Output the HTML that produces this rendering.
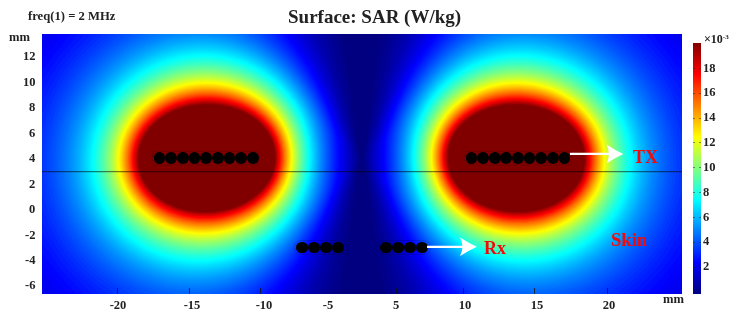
<!DOCTYPE html>
<html><head><meta charset="utf-8">
<style>
html,body{margin:0;padding:0;background:#fff;}
body{width:737px;height:319px;position:relative;overflow:hidden;filter:blur(0.3px);font-family:"Liberation Serif",serif;font-weight:bold;color:#222;}
.t{position:absolute;white-space:nowrap;line-height:1;will-change:transform;}
.c{width:100px;text-align:center;}
#plot{position:absolute;left:42px;top:34px;width:640px;height:260px;overflow:hidden;}
#cb{position:absolute;left:693.4px;top:42.5px;width:7.2px;height:251.5px;
 background:linear-gradient(to top,#000080 0,#0000ff 12.5%,#00ffff 37.5%,#ffff00 62.5%,#ff0000 87.5%,#800000 100%);}
.xt{position:absolute;top:288px;width:1px;height:6px;background:#111;opacity:.75}
.cbt{position:absolute;width:1.8px;height:1.2px;background:#222;opacity:.5}
.dot{position:absolute;width:11.8px;height:11.8px;border-radius:50%;background:#000;}
.red{color:#f20a0a;font-size:18px;}
</style></head><body>
<div class="t" style="left:28px;top:11px;font-size:11.5px;transform:scaleX(1.1);transform-origin:0 0;">freq(1) = 2 MHz</div>
<div class="t" style="left:288px;top:6.5px;font-size:19px;">Surface: SAR (W/kg)</div>
<div class="t" style="left:9.3px;top:30.6px;font-size:12.6px;">mm</div>
<div id="plot"><svg width="640" height="260" viewBox="0 0 640 260" style="position:absolute;left:0;top:0"><rect width="640" height="260" fill="#000080"/><g><path fill="#00008b" d="M295.5 262l-297.5 0 0 -264 300.8 0 7 41.5 8.7 66.4 3.2 18.6 -2.7 14.5 -6.3 48 -4 27 -5.4 30 -3.4 18 -0.4 0z"/><path fill="#000093" d="M287.5 262l-289.5 0 0 -264 293.6 0 5.6 24 5.1 23.5 13.9 79 -15.5 84.5 -6.5 27.5 -6.7 25.5z"/><path fill="#00009b" d="M281 262l-283 0 0 -264 288.2 0 7.5 27 6.5 26 14.2 69 0.3 6 -11.5 56.5 -5.9 25.5 -8.4 30 -6.1 18 -1.4 6 -0.4 0z"/><path fill="#0000a3" d="M276 262l-278 0 0 -264 283.6 0 9.1 28.5 7.9 28.5 14.2 63 0.4 9 -0.6 4.5 -10.4 45.5 -7.3 29 -9 28.5 -9.9 27.5z"/><path fill="#0000ab" d="M271 262l-273 0 0 -264 279.5 0 10.7 30 9 30 14 58 0.6 4 0 8 -0.9 6 -9.6 39.5 -8.9 32 -5.1 15.5 -5.5 15 -7 16.5 -3.8 9.5z"/><path fill="#0000b3" d="M266.5 262l-268.5 0 0 -264 275.8 0 6.4 16.5 5.6 14.5 5.4 15.5 5.1 17 13.4 52.5 0.6 5 0 10 -1.1 7.5 -8.5 33 -5.4 19.5 -5.1 16 -5.9 16.5 -6.1 15 -7.9 17 -3.3 8.5 -0.5 0z"/><path fill="#0000bb" d="M262.5 262l-264.5 0 0 -264 272.3 0 6.9 16.5 6.6 15.5 6 16.5 5.5 17.5 12.9 48.5 0.7 5.5 0 12 -1.3 8.5 -7.3 27.5 -6 20.5 -6 18 -6 15.5 -6.5 15 -7.9 16 -5 11 -0.4 0z"/><path fill="#0000c3" d="M259 262l-261 0 0 -264 269 0 7.7 17 7.2 16 6.5 17 6.3 19 6.6 23 5.6 21.5 0.7 5.5 -0.1 14 -1.4 9 -6.3 23 -6.5 21.5 -6.5 18.5 -6 15 -6.8 14.9 -7.4 14.1 -7.6 15z"/><path fill="#0000cb" d="M255 262l-257 0 0 -264 265.8 0 8.6 17.5 7.7 16.5 7.1 17.5 6.5 19 7.1 23.5 4.7 18.5 0.7 6 -0.1 15.5 -1.5 9.5 -5.8 21 -7.1 22 -7 19 -6.7 15.7 -7.3 14.8 -8.4 15 -7.3 13z"/><path fill="#0000d3" d="M251.5 262l-253.5 0 0 -264 262.8 0 9.2 17.8 8.3 16.7 7.4 17.5 7 19.5 7.1 23 4.3 16.5 0.8 7 -0.1 16.5 -1.4 9.5 -5.2 18.5 -7.4 22.5 -7.5 19.5 -7.1 16 -7.7 14.8 -8.5 14.3 -8.5 14.4z"/><path fill="#0000db" d="M248 262l-250 0 0 -264 259.8 0 9.7 17.6 8.8 16.9 8 18 7.5 20 6.9 22 4.1 15.5 0.7 7.5 -0.1 17.5 -1.3 10 -5.2 18 -7.5 22 -7.8 19.5 -7.5 16 -8.1 14.8 -8.6 13.7 -9.4 15z"/><path fill="#0000e3" d="M244 262l-246 0 0 -264 256.9 0 10.5 18 9.3 17 8.5 18.5 7.7 20 6.9 21.5 3.7 14.5 0.7 8.5 -0.1 18 -1.5 10.5 -5.3 18 -7.6 21.5 -8.5 20 -8 16 -9 15.5 -10.2 14.9 -7.5 11.6 -0.5 0z"/><path fill="#0000eb" d="M240.5 262l-242.5 0 0 -264 254 0 11 17.9 9.9 17.1 8.8 18.5 8 20 6.8 20.5 3.7 14.5 0.8 9.5 -0.2 18.5 -1.6 11 -5 17 -7.8 21.5 -8.6 19.5 -8.6 16.5 -9.2 15.1 -11 15.3 -8 9.6 -0.5 2z"/><path fill="#0000f3" d="M237 262l-227.2 0 -5.1 -7.5 -6.7 -5.5 0 -241.9 7.9 -9.1 243.3 0 11.3 17.5 10.3 17 9 18 8.5 20.5 6.8 20 3.8 14.5 0.8 10.5 -0.2 18.5 -1.5 11.5 -4.9 16.5 -7.8 21 -9.1 20 -8.9 16.5 -9.8 15.3 -11 14.5 -8 9.1 -1.5 3.1z"/><path fill="#0000fb" d="M233.5 262l-214.3 0 -12.6 -15.5 -8.6 -8.4 0 -220.2 9 -9.2 7.6 -10.7 231.8 0 0.6 2.8 12 15.8 10.5 16.8 9.6 18.6 8.6 20.5 6.5 19 3.4 13.5 0.9 12.5 -0.3 18 -1.5 11.5 -5 16.5 -8.1 21 -9.2 19.5 -9.4 16.6 -10 14.8 -11.5 14.4 -7.5 8.1 -2.5 4.1z"/><path fill="#0004ff" d="M230 262l-201.9 0 -10.3 -12 -9.3 -10.8 -10.5 -11.6 0 -199.2 12.7 -14.9 11.9 -15.5 220.9 0 7.2 10.5 11.6 16 10.2 17.3 9.3 19.2 8.1 20.5 4.6 14.5 2.2 10.5 0.6 15.5 -0.6 17 -2.1 12 -6 18 -7.9 19 -9.2 18.4 -9.4 15.6 -10.1 14.3 -11.5 13.5 -10.5 12.2z"/><path fill="#000cff" d="M226.5 262l-190 0 -13.9 -15 -12.3 -14.5 -12.3 -15.3 0 -178.5 8.4 -10.2 7.2 -10 8 -9.5 8.6 -11 210.5 0 7.3 10.2 6.5 8.1 10.7 15.7 9.8 17.4 8.8 19.1 7.3 19.5 3.2 11.5 1.4 9 0.4 16.5 -0.8 16.5 -2.7 12.5 -6.3 18 -8 18.5 -9.3 17.5 -9.5 15.1 -10.5 13.9 -11.5 12.9 -11 12.1z"/><path fill="#0014ff" d="M222.5 262l-177.9 0 -9.1 -9.6 -8.7 -8.4 -8 -9 -7.3 -9.5 -5.9 -9 -7.6 -9.7 0 -157.7 9.8 -13.6 8.6 -12.5 10 -12 11 -13 200.4 0 10.7 13.6 9.5 12.3 10 15.4 9 16.7 8.1 18.5 6.3 18 2.4 10 0.9 10 0.1 17 -1.1 15 -3.4 13.5 -6.7 18 -8.4 18 -9.2 16.4 -10 14.8 -10.5 13.1 -12.5 13 -8 7 -2.5 3.7z"/><path fill="#001cff" d="M219 262l-166.5 0 -11 -10.6 -10.5 -9.9 -9.5 -10.7 -8.5 -11.5 -6.9 -11.3 -8.1 -12 0 -136.1 10.6 -16.9 10.2 -15.5 12 -14.5 13.5 -15 190.7 0 14 16.9 12.5 16.6 9 14.7 8.1 15.8 7.4 17.5 5.1 15.5 1.9 10 0.8 13 -0.3 16 -1.4 13 -3.8 14 -6.9 17.5 -8.4 17.1 -9.5 16.1 -10 14.2 -11 13 -11.5 11.4 -12 11.7z"/><path fill="#0024ff" d="M215 262l-154.8 0 -13.2 -11.7 -12.3 -11.3 -11 -12.5 -9.6 -13.5 -7.8 -14 -8.3 -14.4 0 -113.3 6.2 -10.3 4.9 -10 5.7 -10 6 -9 6.7 -8.7 7.3 -8.3 7.7 -7.7 8.3 -9.3 181.2 0 9 10.6 8.5 9.4 8 10.3 7.3 10.7 8.1 14 7.3 15 6.2 15.5 4.1 13.5 1.6 10.5 0.6 15.5 -0.7 16 -1.6 11 -4.4 14.5 -7.4 17.5 -8.6 16.6 -9.5 15.1 -10.5 14 -11 12.2 -12 11.1 -12 11z"/><path fill="#002cff" d="M210.5 262l-142.7 0 -15.3 -12.5 -14.1 -12.5 -12.4 -14.2 -10.7 -15.8 -8.7 -17 -3.6 -9 -5 -9.3 0 -87.6 6 -12.1 5 -12 6 -11.5 6.8 -11 7.8 -10.5 8.4 -9.6 9.5 -9.3 9.7 -10.1 171.8 0 11 12.1 10 10.9 9.5 12.5 8.7 13.5 7.3 13.5 6.5 14.2 5.1 13.8 2.8 11 1.4 12.5 0.1 16 -1.1 15.5 -2 10.5 -5.1 15 -7.7 16.9 -8.6 15.6 -9.9 14.8 -10.5 13.1 -11.5 11.9 -13 11 -7.5 5.4 -4 4.3z"/><path fill="#0034ff" d="M206.5 262l-131.1 0 -8.9 -7.3 -9 -6.2 -8.1 -6.5 -7.9 -7.4 -7.1 -7.6 -6.5 -8 -6.3 -9 -5.4 -9 -5.4 -11 -4.6 -11.5 -3.6 -11.5 -4.6 -11.9 0 -54.4 3.7 -8.2 4 -14 4.9 -13 6.1 -12.5 7.6 -12.5 8.5 -11.5 9.2 -10.5 10.5 -9.9 10.9 -10.6 162.6 0 12.5 13 12 13 11 14.6 9.7 15.9 6.6 13 5.5 13 3.8 11.5 2.1 10 1.2 15 -0.3 16.5 -1.4 13.5 -2.8 11.5 -5.7 15 -7.8 16 -8.9 15.1 -10 14 -10.5 12.3 -11.5 11.1 -12 9.6 -13 10.4z"/><path fill="#003cff" d="M201.5 262l-118.4 0 -10.1 -7.4 -10 -6.5 -9.5 -7.3 -8.6 -7.8 -7.9 -8.5 -7.6 -9.5 -6.7 -10 -5.6 -10 -5.4 -12 -4.5 -13 -3.3 -13.5 -2 -13.5 -0.8 -13.5 0.5 -14 1.7 -13.5 3 -13.5 4.1 -13 5.4 -13 6.6 -12.5 7.5 -11.5 8.6 -11 9.5 -10.1 10.5 -9.3 11 -10.1 153.3 0 7.7 8 7 6.3 13.5 14.5 12.3 16.7 10.7 18.6 6 12.9 4.6 12 2.7 10 1.4 10 0.6 16.5 -0.8 16.5 -1.9 12 -3.6 12 -6.5 15.2 -8.1 15.3 -9.4 14.5 -10 12.9 -11 11.8 -11.5 10.2 -12.5 9 -12.5 9.1z"/><path fill="#0044ff" d="M196.5 262l-105.5 0 -11.5 -7.6 -11.4 -6.9 -10.6 -7.8 -9.5 -8.4 -9 -9.6 -8 -10.2 -7.1 -11 -6 -11.5 -5.1 -12.5 -3.8 -12.5 -2.7 -13 -1.6 -13.5 -0.2 -13 0.9 -13.5 2.2 -13.5 3.3 -13 4.4 -12.5 5.7 -12.5 6.8 -12 7.7 -11 8.8 -10.5 9.5 -9.5 10.2 -8.6 11.4 -9.9 144.2 0 8.4 8.2 8.5 7.4 7.5 7.4 7.5 8.5 7 9.2 6.5 9.7 6 10.2 5.5 10.9 5.5 13 3.5 11.5 1.8 10 0.9 13 -0.2 15.5 -1.5 14.5 -2.6 11 -4.4 12 -7 14.8 -8.5 14.6 -9.2 13.1 -10.3 12.3 -11 10.9 -12 9.7 -12.5 8.2 -12.5 8.4z"/><path fill="#004cff" d="M190.5 262l-91.1 0 -8.9 -5.7 -12 -6.1 -11 -6.9 -10.5 -8.1 -9.5 -8.9 -8.7 -9.8 -7.8 -10.6 -6.8 -11.4 -5.7 -12 -4.4 -12 -3.3 -12.5 -2.2 -13 -1 -13 0.2 -13 1.5 -13.5 2.6 -13 3.7 -12.5 4.7 -12 6.1 -12 7.1 -11.5 7.9 -10.5 9 -10 9.6 -8.9 10.5 -8.1 10.8 -9 134.9 0 9.8 8.9 9 7.4 9 8.8 8 9.1 7.8 10.3 7.1 11 6.3 11.5 5.4 11.5 4.5 12.5 2.5 10.5 1.4 13.5 0.1 15 -1 14 -2 11.5 -3.6 11.5 -5.4 12.5 -7.6 14.1 -8.7 13.4 -9.8 12.6 -10.5 11.2 -11 9.8 -12 8.7 -12.5 7.2 -12.5 7.5z"/><path fill="#0054ff" d="M183.5 262l-74.9 0 -11.6 -6.1 -11.5 -5.3 -11 -6.3 -10.5 -7.3 -9.9 -8.5 -8.8 -9 -8.1 -10 -7 -10.5 -5.9 -11 -5.1 -12 -3.9 -12 -2.8 -12.5 -1.6 -12.5 -0.4 -13 0.8 -13 1.8 -12.5 3 -12.5 4.1 -12 5 -11.5 6.3 -11.5 7.4 -11 8.1 -10 9 -9.4 9.5 -8.2 10.5 -7.7 11.3 -8.7 125.3 0 10.9 9.1 10 7.9 9.5 9.1 9 10.1 8.5 11.4 7.5 11.9 6.6 12.5 5.3 12.5 3.5 11.5 2 12 0.8 16 -0.7 15.5 -1.6 12 -2.7 10.5 -4.7 12 -6.1 12.5 -8.2 13.5 -9.2 12.8 -10 11.4 -10.5 10.1 -11.5 9.1 -12.5 7.9 -13 6.4 -12 6.3z"/><path fill="#005cff" d="M175 262l-55.5 0 -10.5 -4.8 -10 -3.5 -10 -4.5 -9 -4.8 -10.5 -6.9 -9.5 -7.5 -9 -8.5 -8.3 -9.5 -7.2 -10 -6.3 -10.5 -5.4 -11.5 -4.2 -11.5 -3.2 -12 -2.1 -12 -1 -12.5 0.2 -12.5 1.3 -12.5 2.5 -12.5 3.5 -12 4.4 -11.5 5.5 -11 6.6 -11 7.4 -10 8.3 -9.5 9 -8.6 10 -8 10.5 -7 10.8 -7.9 115.5 0 11.7 9.1 11 8.2 10.5 9.7 9.5 10.5 9.3 12.5 8 13 6.8 13.5 5 13 2.9 12 1.5 15 0 15.5 -1.5 15 -2.2 11 -3.5 10.5 -5.4 12 -7 12.5 -8.7 13 -9.7 11.9 -10.5 10.8 -11.5 9.7 -12 8.2 -12.5 6.7 -13 5.2 -12.5 5.5z"/><path fill="#0064ff" d="M161 262l-25.5 0 -10.5 -3.5 -10.5 -2.4 -11.5 -3.7 -11 -4.7 -10.5 -5.6 -10 -6.5 -9.5 -7.4 -8.5 -8 -8 -9 -7 -9.5 -6.2 -10.2 -5.2 -10.5 -4.2 -11 -3.3 -11.5 -2.3 -11.5 -1.2 -12 -0.1 -11.5 0.9 -12 1.9 -12 3 -11.5 4 -11.5 4.9 -11 5.9 -10.5 6.8 -10 7.7 -9.5 8.4 -8.8 9 -7.8 10 -7.4 10.5 -6.3 10.4 -7.2 105.3 0 2.8 3.4 12.5 7.3 11.5 8.6 11 10.1 10.5 11.9 9.5 13.2 8.2 14 6.4 14 4.1 13 2.2 13.5 0.8 15.5 -0.8 15 -2.2 14.5 -3.3 11.5 -5.1 12 -7.1 13 -8.2 12.5 -9.5 11.9 -10.5 10.9 -11.5 9.8 -12 8.3 -12.5 6.8 -13.5 5.5 -13.5 3.7 -13.5 4.1z"/><path fill="#006cff" d="M158 258l-11.5 0.3 -11.5 -0.8 -11.5 -1.8 -11.5 -3 -11 -3.8 -11 -5 -10.4 -5.9 -9.6 -6.7 -9 -7.5 -8.4 -8.3 -7.5 -9 -6.6 -9.5 -5.7 -10 -5 -11 -3.9 -11 -2.9 -11.5 -1.8 -11.5 -0.7 -12 0.3 -12 1.3 -11.5 2.3 -11.5 3.4 -11.5 4.4 -11 5.2 -10.5 6.4 -10.5 7 -9.5 7.7 -8.7 8.6 -8.3 9.4 -7.6 10 -6.7 10.5 -5.9 10.8 -6.8 94.5 0 10.7 7.2 12 7.5 11.5 9 10.5 10.1 9.9 11.7 9 13 7.6 13.7 5.7 13.3 3.6 12.5 1.9 14 0.5 15 -1 14.5 -2.4 14 -3.5 11.5 -5.6 12.5 -7.2 12.7 -8.5 12.3 -10 11.9 -10.5 10.3 -11.5 9.3 -12 7.7 -12.5 6.3 -13 4.9 -13.5 3.3 -14 1.8z"/><path fill="#0074ff" d="M153.5 256l-14 -0.4 -14 -1.9 -14 -3.6 -13.5 -5.1 -12.5 -6.3 -12 -7.8 -11 -9 -10.2 -10.4 -8.6 -11 -7.4 -12 -5.9 -12.5 -4.7 -13.5 -3.1 -14 -1.6 -14 0 -14.5 1.6 -14 3.1 -14 4.5 -13.5 6 -13 7.5 -12.5 8.8 -11.7 10 -10.7 11 -9.4 12 -8.4 13 -7 14 -7.8 82.8 0 10.2 6.3 10 5.4 10 6.6 9 7.2 9 8.5 8 9 7.5 10 6.7 10.5 5.4 10 4.2 9.5 3 9 2 9 1.5 11.5 0.4 11.5 -0.4 12 -1.4 11.5 -2.1 10 -3.1 9.5 -4.6 10.5 -5.7 10.5 -6.9 10.5 -7.5 9.8 -8 8.9 -9 8.6 -8.5 6.8 -9.5 6.5 -10 5.7 -10 4.5 -10 3.5 -10.5 2.7 -10.5 1.7 -11 0.8z"/><path fill="#007cff" d="M160.5 253.5l-11.5 0.4 -12 -0.8 -12 -1.9 -11.5 -2.9 -11 -3.9 -11 -5.1 -10.5 -6.1 -9.4 -6.7 -9.1 -7.8 -8 -8.3 -7.2 -8.9 -6.6 -10 -5.6 -10.5 -4.4 -10.5 -3.6 -11.5 -2.4 -11.5 -1.3 -11.5 -0.3 -12 0.9 -12 1.9 -11.5 3 -11.5 4 -11 5.1 -11 6.1 -10.5 7.1 -10 7.7 -9 8.6 -8.4 9.5 -7.7 10 -6.8 10.5 -5.8 11 -4.9 11.4 -5.9 69.8 0 14.8 7.7 14 7.6 11 7.8 10.5 9.2 9.5 10.1 9 11.6 7.8 12.5 6.3 12.5 4.3 11.5 2.7 12 1.4 13.5 0.2 14 -1.3 14 -2.5 13 -3.6 11 -5.3 11.5 -7 12 -8 11.3 -9.5 11.1 -10 9.7 -11 8.7 -11.5 7.4 -12 6 -12.5 4.7 -13 3.3 -13.5 1.8z"/><path fill="#0083ff" d="M160 251.5l-11.5 0.3 -12 -0.9 -12 -2 -11.5 -3.1 -11 -4 -11 -5.3 -10.5 -6.3 -9.5 -7 -9 -8.1 -7.9 -8.6 -7.2 -9.5 -6.2 -10 -5.2 -10.5 -4.2 -11 -3.1 -11.5 -2 -11.5 -0.9 -11.5 0.2 -12 1.4 -12 2.4 -11.5 3.6 -11.5 4.5 -11 5.8 -11 6.6 -10 7.5 -9.5 8.2 -8.6 9 -7.9 10 -7.2 10.5 -6.3 11 -5.3 11 -4.1 11.5 -5.1 54.2 0 10.8 5.1 10.5 4.2 10 5.1 10 6.3 10.5 8.2 10 9.6 9 10.5 8.1 11.5 6.9 12 5.3 12 3.4 11 2.1 12 1 13 -0.3 13.5 -1.6 13.5 -2.7 12 -4 11 -5.6 11.5 -7.1 11.5 -8 10.7 -9.5 10.6 -10 9.2 -11 8.3 -11 6.7 -12 5.7 -12 4.2 -12.5 3 -13 1.6z"/><path fill="#008bff" d="M161 249.5l-12 0.3 -12 -0.9 -12 -2 -12 -3.3 -11.5 -4.3 -10.5 -5.2 -10.5 -6.5 -9.5 -7.2 -9 -8.3 -8 -9 -6.9 -9.6 -6.2 -10.5 -5 -11 -3.8 -11 -2.7 -11.5 -1.6 -12 -0.5 -12 0.8 -12 1.9 -12 3.2 -12 4.3 -11.5 5.3 -11 6.4 -10.5 7 -9.5 8.3 -9.2 9 -8.3 9.5 -7.2 10.5 -6.6 11 -5.5 11.5 -4.5 12 -3.5 12 -4.2 32.7 0 15.3 5.2 11 3.7 11 5 10.5 6.1 10 7.2 10 8.9 9 9.7 8.3 10.7 7.2 11.5 5.6 11 4.1 11 2.6 10.5 1.7 12.5 0.5 12.5 -0.7 12.5 -1.9 12.5 -3 11.5 -4.1 10.5 -5.8 11.2 -7 10.9 -8.1 10.4 -8.9 9.6 -10 9 -10.5 7.7 -11 6.5 -11.5 5.3 -11.5 4 -12 2.8 -12.5 1.6z"/><path fill="#0093ff" d="M162.5 247.5l-12 0.4 -12.5 -0.8 -12.5 -2.1 -12 -3.3 -11.5 -4.4 -11 -5.5 -10.5 -6.7 -9.8 -7.6 -8.8 -8.5 -7.9 -9.3 -7.1 -10.2 -5.7 -10.5 -4.8 -11.5 -3.5 -11.5 -2.4 -12 -1.1 -12 0.2 -12.5 1.3 -12 2.6 -12 3.7 -11.5 5 -11.5 6.1 -11 6.9 -10 8.1 -9.5 8.7 -8.5 10 -8.1 10.5 -6.8 11 -5.8 12 -4.9 12 -3.5 12 -2.4 12.5 -1.1 11.5 0 11.5 1.3 11.5 2.3 11 3.5 11 4.8 10 5.6 10 6.9 9 7.6 9 9.1 8 9.7 7.4 10.8 6 11 4.3 10 3.1 10 2.1 11.5 1 12 0 12 -1.2 12 -2.2 11.5 -3.1 10.5 -4.6 10.5 -5.8 10.5 -7 10.3 -8 9.9 -8.5 8.7 -9.5 8.2 -10 7.2 -10.5 6.1 -11 5 -11 3.8 -11.5 2.7 -12 1.6z"/><path fill="#009bff" d="M157.5 246l-12.5 -0.2 -12 -1.3 -12 -2.6 -11.5 -3.7 -11.5 -5 -10.5 -5.8 -10 -6.9 -9.3 -8 -8.2 -8.5 -7.4 -9.5 -6.3 -10 -5.5 -11 -4.1 -11 -3 -11.5 -1.9 -12 -0.6 -12 0.6 -12 1.9 -12 2.9 -11.5 4.2 -11.5 5.3 -11 6.4 -10.5 7.5 -9.9 8.4 -9.1 9.1 -8.2 10 -7.3 10.5 -6.3 11.5 -5.4 11.5 -4.2 12 -3 12 -1.9 12.5 -0.6 11.5 0.6 11.5 1.7 11 2.8 11 4 10.5 5.1 10 6.1 9.5 7.2 9 8.2 8.5 9.3 7.5 9.9 6.5 10.5 5.2 10.5 3.7 10 2.5 10 1.7 12 0.6 12 -0.6 12 -1.6 11.5 -2.6 11 -3.6 10 -5.1 10.5 -6.4 10.5 -7.4 10 -8.4 9.4 -9 8.5 -9.5 7.4 -10 6.4 -10.5 5.5 -11 4.4 -11 3.2 -11.5 2.2 -12 1z"/><path fill="#00a3ff" d="M162 244l-12 0.3 -12 -1 -12 -2.1 -12 -3.4 -11.5 -4.5 -10.5 -5.4 -10 -6.4 -9.4 -7.5 -8.6 -8.4 -7.6 -9.1 -6.5 -9.5 -5.7 -10.5 -4.5 -11 -3.3 -11 -2.2 -11.5 -1.1 -12 0.2 -12 1.5 -12 2.5 -11.5 3.9 -11.5 4.9 -11 6 -10.5 7.1 -10 7.8 -9 9 -8.5 9.5 -7.4 10.5 -6.7 11 -5.6 11.5 -4.5 11.5 -3.2 12 -2.2 12 -1 11.5 0.2 11.5 1.3 11 2.4 11 3.6 10.5 4.6 10 5.7 9.5 6.6 9 7.6 8.5 8.7 8 9.9 6.7 10 5.7 10.5 4.1 10 2.8 10 2 11.5 0.9 11.5 -0.1 12 -1.3 11.5 -2.4 11.5 -3.2 10 -4.4 10 -5.7 10 -7 10 -7.6 9.2 -8.5 8.5 -9.5 8 -9.5 6.6 -10.5 5.9 -10.5 4.6 -11.5 3.8 -11.5 2.5 -11.5 1.4z"/><path fill="#00abff" d="M158.5 242.5l-12 -0.1 -12 -1.4 -12 -2.5 -11.5 -3.7 -11 -4.7 -10.5 -5.8 -9.5 -6.6 -9 -7.6 -8.3 -8.6 -7 -9 -6.4 -10 -5.2 -10.5 -3.9 -10.5 -3 -11.5 -1.8 -11.5 -0.6 -11.5 0.6 -12 1.8 -11.5 3 -11.5 4.1 -11 5.3 -11 6.2 -10 7.2 -9.4 8 -8.6 8.9 -8 9.6 -7 10.5 -6.3 11 -5.2 11.5 -4.1 11.5 -2.9 12 -1.8 12 -0.7 11.5 0.6 11.5 1.7 11 2.7 10.5 3.8 10 4.8 10 6 9.5 7.1 8.5 7.6 8.5 9.2 7.2 9.5 6.3 10 5.2 10.5 3.5 9.5 2.6 10.5 1.6 11.5 0.6 11.5 -0.6 11.5 -1.5 11 -2.7 11 -3.5 10 -4.8 10 -6 10 -7.4 9.9 -8 8.9 -8.5 8 -9.5 7.4 -10 6.4 -10.5 5.4 -10.5 4.2 -11 3.2 -11.5 2.1 -11.5 1z"/><path fill="#00b3ff" d="M164.5 240.5l-11.5 0.4 -12 -0.7 -12 -1.9 -11.5 -3.1 -11 -4.1 -11 -5.3 -10 -6.2 -9 -7 -8.5 -7.9 -7.6 -8.7 -6.7 -9.5 -5.6 -10 -4.5 -10.5 -3.5 -11 -2.3 -11 -1.2 -11.5 0.1 -11.5 1.1 -11.5 2.4 -11.5 3.5 -11 4.5 -10.5 5.7 -10.5 6.9 -10 7.7 -9 8.5 -8.3 9 -7.2 10 -6.6 10.5 -5.5 11 -4.5 11.5 -3.5 11.5 -2.3 12 -1.3 11.5 0 11 1 11 2.1 11 3.3 10 4.1 10 5.3 9.5 6.3 9 7.2 8.5 8.3 7.8 9.1 7 10 5.6 10 4.2 9.5 3.1 10 2.1 11 1.2 11.5 0 11.5 -1.1 11.5 -2.1 11 -3.1 10.5 -4 9.5 -5.4 10 -6.4 9.5 -7.4 9 -8.5 8.7 -9 7.7 -9.5 6.7 -10 5.8 -10.5 4.7 -11 3.8 -11 2.6 -11.5 1.5z"/><path fill="#00bbff" d="M163.5 239l-11.5 0.3 -12 -0.9 -11.5 -1.9 -11.5 -3.2 -10.5 -4 -10.5 -5.2 -10 -6.3 -9 -6.9 -8.3 -7.9 -7.3 -8.5 -6.6 -9.5 -5.6 -10 -4.4 -10.5 -3.4 -11 -2.2 -11 -1 -11.5 0.2 -11.5 1.3 -11.5 2.5 -11 3.6 -11 4.7 -10.5 5.7 -10 6.7 -9.5 7.6 -8.8 8.5 -8.1 9 -7 10 -6.4 10.5 -5.4 11 -4.4 11.5 -3.3 11.5 -2.2 12 -1.1 11.5 0.2 11 1.1 11 2.3 10.5 3.3 10.5 4.5 9.5 5.2 9.5 6.5 8.5 7.1 8.5 8.4 7.5 9.1 6.5 9.6 5.4 9.9 3.9 9.5 2.9 10 2.1 11 0.9 11 -0.1 11.5 -1.2 11 -2.2 11 -3.3 10.5 -4.2 9.5 -5.3 9.5 -6.4 9.2 -7.5 9 -8.5 8.5 -9 7.4 -9.5 6.5 -10 5.6 -10.5 4.5 -10.5 3.4 -11 2.5 -11.5 1.4z"/><path fill="#00c3ff" d="M163 237.5l-11.5 0.2 -12 -0.9 -11.5 -2.1 -11 -3.1 -11 -4.3 -10 -5.1 -9.5 -6 -9 -7.1 -8 -7.6 -7.5 -8.9 -6.3 -9.1 -5.4 -10 -4.4 -10.5 -3.1 -10.5 -2.1 -11 -0.9 -11 0.1 -11 1.4 -11.5 2.5 -11 3.5 -10.5 4.7 -10.5 5.7 -10 6.8 -9.5 7.5 -8.6 8.4 -7.9 9.1 -7 10 -6.3 10.5 -5.3 11 -4.3 11.5 -3.3 11.5 -2 11.5 -1 11 0.2 11 1.2 11 2.3 10.5 3.4 10 4.2 9.5 5.2 9.5 6.5 8.5 7.1 8 7.9 7.5 9.1 6.5 9.5 5.2 9.6 3.9 9.5 2.9 10 2 11 0.9 11 -0.1 11 -1.2 11 -2.3 11 -3.4 10.5 -4.1 9.5 -5.5 9.5 -6.3 9 -7.5 8.8 -8.5 8.4 -9 7.3 -9.5 6.3 -10 5.4 -10.5 4.5 -10.5 3.2 -11 2.4 -11 1.2z"/><path fill="#00cbff" d="M163.5 236l-11.5 0.2 -11.5 -0.8 -11.5 -2.1 -11 -3 -10.5 -4 -10 -5 -9.5 -6 -9 -6.9 -8.3 -7.9 -7.2 -8.5 -6.3 -9 -5.4 -10 -4.3 -10 -3.2 -10.5 -2.1 -11 -0.9 -11 0.1 -11 1.4 -11 2.4 -11 3.5 -10.5 4.5 -10 5.7 -10 6.6 -9.3 7.6 -8.7 8.4 -7.9 9 -7 9.5 -6 10.5 -5.3 10.5 -4.1 11.5 -3.3 11.5 -2.1 11.5 -1 11 0.2 11 1.1 10.5 2.2 10.5 3.3 10 4.2 9.5 5.1 9.5 6.4 8.5 7 8 7.9 7.5 9 6.3 9.3 5.2 9.5 3.9 9.5 2.9 10 1.9 10.5 0.9 11 -0.1 11 -1.2 11 -2.4 11 -3.2 10 -4.2 9.5 -5.1 9 -6.3 9 -7.2 8.5 -7.9 7.8 -9 7.4 -9.5 6.4 -10 5.5 -10.5 4.5 -10.5 3.3 -11 2.3 -11 1.3z"/><path fill="#00d3ff" d="M164.5 234.5l-11.5 0.3 -11 -0.8 -11.5 -1.9 -11 -2.9 -10.5 -3.9 -10 -4.9 -9.5 -5.9 -9 -6.9 -8 -7.5 -7.1 -8.1 -6.4 -9 -5.3 -9.5 -4.4 -10 -3.3 -10.5 -2.2 -10.5 -1 -11 0 -11 1.3 -11 2.4 -11 3.4 -10.5 4.4 -10 5.7 -10 6.3 -9 7.4 -8.5 8.3 -7.9 9 -7 10 -6.3 10 -5.1 10.5 -4.1 11 -3.2 11 -2 11.5 -1.1 11 0.1 11 1.1 10.5 2.1 10.5 3.1 10 4.2 10 5.3 9 6.1 8.5 6.9 8 7.9 7.1 8.4 6.2 9 5.2 9.5 3.8 9 3 10 2 10.5 1 11 -0.1 11 -1.1 10.5 -2.3 11 -3.1 10 -4.1 9.5 -5.1 9 -6 8.7 -7 8.3 -8 8 -9 7.4 -9.5 6.4 -9.5 5.2 -10 4.3 -10.5 3.4 -11 2.5 -11 1.3z"/><path fill="#00dbff" d="M166 233l-11 0.4 -11.5 -0.6 -11 -1.7 -11 -2.8 -10.5 -3.8 -10 -4.7 -9.5 -5.7 -9 -6.7 -8.1 -7.4 -7.4 -8.3 -6.3 -8.7 -5.4 -9.5 -4.5 -10 -3.2 -10 -2.2 -10.5 -1.2 -10.5 0 -11 1 -10.5 2.2 -10.5 3.2 -10.5 4.3 -10 5.5 -10 6.2 -9 7.2 -8.5 8.2 -8 8.5 -6.8 9.5 -6.2 10 -5.2 10 -4.1 11 -3.4 11 -2.3 11.5 -1.2 11 -0.1 10.5 0.8 10.5 1.9 10.5 3 10 3.9 9.5 4.8 9.5 6 8.5 6.7 8 7.5 7.5 8.6 6.5 9.1 5.1 9 4.1 9.5 3 9.5 2.2 10.5 1.1 10.5 0 11 -1 10.5 -2 10.5 -3 10 -3.9 9.5 -4.9 9 -6.1 9 -6.6 8.1 -8 8.1 -8.5 7.1 -9.5 6.6 -9.5 5.3 -10 4.4 -10.5 3.5 -10.5 2.4 -11 1.5z"/><path fill="#00e3ff" d="M160 232l-11 -0.2 -11 -1.2 -11 -2.2 -10.5 -3.3 -10.5 -4.4 -9.5 -5.1 -9 -6.1 -8.5 -7 -7.8 -8 -6.7 -8.5 -5.8 -9 -4.7 -9.5 -3.8 -10 -2.6 -10 -1.6 -10.5 -0.6 -11 0.7 -11 1.7 -10.5 2.9 -10.5 3.8 -10 4.8 -9.5 6.1 -9.5 6.6 -8.5 7.7 -8 8.3 -7.1 9 -6.4 10 -5.7 10 -4.5 10.5 -3.6 11 -2.7 11.5 -1.6 11 -0.5 11 0.6 10.5 1.6 10.5 2.6 10 3.6 9.5 4.4 9.5 5.6 8.5 6.3 8 7 7.5 8 6.4 8.4 5.7 9 4.4 9 3.4 9.5 2.5 10 1.5 10.5 0.5 10.5 -0.6 10.5 -1.6 10.5 -2.5 10 -3.7 10 -4.4 9 -5.7 9 -6.5 8.5 -7.4 8 -8 7.2 -9 6.6 -9 5.5 -10 4.9 -10 3.8 -10.5 2.8 -10.5 1.8 -11 0.9z"/><path fill="#00ebff" d="M164 230.5l-11.5 0.2 -11 -0.9 -11 -2 -10.5 -2.9 -10.5 -4.1 -9.5 -4.8 -9 -5.7 -8.5 -6.6 -7.6 -7.2 -6.9 -8 -6.2 -9 -5 -9 -4 -9.5 -3.1 -10 -2 -10.5 -0.9 -10.5 0.2 -10.5 1.3 -10.5 2.4 -10.5 3.4 -10 4.3 -9.5 5.5 -9.5 6.5 -9 7.1 -8 8.1 -7.5 8.9 -6.7 9 -5.6 10 -5 10.5 -4 11 -3.1 11 -1.9 11 -0.9 10.5 0.2 10.5 1.1 10.5 2.1 10 3.1 9.5 3.9 9.5 5.1 9 5.9 8.5 6.9 7.5 7.4 7 8.4 5.9 8.6 4.8 9 3.7 9 2.9 10 1.9 10 0.9 10.5 -0.2 10.5 -1.2 10.5 -2.3 10.5 -3.2 9.5 -3.9 9 -5.2 9 -6.1 8.5 -6.9 8 -7.6 7.3 -8.5 6.8 -9.5 6.3 -9.5 5 -10 4.1 -10.5 3.2 -10.5 2.1 -10.5 1.2z"/><path fill="#00f3ff" d="M167 229l-11 0.4 -11 -0.6 -10.5 -1.5 -10.5 -2.6 -10 -3.5 -10 -4.5 -9.5 -5.6 -8.5 -6.2 -8 -7.1 -7.1 -7.8 -6.3 -8.5 -5.3 -9 -4.3 -9.5 -3.3 -9.5 -2.2 -10 -1.3 -10.5 -0.1 -10.5 1 -10.5 2.1 -10.5 3.1 -10 4 -9.5 5.2 -9.5 6 -8.7 7 -8.3 7.6 -7.5 8.4 -6.7 9 -6 10 -5.2 10 -4.2 10.5 -3.2 10.5 -2.2 11 -1.2 11 -0.2 10.5 0.8 10.5 1.8 10 2.8 9.5 3.6 9.5 4.7 9 5.5 8.5 6.5 8 7.4 6.9 7.8 6.1 8.3 5.1 8.7 4 9 3.2 9.5 2.2 10 1.2 10.5 0.1 10.5 -0.8 10 -1.9 10 -2.9 10 -3.9 9.5 -4.5 8.5 -5.8 8.7 -6.8 8.3 -7.7 7.7 -8 6.7 -9 6.2 -9.5 5.3 -10 4.4 -10 3.4 -10.5 2.4 -10.5 1.4z"/><path fill="#00fbff" d="M163.5 228l-11 0.1 -11 -1 -10.5 -1.9 -10.5 -3 -10 -3.9 -9.5 -4.8 -9 -5.7 -8.1 -6.3 -7.8 -7.5 -6.6 -7.8 -5.9 -8.7 -4.9 -9 -3.9 -9.5 -2.9 -10 -1.8 -10 -0.8 -10 0.3 -10.5 1.3 -10 2.4 -10 3.5 -10 4.4 -9.5 5.4 -9 6.3 -8.5 7.2 -8 7.9 -7.1 9 -6.7 9 -5.4 10 -4.8 10.5 -3.9 10.5 -2.8 10.5 -1.7 11 -0.8 10.5 0.3 10.5 1.2 10 2.1 10 3.2 9.5 4 9.5 5.2 8.5 5.7 8 6.6 7.5 7.5 6.5 7.9 5.6 8.5 4.6 8.5 3.6 9 2.8 10 1.8 10 0.7 10 -0.2 10.5 -1.3 10 -2.3 10 -3.2 9.5 -4.2 9 -4.9 8.5 -6 8.2 -7 7.9 -7.5 7.1 -8.5 6.6 -9 5.7 -9.5 4.9 -10 4 -10 3 -10.5 2 -10.5 1.1z"/><path fill="#04fffb" d="M167.5 226.5l-11 0.5 -10.5 -0.6 -10.5 -1.5 -10.5 -2.6 -10 -3.4 -10 -4.6 -9 -5.3 -8.3 -6 -7.7 -6.8 -7 -7.7 -6.4 -8.5 -5 -8.5 -4.2 -9 -3.2 -9.5 -2.3 -10 -1.2 -10 -0.2 -10 0.9 -10 1.9 -10 3 -10 4 -9.5 4.9 -9 6.1 -9 6.7 -8 7.5 -7.4 8.2 -6.6 8.8 -5.8 9.5 -5.1 10 -4.2 10 -3.1 10.5 -2.2 11 -1.3 10.5 -0.3 10.5 0.8 10.5 1.7 10 2.7 9.5 3.5 9.5 4.6 9 5.6 8 6 7.5 6.8 7.1 7.8 6.2 8.5 5 8.5 3.9 8.5 3.1 9.5 2.3 10 1.2 10 0.1 10 -0.8 10 -1.9 10 -2.8 9.5 -3.6 9 -4.8 9 -5.5 8.2 -6.5 8 -7.5 7.5 -8 6.7 -8.5 5.9 -9.5 5.3 -9.5 4.2 -10 3.3 -10.5 2.5 -10.5 1.4z"/><path fill="#0cfff3" d="M165.5 225.5l-10.5 0.3 -10.5 -0.7 -10.5 -1.7 -10.5 -2.8 -10 -3.7 -9.5 -4.5 -9 -5.5 -8 -6.1 -7.5 -6.9 -7 -7.9 -5.7 -8 -5.1 -9 -4 -9 -3 -9.5 -2 -10 -1 -10 0.1 -10 1.2 -10 2.2 -10 3.1 -9.5 4.3 -9.5 5.2 -9 6.1 -8.5 6.7 -7.5 7.4 -7 8.5 -6.5 9 -5.7 9.5 -4.7 10 -3.9 10.5 -3 10.5 -2 10.5 -0.9 10.5 0 10.5 1 10 1.9 10 3 9.5 3.8 9 4.6 8.5 5.4 8.2 6.5 7.3 7 6.9 8 5.6 8 4.7 8.5 3.8 9 2.9 9.5 1.9 9.5 0.9 10 -0.1 10 -1 9.5 -2.1 10 -3.1 9.5 -3.9 9 -4.8 8.5 -5.7 8 -6.5 7.6 -7.5 7.2 -8 6.4 -9 6 -9 4.7 -10 4.2 -10 3.1 -10 2.1 -10.5 1.2z"/><path fill="#14ffeb" d="M163 224.5l-10.5 0 -10.5 -1 -10.5 -1.9 -10 -2.9 -10 -3.9 -9 -4.7 -8.5 -5.4 -8 -6.3 -7.5 -7.2 -6.5 -7.7 -5.7 -8.5 -4.6 -8.5 -3.8 -9.5 -2.8 -9.5 -1.6 -9.5 -0.7 -10 0.3 -10 1.5 -10 2.3 -9.5 3.5 -9.5 4.3 -9 5.5 -9 6.3 -8.3 7 -7.5 8 -7.1 8.5 -6.1 9 -5.2 9.5 -4.5 10 -3.5 10.5 -2.7 10.5 -1.6 10.5 -0.7 10.5 0.4 10 1.2 10 2.2 10 3.3 9 3.9 9 4.9 8.5 5.8 7.8 6.5 6.9 7 6.3 7.8 5.4 8.2 4.4 8.5 3.5 9 2.6 9.5 1.5 9.5 0.7 10 -0.4 10 -1.4 9.5 -2.3 9.5 -3.2 9 -4 8.5 -5.1 8.5 -5.9 8 -6.8 7.5 -7.5 6.8 -8.5 6.4 -9 5.6 -9 4.4 -9.5 3.6 -10 2.9 -10 1.8 -10.5 1z"/><path fill="#1cffe3" d="M159 223.5l-10.5 -0.4 -10.5 -1.4 -10.5 -2.4 -9.5 -3.1 -9.5 -4.2 -9 -5 -8.5 -6 -7.5 -6.4 -6.8 -7.1 -6.2 -8 -5.2 -8.5 -4.3 -9 -3.4 -9.5 -2.2 -9.5 -1.3 -9.5 -0.2 -10 0.9 -10 1.8 -9.5 2.8 -9.5 4 -9.5 4.9 -9 5.7 -8.4 6.5 -7.7 7.5 -7.3 8 -6.5 9 -5.8 9.5 -5 9.5 -3.8 10 -3.1 10.5 -2.1 10.5 -1.2 10.5 -0.1 10.5 0.8 10 1.8 9.5 2.6 9.5 3.6 9 4.4 8.5 5.2 8 6 7.5 6.9 6.5 7.3 5.8 7.9 4.7 8 3.9 8.5 3 9 2.1 9.5 1.2 9.5 0.2 10 -0.8 9.5 -1.8 9.5 -2.8 9.5 -3.7 9 -4.6 8.5 -5.4 8 -6.2 7.5 -6.9 7 -7.7 6.4 -8.5 5.8 -9 5.1 -9 4 -9.5 3.2 -10 2.4 -10 1.5 -10.5 0.6z"/><path fill="#24ffdb" d="M167.5 222l-10.5 0.4 -10.5 -0.6 -10 -1.5 -10 -2.4 -9.5 -3.3 -9.5 -4.3 -8.5 -5 -8.1 -5.8 -7.4 -6.5 -7 -7.5 -5.6 -7.5 -5.2 -8.5 -4 -8.5 -3.3 -9.5 -2.1 -9.5 -1.2 -9.5 -0.1 -9.5 0.9 -10 1.9 -9.5 2.9 -9.5 3.8 -9 4.7 -8.5 5.8 -8.4 6.5 -7.7 7.1 -6.9 8.1 -6.5 8.8 -5.7 9 -4.8 9.5 -3.9 10 -3 10 -2.1 10.5 -1.2 10.5 -0.2 10 0.7 10 1.6 9.5 2.5 9.5 3.5 9 4.3 8.5 5.1 8 5.9 7.5 6.8 6.5 7.1 5.9 7.9 4.8 8 4.1 9 3 9 2.1 9.5 1.2 9.5 0.1 10 -0.9 9.5 -1.9 9.5 -2.7 9 -3.7 9 -4.7 8.5 -5.5 8 -6.3 7.5 -7 6.9 -8 6.5 -8.5 5.7 -9 4.8 -9 3.9 -10 3.2 -10 2.2 -10 1.3z"/><path fill="#2cffd3" d="M167 221l-10.5 0.3 -10 -0.6 -10 -1.5 -10 -2.5 -9.5 -3.3 -9 -4.1 -9 -5.3 -8 -5.8 -7.5 -6.7 -6.4 -7 -6 -8 -4.7 -8 -4.1 -9 -3 -9 -2.1 -9.5 -1.1 -9.5 0 -10 1 -9.5 2 -9.5 2.9 -9 4 -9 4.8 -8.5 5.6 -8 6.6 -7.7 7.2 -6.8 7.8 -6.1 8.5 -5.5 9 -4.6 9.5 -3.9 10 -3 10 -2 10.5 -1.1 10.5 -0.1 10 0.8 10 1.7 9.5 2.6 9.5 3.6 9 4.4 8 4.9 8 6 7 6.4 6.7 7.4 5.5 7.5 4.8 8.3 3.9 8.7 3 9 1.9 9 1.1 9.5 0.1 9.5 -0.9 9.5 -1.8 9.5 -2.8 9 -3.6 8.5 -4.6 8.5 -5.5 8 -6.3 7.4 -7 6.9 -8 6.4 -8.5 5.6 -9 4.8 -9.5 4 -9.5 3 -10 2.2 -10 1.2z"/><path fill="#34ffcb" d="M166.5 220l-10.5 0.3 -10 -0.7 -10 -1.6 -10 -2.5 -9.5 -3.5 -9 -4.2 -8.5 -5.1 -7.8 -5.7 -7.2 -6.5 -6.4 -7 -5.9 -8 -4.6 -8 -3.9 -8.5 -3 -9 -2.1 -9.5 -1 -9.5 0 -9.5 1 -9.5 2.1 -9.5 2.9 -9 4 -9 4.9 -8.5 5.7 -8 6.6 -7.5 7.2 -6.7 8 -6.2 8.5 -5.3 9 -4.5 9.5 -3.8 10 -2.8 10 -1.9 10 -1 10 -0.1 10 0.9 10 1.7 9.5 2.7 9 3.4 9 4.4 8 4.9 8 6.1 7 6.4 6.5 7.3 5.8 8 4.5 8 3.8 8.5 2.8 9 1.9 9 1 9.5 0 9.5 -1 9.5 -1.9 9 -2.8 9 -3.7 8.5 -4.8 8.5 -5.3 7.5 -6.3 7.3 -7 6.8 -8 6.3 -8.5 5.5 -8.5 4.5 -9.5 3.9 -9.5 2.9 -10 2.1 -10 1.2z"/><path fill="#3cffc3" d="M166 219l-10 0.2 -10 -0.6 -10 -1.6 -10 -2.6 -9.5 -3.5 -9 -4.3 -8 -4.8 -8 -5.9 -7.1 -6.4 -6.4 -7.2 -5.7 -7.8 -4.6 -8 -3.8 -8.5 -3 -9 -1.9 -9 -0.9 -9.5 0 -9.5 1.1 -9.5 2.1 -9.5 3 -9 3.9 -8.5 5 -8.5 5.8 -8 6.5 -7.3 7.5 -6.9 8 -6 8.5 -5.2 9 -4.4 9.5 -3.6 9.5 -2.6 10 -1.9 10 -0.8 10 0 10 0.9 9.5 1.7 9.5 2.7 9 3.5 9 4.5 8.5 5.4 7.5 5.8 7 6.6 6.2 7.1 5.3 7.5 4.5 8 3.7 8.5 2.7 8.5 1.9 9 0.9 9.5 0 9.5 -1 9 -1.9 9 -2.9 9 -3.9 8.7 -4.8 8.3 -5.3 7.5 -6.4 7.3 -7 6.6 -8 6.2 -8 5.1 -9 4.6 -9 3.7 -9.5 2.9 -10 2 -10 1.1z"/><path fill="#44ffbb" d="M166.5 218l-10 0.3 -10 -0.7 -10 -1.6 -9.5 -2.4 -9.5 -3.4 -8.5 -4 -8.5 -4.9 -8 -5.9 -7.1 -6.4 -6.4 -7 -5.5 -7.5 -4.7 -8 -3.9 -8.5 -3 -9 -1.9 -9 -1 -9.5 0.1 -9.5 1.1 -9.5 2 -9 3 -9 4.1 -9 4.7 -8 5.5 -7.6 6.5 -7.3 7.1 -6.6 7.9 -6 8.5 -5.2 9 -4.5 9 -3.5 9.5 -2.7 10 -1.9 10 -0.9 10 -0.1 10 0.9 9.5 1.7 9.5 2.6 9 3.5 9 4.4 8 5 7.5 5.7 7 6.4 6.3 7.1 5.4 7.5 4.6 8 3.5 8 2.9 9 1.9 9 1 9.5 0 9 -1 9 -1.9 9 -2.9 9 -3.7 8.5 -4.6 8 -5.3 7.5 -6.2 7.2 -7 6.6 -7.5 5.9 -8.5 5.5 -8.5 4.4 -9 3.7 -9.5 3 -10 2.1 -10 1.1z"/><path fill="#4cffb3" d="M167 217l-10 0.3 -10 -0.6 -10 -1.6 -9.5 -2.4 -9.5 -3.4 -8.5 -3.9 -8.5 -5 -7.5 -5.5 -7.2 -6.4 -6.4 -7 -5.6 -7.5 -4.7 -8 -3.9 -8.5 -2.8 -8.5 -1.9 -9 -1 -9 0 -9 1 -9.5 1.9 -9 2.9 -9 3.8 -8.5 4.5 -8 5.7 -8 6.2 -7 7 -6.6 8 -6.2 8 -5 9 -4.6 9 -3.5 9.5 -2.8 10 -2 10 -1 10 -0.1 10 0.8 9.5 1.6 9.5 2.6 9 3.4 8.5 4.1 8.5 5.2 7.4 5.6 7.1 6.5 6 6.7 5.3 7.3 4.7 8 3.8 8.5 2.8 8.5 1.9 9 1 9 0 9 -0.9 9 -1.9 9 -2.9 9 -3.7 8.5 -4.6 8 -5.3 7.5 -6.1 7 -7.1 6.8 -7.5 5.8 -8 5.1 -8.5 4.5 -9 3.7 -9.5 2.9 -9.5 2 -10 1.2z"/><path fill="#54ffab" d="M167.5 216l-10 0.3 -10 -0.5 -9.5 -1.5 -9.5 -2.3 -9 -3.1 -9 -4.1 -8.5 -4.9 -7.5 -5.4 -7 -6.1 -6.5 -7 -5.5 -7.4 -4.8 -8 -4 -8.5 -2.8 -8.5 -1.9 -8.5 -1.1 -9 -0.1 -9 0.9 -9 1.8 -9 2.9 -9 3.7 -8.5 4.8 -8.5 5.3 -7.5 6.3 -7.2 7 -6.6 7.5 -5.8 8 -5.1 9 -4.6 9 -3.6 9.5 -2.9 9.5 -1.9 10 -1 10 -0.2 9.5 0.7 9.5 1.6 9.5 2.4 9 3.3 8.5 4 8.5 5.1 7.5 5.5 7 6.3 6.3 7 5.5 7.5 4.4 7.5 3.7 8 2.9 8.5 2 9 1 9 0.1 9 -0.9 9 -1.8 9 -2.7 8.5 -3.6 8.5 -4.5 8 -5.3 7.5 -6 7 -7.1 6.8 -7.5 5.8 -8 5.2 -8.5 4.4 -9 3.7 -9 2.8 -9.5 2.1 -10 1.2z"/><path fill="#5cffa3" d="M168.5 215l-10 0.4 -10 -0.5 -9.5 -1.4 -9.5 -2.2 -9 -3 -9 -4.1 -8 -4.5 -7.5 -5.2 -7 -6 -6.2 -6.5 -5.8 -7.4 -4.8 -7.6 -3.9 -8 -3 -8.5 -2.2 -9 -1.2 -9 -0.2 -9 0.8 -9 1.7 -9 2.6 -8.5 3.6 -8.5 4.3 -8 5.3 -7.7 6.1 -7.3 6.9 -6.7 7.5 -5.9 8 -5.3 8.5 -4.5 9 -3.7 9 -2.8 9.5 -2.1 10 -1.2 10 -0.3 9.5 0.5 9.5 1.5 9.5 2.3 9 3.1 8.5 3.9 8.5 4.9 7.5 5.3 7 6.1 6.5 6.9 5.3 7 4.7 7.6 3.8 7.9 3 8.5 2.2 9 1.2 9 0.2 9 -0.7 8.5 -1.7 9 -2.6 8.5 -3.5 8.5 -4.4 8 -5.1 7.5 -5.9 7 -6.5 6.4 -7.5 6.1 -8 5.3 -8.5 4.6 -9 3.8 -9.5 3 -9.5 2.1 -9.5 1.2z"/><path fill="#64ff9b" d="M161 214.5l-10 -0.3 -9.5 -1.2 -9.5 -2 -9 -2.8 -9 -3.8 -8.5 -4.5 -8 -5.4 -7 -5.8 -6.5 -6.7 -5.6 -7 -5.1 -8 -4 -8 -3.1 -8.5 -2.1 -8.5 -1.3 -9 -0.2 -9 0.7 -9 1.7 -9 2.7 -9 3.6 -8.5 4.5 -8 5.2 -7.6 6 -7 7 -6.7 7.5 -6 8 -5.1 8.5 -4.4 9.5 -3.8 9.5 -2.9 9.5 -1.9 9.5 -1 10 -0.2 9.5 0.7 9.5 1.6 9.5 2.4 8.5 3.1 8.5 4 8 4.7 7.5 5.5 6.5 5.7 6 6.4 5.5 7.2 4.5 7.3 3.8 8 3.1 8.5 2 8.5 1.1 8.5 0.3 9 -0.7 9 -1.6 8.5 -2.6 8.5 -3.3 8 -4.2 8 -5.1 7.5 -5.8 7 -6.5 6.4 -7 5.8 -7.5 5.1 -8 4.4 -9 4 -9 3.1 -9.5 2.2 -9.5 1.4 -9.5 0.6z"/><path fill="#6cff93" d="M164.5 213.5l-10 0 -9.5 -0.8 -9.5 -1.8 -9 -2.5 -9 -3.4 -8.5 -4.2 -8 -4.9 -7 -5.4 -6.5 -6 -6.1 -7 -5.3 -7.5 -4.5 -8 -3.3 -8 -2.6 -8.5 -1.6 -8.5 -0.7 -9 0.3 -9 1.2 -8.5 2.2 -9 3.1 -8.5 3.9 -8 5 -8 5.8 -7.5 6.2 -6.5 6.9 -6 8 -5.7 8.5 -4.9 8.5 -3.9 9 -3.2 9.5 -2.4 9.5 -1.5 10 -0.6 9.5 0.2 9.5 1.1 9 1.9 9 2.7 8.5 3.4 8.5 4.4 8 5.2 7 5.6 6.5 6.4 5.7 6.8 5.1 7.5 4 7.5 3.3 8 2.5 8.5 1.5 8.5 0.6 8.5 -0.3 9 -1.2 8.5 -2.1 8.5 -2.9 8 -3.8 8 -4.6 7.5 -5.6 7.5 -6.2 6.6 -7 6.2 -7.5 5.5 -8 4.7 -8.5 4.1 -9 3.4 -9 2.4 -9.5 1.7 -9.5 0.9z"/><path fill="#74ff8b" d="M167 212.5l-9.5 0.2 -9.5 -0.6 -9.5 -1.4 -9.5 -2.4 -8.5 -3 -8.5 -3.9 -8 -4.6 -7.5 -5.4 -6.8 -5.9 -6.2 -6.7 -5.4 -7.3 -4.5 -7.5 -3.7 -8 -2.7 -8 -1.9 -8.5 -1 -9 0 -8.5 1 -9 1.8 -8.5 2.8 -8.5 3.6 -8 4.6 -8 5.4 -7.5 6 -6.7 6.8 -6.3 7.2 -5.5 8 -5 8.5 -4.3 9 -3.5 9 -2.6 9.5 -1.8 9.5 -1 9.5 -0.1 9.5 0.7 9.5 1.6 9 2.4 9 3.3 8.5 4 7.5 4.5 7.5 5.5 6.9 6.3 5.9 6.5 5.2 7 4.4 7.5 3.6 8 2.8 8.5 1.8 8.5 0.9 8.5 0.1 8.5 -0.9 8.5 -1.8 8.5 -2.8 8.5 -3.6 8 -4.3 7.5 -5.2 7.3 -6 6.8 -6.5 6.1 -7.5 5.8 -8 5.1 -8.5 4.3 -9 3.5 -9 2.7 -9 1.8 -9.5 1.1z"/><path fill="#7cff83" d="M169 211.5l-9.5 0.4 -9.5 -0.4 -9.5 -1.3 -9 -2.1 -9 -2.9 -8.5 -3.7 -8 -4.4 -7.5 -5.2 -7 -5.9 -6 -6.2 -5.4 -6.8 -4.7 -7.5 -4 -8 -2.9 -8 -2.1 -8.5 -1.1 -8.5 -0.3 -8.5 0.7 -8.5 1.6 -8.5 2.5 -8.5 3.3 -8 4.4 -8 5.1 -7.5 5.9 -7 6.5 -6.3 7 -5.6 8 -5.3 8 -4.2 8.5 -3.6 9 -2.9 9.5 -2.1 9.5 -1.2 9.5 -0.3 9 0.4 9.5 1.3 9 2.1 9 3 8.5 3.7 8 4.5 7.5 5.2 6.9 5.8 6.1 6.3 5.5 6.9 4.6 7.3 4 8 2.9 8 2.1 8.5 1.2 8.5 0.3 8.5 -0.6 8.5 -1.6 8.5 -2.5 8.5 -3.3 8 -4.3 8 -5.2 7.5 -5.6 6.6 -6.5 6.3 -7 5.7 -8 5.2 -8 4.3 -9 3.8 -9 2.8 -9 2 -9.5 1.3z"/><path fill="#83ff7c" d="M163.5 211l-9.5 -0.1 -9.5 -0.9 -9 -1.7 -9 -2.6 -8.5 -3.3 -8.5 -4.3 -8 -5 -7 -5.5 -6.3 -6.1 -5.7 -6.7 -5 -7.3 -4.1 -7.5 -3.2 -8 -2.5 -8.5 -1.4 -8.5 -0.5 -8.5 0.5 -9 1.3 -8.5 2.4 -8.5 3.1 -8 4.1 -8 4.8 -7.3 5.8 -7.2 6.2 -6.3 7 -5.8 7.5 -5.2 8 -4.5 9 -3.9 9 -3 9.5 -2.2 9.5 -1.3 9.5 -0.5 9.5 0.4 9 1.2 9 2 9 2.9 8.5 3.6 8 4.3 7.5 5.1 6.5 5.3 6.4 6.4 5.3 6.5 4.6 7 3.9 7.5 3.2 8 2.2 8 1.5 8.5 0.4 8.5 -0.4 8.5 -1.3 8.5 -2.2 8 -3 8 -3.8 7.5 -4.8 7.5 -5.5 7 -6 6.2 -6.5 5.6 -7.5 5.3 -8 4.7 -8.5 3.9 -9 3.2 -9 2.3 -9 1.6 -9.5 0.7z"/><path fill="#8bff74" d="M167 210l-9.5 0.2 -9 -0.6 -9.5 -1.4 -9 -2.3 -9 -3.1 -8 -3.7 -7.5 -4.3 -7.5 -5.4 -6.5 -5.7 -6 -6.4 -5.1 -6.8 -4.6 -7.5 -3.7 -8 -2.7 -8 -1.7 -8 -1 -8.5 0 -8.5 0.9 -8.5 1.8 -8.5 2.7 -8 3.5 -8 4.4 -7.5 5.4 -7.5 5.8 -6.5 6.8 -6.2 7.5 -5.7 8 -4.9 8 -3.9 8.5 -3.3 9 -2.5 9 -1.7 9.5 -1 9.5 -0.1 9 0.7 9 1.5 9 2.3 8.5 3.1 8.5 3.9 7.5 4.5 7.5 5.4 6.5 5.8 6 6.6 5 6.7 4.4 7.3 3.6 8 2.7 8 1.7 8 1 8.5 0 8.5 -0.8 8 -1.8 8.5 -2.7 8 -3.6 8 -4.3 7.5 -5.1 7 -5.8 6.5 -6.8 6.3 -7 5.3 -7.5 4.7 -8.5 4.3 -8.5 3.4 -9 2.6 -9 1.9 -9.5 1z"/><path fill="#93ff6c" d="M169.5 209l-9.5 0.4 -9 -0.3 -9 -1.2 -9 -2 -8.5 -2.7 -8.5 -3.5 -8 -4.4 -7.2 -4.8 -6.8 -5.5 -6 -6.1 -5.5 -6.7 -4.7 -7.2 -3.8 -7.5 -2.9 -7.5 -2.1 -8 -1.3 -8.5 -0.4 -8.5 0.6 -8.5 1.5 -8.5 2.4 -8 3.2 -8 4 -7.5 4.7 -7 5.8 -7 6 -6 7 -5.8 7.5 -5 8 -4.4 8.5 -3.7 8.5 -2.8 9 -2.1 9.5 -1.3 9.5 -0.5 9 0.4 9.5 1.2 9 2 8.5 2.7 8.5 3.6 8 4.3 7.5 5 7 5.8 6 6.1 5.2 6.5 4.6 7 3.8 7.5 3.1 8 2.1 8 1.3 8.5 0.4 8.5 -0.6 8 -1.5 8.5 -2.3 8 -3.2 8 -4 7.5 -4.9 7.2 -5.7 6.8 -6.3 6.2 -7 5.7 -7.5 5 -8 4.3 -8.5 3.6 -9 2.9 -9 2 -9.5 1.3z"/><path fill="#9bff64" d="M165.5 208.5l-9.5 0.1 -9 -0.8 -9 -1.5 -9 -2.4 -8.5 -3.1 -8.5 -4.1 -7.5 -4.5 -6.9 -5.2 -6.6 -6 -5.5 -6.2 -4.9 -6.8 -4.3 -7.5 -3.3 -7.5 -2.5 -8 -1.6 -8 -0.8 -8.5 0.2 -8.5 1.1 -8 2 -8.5 2.9 -8 3.6 -7.5 4.6 -7.5 5.3 -7 6.2 -6.6 6.5 -5.7 7.5 -5.4 8 -4.6 8.5 -3.9 8.5 -3 9 -2.4 9 -1.4 9.5 -0.7 9.5 0.1 9 1 9 1.7 8.5 2.5 8 3.1 8 4 7.5 4.6 7 5.4 6.3 5.8 5.6 6.5 5 7 3.9 7 3.3 7.5 2.5 8 1.6 8 0.7 8.5 -0.2 8.5 -1.1 8 -1.9 8 -2.9 8 -3.6 7.5 -4.6 7.5 -5.1 6.6 -6 6.4 -6.5 5.8 -7 5 -7.5 4.5 -8.5 4.1 -8.5 3.2 -9 2.4 -9 1.7 -9 0.8z"/><path fill="#a3ff5c" d="M169 207.5l-9.5 0.4 -9 -0.5 -9 -1.2 -9 -2.1 -8.5 -2.7 -8 -3.5 -7.5 -4.1 -7.5 -5.1 -6.5 -5.4 -6 -6.1 -5.3 -6.7 -4.5 -7 -3.7 -7.5 -2.8 -7.5 -2 -8 -1.1 -8 -0.3 -8 0.7 -8.5 1.4 -8 2.4 -8 3.4 -8 4.1 -7.5 4.8 -7 5.4 -6.5 6.2 -6 6.8 -5.5 7.5 -4.9 8 -4.3 8.5 -3.5 8.5 -2.7 9 -2 9 -1.2 9.5 -0.4 9 0.4 9 1.2 9 2.1 8.5 2.7 8.5 3.7 7.5 4.1 7.5 5.1 6.5 5.4 6 6.1 5.3 6.7 4.5 7 3.8 7.5 2.8 7.5 2 8 1.2 8.5 0.3 8.5 -0.7 8 -1.5 8 -2.4 8 -3.2 7.5 -4.1 7.5 -4.8 7 -5.7 6.6 -6.5 6.2 -7 5.5 -7.5 4.9 -8 4.1 -8.5 3.5 -8.5 2.6 -9 2 -9 1.1z"/><path fill="#abff54" d="M165.5 207l-9.5 0 -9 -0.7 -9 -1.6 -8.5 -2.3 -8.5 -3.1 -7.5 -3.5 -7.5 -4.5 -7.2 -5.3 -6.3 -5.7 -5.7 -6.3 -5.1 -7 -4 -7 -3.3 -7.5 -2.6 -8 -1.5 -8 -0.7 -8 0.2 -8.5 1 -8 2 -8 2.8 -8 3.7 -7.5 4.6 -7.5 5.1 -6.6 6 -6.4 6.5 -5.6 7.5 -5.4 8 -4.6 8 -3.7 8.5 -3 9 -2.3 9 -1.4 9 -0.7 9 0.1 9 0.9 9 1.7 8.5 2.4 8.5 3.3 8 4 7.5 4.7 6.5 5 6 5.6 5.7 6.5 4.8 6.8 4 7.1 3.3 7.6 2.3 7.5 1.6 8 0.7 8 -0.2 8 -1 8 -2 8 -2.8 8 -3.7 7.5 -4.3 7 -5 6.5 -5.9 6.3 -6.5 5.7 -7 5.1 -8 4.7 -8 3.8 -8.5 3.1 -8.5 2.3 -9 1.7 -9 0.8z"/><path fill="#b3ff4c" d="M169 206l-9.5 0.4 -9 -0.5 -9 -1.2 -8.5 -2 -8.5 -2.8 -8 -3.5 -7.5 -4.1 -7 -4.7 -6.5 -5.4 -5.6 -5.7 -5.3 -6.5 -4.5 -7 -3.7 -7.5 -2.8 -7.5 -2 -8 -1.1 -8 -0.3 -8 0.7 -8 1.5 -8 2.4 -8 3.2 -7.5 4.1 -7.5 4.9 -7 5.5 -6.4 6 -5.8 7 -5.5 7 -4.6 8 -4.2 8 -3.3 9 -2.8 8.5 -1.9 9 -1.1 9 -0.4 9 0.4 9 1.2 9 2.1 8.5 2.7 8 3.5 7.5 4.1 7 4.7 6.5 5.3 6 6 5.3 6.5 4.5 7 3.8 7.5 2.8 7.5 2.1 8 1.1 8 0.3 8 -0.6 8 -1.5 8 -2.4 8 -3.2 7.5 -3.9 7 -4.8 7 -5.6 6.5 -6.2 6 -6.7 5.3 -7.5 4.8 -8 4.2 -8.5 3.5 -8.5 2.6 -9 2 -9 1.1z"/><path fill="#bbff44" d="M166 205.5l-9 0.1 -9 -0.7 -9 -1.5 -8.5 -2.2 -8 -2.9 -8 -3.7 -7.5 -4.4 -7 -5.1 -6.3 -5.6 -5.7 -6.3 -4.9 -6.7 -4.1 -7 -3.3 -7.5 -2.4 -7.5 -1.6 -8 -0.8 -8 0.2 -8.5 1.1 -8 2 -8 2.7 -7.5 3.7 -7.5 4.3 -7 5.1 -6.6 6 -6.3 6.5 -5.7 7 -5 7.5 -4.4 8 -3.7 8.5 -3 8.5 -2.3 9 -1.5 9 -0.7 9 0 9 0.9 8.5 1.5 8.5 2.4 8 3 8 3.8 7 4.2 7 5.2 6.3 5.7 5.4 6 4.8 6.5 4.1 7 3.4 7.5 2.4 7.5 1.7 8 0.7 8 -0.1 8 -1 8 -1.9 8 -2.7 7.5 -3.6 7.5 -4.3 7 -5 6.5 -5.7 6.1 -6.5 5.7 -7 5.1 -7.5 4.4 -8 3.8 -8.5 3.2 -8.5 2.3 -8.5 1.5 -9 0.9z"/><path fill="#c3ff3c" d="M170 204.5l-9 0.4 -8.5 -0.3 -9 -1.1 -8.5 -1.8 -8.5 -2.6 -8 -3.3 -7.5 -4 -7 -4.5 -6.5 -5.2 -5.7 -5.6 -5.3 -6.4 -4.5 -6.6 -3.7 -7 -3 -7.5 -2 -7.5 -1.3 -8 -0.4 -8 0.5 -8 1.3 -8 2.2 -7.5 2.9 -7.5 3.7 -7 4.6 -7 5.3 -6.5 5.9 -5.9 6.5 -5.3 7 -4.8 7.5 -4.2 8 -3.5 8.5 -2.9 8.5 -2 9 -1.4 9 -0.6 9 0.3 9 1 9 1.9 8.5 2.5 8 3.3 7.5 3.9 7.5 4.8 6.5 5.2 6 5.8 5.3 6.4 4.4 6.5 4 7.5 3 7.5 2 7.5 1.3 8 0.4 8 -0.5 8 -1.4 8 -2.2 7.5 -3.1 7.5 -4 7.5 -4.7 6.8 -5.3 6.2 -6.1 6 -6.6 5.2 -7.5 5 -7.5 3.9 -8 3.4 -8.5 2.8 -9 2 -9 1.2z"/><path fill="#cbff34" d="M167.5 204l-9 0.2 -8.5 -0.5 -9 -1.4 -8.5 -2 -8 -2.7 -8 -3.6 -7.5 -4.2 -6.8 -4.8 -6.4 -5.5 -5.7 -6 -5 -6.5 -4 -6.5 -3.4 -7 -2.6 -7.5 -1.8 -7.5 -0.9 -8 -0.1 -7.5 0.8 -8 1.6 -8 2.5 -7.5 3.3 -7.5 4 -7 5 -6.9 5.5 -6.1 6 -5.6 7 -5.3 7 -4.4 8 -4 8 -3.1 8.5 -2.5 9 -1.8 9 -1 9 -0.1 8.5 0.5 9 1.4 8.5 2.1 8.5 3 7.5 3.4 7.5 4.2 7 5 6.5 5.6 5.5 5.8 4.8 6.3 4.3 7 3.3 7 2.7 7.5 1.7 7.5 1 8 0 8 -0.8 7.5 -1.7 8 -2.5 7.5 -3.4 7.5 -4.1 7 -4.8 6.4 -5.5 6.1 -6 5.5 -7 5.3 -7.5 4.6 -8 3.9 -8 3.1 -8.5 2.4 -9 1.8 -8.5 0.9z"/><path fill="#d3ff2c" d="M163.5 203.5l-9 -0.1 -9 -1 -8.5 -1.7 -8.5 -2.4 -8 -3.2 -7.5 -3.7 -7.5 -4.8 -6.5 -5.1 -6 -5.7 -5.3 -6.3 -4.4 -6.5 -3.7 -7 -3 -7.5 -2.1 -7.5 -1.3 -8 -0.3 -8 0.5 -8 1.5 -8 2.2 -7.5 3.1 -7.5 3.8 -7 4.9 -7 5.1 -6 6.2 -6 6.8 -5.4 7 -4.5 8 -4.2 8 -3.2 8.5 -2.6 8.5 -1.9 9 -1.1 9 -0.3 9 0.5 8.5 1.2 8.5 2 8 2.6 7.5 3.2 7.5 4 7 4.7 6.2 5 5.8 5.8 5 6.1 4.4 6.6 3.6 7 2.8 7 2 7.5 1.2 7.5 0.4 8 -0.4 7.5 -1.3 7.5 -2.1 7.5 -3 7.5 -3.8 7 -4.3 6.5 -5 6.1 -6 6 -6.5 5.3 -7 4.7 -7.5 4.1 -8 3.5 -8 2.8 -8.5 2 -8.5 1.4 -9 0.6z"/><path fill="#dbff24" d="M169.5 202.5l-9 0.4 -8.5 -0.4 -8.5 -1.1 -8.5 -1.9 -8.5 -2.7 -7.5 -3.1 -7.5 -4 -6.5 -4.3 -6.5 -5.2 -5.5 -5.4 -5.2 -6.3 -4.3 -6.5 -3.7 -7 -2.7 -7 -2.1 -7.5 -1.1 -7.5 -0.4 -7.5 0.5 -8 1.4 -8 2.2 -7.5 2.9 -7 3.7 -7 4.7 -7 5.1 -6.1 6 -5.9 6.5 -5.2 7 -4.6 7.5 -4.1 8 -3.3 8 -2.6 8.5 -2 8.5 -1.2 8.5 -0.5 9 0.3 9 1 8.5 1.8 8.5 2.6 8 3.3 7.5 3.9 7 4.6 6.5 5.2 5.9 5.8 5 6 4.4 6.5 3.7 7 2.7 7 2.1 7.5 1.3 8 0.3 8 -0.5 7.5 -1.4 8 -2.3 7.5 -2.9 7 -3.9 7 -4.4 6.5 -5.6 6.5 -5.9 5.6 -6.5 5.2 -7 4.5 -8 4.2 -8 3.3 -8.5 2.7 -8.5 1.8 -9 1.2z"/><path fill="#e3ff1c" d="M167 202l-9 0.2 -8.5 -0.6 -8.5 -1.4 -8.5 -2.1 -8 -2.8 -7.5 -3.3 -7.5 -4.3 -6.5 -4.6 -6 -5.2 -5.6 -5.9 -4.9 -6.4 -4 -6.6 -3.3 -7 -2.5 -7.5 -1.7 -7.5 -0.8 -7.5 0.1 -8 0.8 -7.5 1.7 -7.5 2.6 -7.5 3.3 -7 4.1 -7 4.9 -6.5 5.5 -6 6.2 -5.5 6.6 -4.8 7.5 -4.5 7.5 -3.6 8 -3 8.5 -2.4 8.5 -1.6 8.5 -0.8 9 -0.1 8.5 0.7 8.5 1.3 8.5 2.2 8 2.8 7.5 3.5 7 4 7 4.9 6 5.2 5.5 5.8 4.9 6.4 4 6.5 3.3 7 2.6 7.5 1.7 7.5 0.9 7.5 0 8 -0.9 7.5 -1.7 7.5 -2.6 7.5 -3.2 7 -4.3 7 -4.7 6.2 -5.5 6 -6 5.3 -7 5.1 -7.5 4.5 -7.5 3.6 -8 3 -8.5 2.4 -8.5 1.6 -8.5 0.8z"/><path fill="#ebff14" d="M163.5 201.5l-9 -0.2 -8.5 -0.9 -8.5 -1.6 -8.5 -2.5 -8 -3.2 -7.5 -3.8 -7 -4.4 -6.2 -4.9 -5.8 -5.5 -5.1 -6 -4.4 -6.5 -3.8 -7 -2.8 -7 -2.1 -7.5 -1.2 -7.5 -0.4 -8 0.6 -8 1.4 -7.5 2.2 -7.5 2.9 -7 3.8 -7 4.5 -6.5 5.4 -6.3 6 -5.8 6.5 -5.1 7 -4.5 8 -4.1 8 -3.3 8.5 -2.5 8.5 -1.8 8.5 -1 9 -0.3 8.5 0.5 8.5 1.2 8 1.8 8 2.6 7.5 3.2 7.5 4 7 4.7 6 4.9 5.5 5.4 5 6.1 4.2 6.3 3.6 7 2.8 7 2 7.5 1.1 7.5 0.3 7.5 -0.5 7.5 -1.4 7.5 -2.2 7.5 -3 7 -3.5 6.5 -4.5 6.5 -5.1 6 -5.8 5.7 -6.5 5.2 -6.5 4.3 -7.5 4 -7.5 3.2 -8 2.7 -8.5 2.1 -8.5 1.2 -8.5 0.6z"/><path fill="#f3ff0c" d="M170 200.5l-8.5 0.4 -8.5 -0.3 -8.5 -1.1 -8.5 -1.8 -8 -2.4 -7.5 -3.1 -7.5 -3.9 -6.5 -4.2 -6.4 -5.1 -5.6 -5.4 -5 -6 -4.1 -6.1 -3.5 -6.5 -2.8 -7 -2 -7 -1.3 -7.5 -0.5 -7.5 0.4 -7.5 1.2 -7.5 2.1 -7.5 2.8 -7 3.7 -7 4.3 -6.5 4.9 -6 5.8 -5.9 6 -4.9 6.5 -4.5 7.5 -4.1 7.5 -3.4 8.5 -2.8 8 -2 8.5 -1.3 9 -0.6 8.5 0.2 8.5 0.9 8.5 1.6 8.5 2.5 7.5 2.9 7.5 3.7 7 4.4 6.5 5 5.7 5.3 5.2 6 4.6 6.5 3.8 7 2.9 7 2.2 7.5 1.2 7.5 0.5 7.5 -0.5 7.5 -1.2 7.5 -2.2 7.5 -2.8 7 -3.9 7.2 -4.5 6.5 -5.4 6.3 -6.1 5.8 -6.5 5.1 -7 4.5 -7.5 3.9 -8 3.2 -8 2.5 -8.5 1.9 -8.5 1.1z"/><path fill="#fbff04" d="M168 200l-8.5 0.3 -8.5 -0.5 -8.5 -1.3 -8 -1.9 -8 -2.6 -7.5 -3.2 -7.5 -4.2 -6.5 -4.4 -6 -5 -5.5 -5.7 -4.8 -6 -4.1 -6.5 -3.4 -7 -2.5 -7 -1.7 -7 -0.9 -7.5 -0.1 -7.5 0.7 -7.5 1.6 -7.5 2.3 -7 3.1 -7 4 -7 4.8 -6.5 5 -5.6 6 -5.5 6.5 -5 7 -4.3 7.5 -3.7 8 -3.1 8 -2.4 8 -1.6 8.5 -0.9 9 -0.3 8.5 0.5 8.5 1.3 8 1.9 8 2.6 7.5 3.2 7.5 4.2 6.5 4.4 6 5 5.8 5.8 4.7 6 4.2 6.5 3.5 7 2.5 7 1.7 7 1 7.5 0.2 7.5 -0.7 7.5 -1.6 7.5 -2.3 7 -3.1 7 -3.9 6.6 -4.7 6.4 -5.4 6 -5.9 5.4 -6.5 4.9 -7 4.3 -7.5 3.7 -8 3.1 -8 2.4 -9 1.8 -8.5 0.9z"/><path fill="#fffb00" d="M166 199.5l-9 0.1 -8.5 -0.8 -8.5 -1.4 -8 -2.2 -7.5 -2.7 -7.5 -3.4 -7 -4.2 -6.5 -4.7 -5.9 -5.2 -5.1 -5.6 -4.7 -6.4 -3.8 -6.5 -3.1 -7 -2.3 -7 -1.4 -7 -0.7 -7.5 0.2 -7.5 1 -7.5 1.9 -7.5 2.6 -7 3.5 -7 4.1 -6.5 4.7 -6 5.8 -6 6.2 -5.3 6.5 -4.5 7 -4 8 -3.6 8 -2.8 8 -2 8.5 -1.4 8.5 -0.6 8.5 0.1 8.5 0.8 8.5 1.5 8 2.2 7.5 2.8 7.5 3.6 7 4.2 6.5 4.8 5.7 5.2 5.3 5.8 4.5 6.2 3.8 6.5 3.1 7 2.2 7 1.4 7 0.6 7.5 -0.2 7.5 -1 7.5 -1.8 7 -2.6 7 -3.2 6.5 -4.3 6.7 -5 6.3 -5.4 5.5 -6.1 5.2 -6.5 4.6 -7 4 -7.5 3.5 -8 2.8 -8 2.2 -8.5 1.5 -8.5 0.7z"/><path fill="#fff300" d="M163 199l-8.5 -0.2 -8.5 -0.9 -8.5 -1.8 -8 -2.3 -7.5 -3 -7.5 -3.8 -6.5 -4.1 -6.5 -5.1 -5.5 -5.3 -5 -6 -4.4 -6.5 -3.4 -6.5 -2.8 -7 -2 -7.5 -1.1 -7.5 -0.2 -7.5 0.6 -7.5 1.5 -7.5 2.4 -7.5 3.1 -7 3.8 -6.6 4.7 -6.4 5.3 -5.9 6 -5.5 6.5 -4.9 7 -4.2 7.5 -3.7 8 -3.1 8 -2.2 8.5 -1.6 8.5 -0.9 8.5 -0.1 8.5 0.6 8 1.2 8 1.9 7.5 2.6 7.5 3.2 7 3.9 6.5 4.4 6 4.9 5.5 5.6 4.7 5.8 4.2 6.5 3.2 6.5 2.6 7 1.8 7 1 7 0.2 7.5 -0.6 7 -1.5 7.5 -2.2 7 -2.8 6.5 -3.7 6.5 -4.2 6 -5.2 6 -5.5 5.2 -6.5 5.1 -6.5 4.2 -7 3.6 -7.5 3.2 -8 2.6 -8 1.9 -8.5 1.2 -8.5 0.5z"/><path fill="#ffeb00" d="M170 198l-8.5 0.4 -8 -0.3 -8.5 -1 -8 -1.7 -7.5 -2.3 -7.5 -3 -7 -3.5 -6.5 -4.1 -6 -4.7 -5.5 -5.1 -4.9 -5.7 -4.2 -6 -3.6 -6.5 -2.9 -7 -2.1 -7 -1.2 -7 -0.5 -7 0.4 -7.5 1.2 -7.5 1.9 -7 2.8 -7 3.4 -6.5 4.3 -6.5 4.9 -6 5.5 -5.5 6 -4.9 6.5 -4.4 7 -3.9 7.5 -3.3 8 -2.7 8 -2 8 -1.2 8.5 -0.6 8.5 0.1 8.5 0.9 8.5 1.6 8 2.2 8 3.1 7 3.5 7 4.3 6.4 4.8 5.6 5.2 5.1 5.8 4.4 6.3 3.7 6.7 2.7 6.5 2.1 7 1.3 7.5 0.5 7.5 -0.4 7 -1.2 7.5 -2 7 -2.9 7 -3.8 7 -4.5 6.4 -5 5.9 -5.5 5.2 -6.5 5.1 -7 4.5 -7.5 3.9 -8 3.3 -8 2.4 -8 1.7 -8.5 1.1z"/><path fill="#ffe300" d="M169 197.5l-8.5 0.3 -8.5 -0.4 -8 -1.1 -8 -1.8 -7.5 -2.4 -7.5 -3.1 -7 -3.7 -6.5 -4.3 -6 -4.8 -5.3 -5.2 -4.7 -5.7 -4.2 -6.3 -3.3 -6.5 -2.6 -6.5 -1.8 -7 -1.1 -7 -0.3 -7 0.5 -7.5 1.4 -7.5 2.1 -7 3 -7 3.6 -6.5 4.2 -6 5 -5.8 5.5 -5.3 6.3 -4.9 6.7 -4.3 7 -3.7 7.5 -3.1 8 -2.5 8 -1.8 8 -1.1 8.5 -0.5 8.5 0.3 8.5 1.1 8 1.6 8 2.4 7.5 3.1 7.5 3.8 6.5 4.2 6 4.7 5.5 5.3 5 5.9 4.2 6.1 3.5 6.5 2.8 7 1.9 7 1.2 7.5 0.2 7.5 -0.5 7 -1.3 7 -2.2 7 -3 7 -3.7 6.5 -4.6 6.4 -5 5.7 -5.5 5.1 -6.5 5 -7 4.4 -7.5 3.8 -7.5 2.9 -8.5 2.6 -8.5 1.7 -8 0.9z"/><path fill="#ffdb00" d="M168 197l-8.5 0.2 -8 -0.5 -8 -1.1 -8 -1.9 -7.5 -2.4 -7.5 -3.2 -7 -3.8 -6.5 -4.4 -6 -4.9 -5 -5.1 -4.7 -5.9 -3.9 -6 -3.3 -6.5 -2.6 -7 -1.7 -7 -0.9 -7 -0.1 -7 0.7 -7.5 1.4 -7 2.3 -7 2.9 -6.5 3.7 -6.5 4.3 -6 5.4 -6 5.5 -5.1 6.5 -4.9 7 -4.3 7 -3.5 7.5 -2.9 8 -2.3 8 -1.7 8 -0.9 8.5 -0.3 8 0.4 8.5 1.2 8 1.8 8 2.6 7.5 3.2 7 3.7 6.5 4.4 6 4.9 5.5 5.5 4.6 5.7 4.2 6.5 3.3 6.5 2.6 7 1.7 7 0.9 7 0.1 7.5 -0.8 7 -1.5 7 -2.3 7 -3 6.5 -3.9 6.5 -4.5 6 -5.4 5.9 -5.7 5.1 -6.3 4.6 -7 4.2 -7.5 3.6 -7.5 2.9 -8 2.2 -8 1.6 -8.5 0.9z"/><path fill="#ffd300" d="M167 196.5l-8.5 0.1 -8 -0.6 -8 -1.2 -8 -2 -7.5 -2.5 -7.5 -3.3 -6.5 -3.7 -6.5 -4.5 -5.7 -4.8 -5.3 -5.5 -4.5 -5.8 -3.8 -6.2 -3.1 -6.5 -2.4 -7 -1.6 -7 -0.8 -7 0.1 -7 0.8 -7 1.5 -7 2.4 -7 3.1 -6.5 3.9 -6.5 4.6 -6 5.3 -5.7 5.5 -4.9 6.5 -4.7 6.5 -3.9 7.5 -3.6 7.5 -2.8 8 -2.2 8 -1.5 8.5 -0.8 8.5 -0.2 8 0.6 8.5 1.4 8 2 7.5 2.5 7.5 3.4 6.5 3.7 6.5 4.5 6 5.1 5 5.2 4.5 5.7 3.9 6.2 3.1 6.5 2.5 7 1.6 7 0.8 7 0 7 -0.8 7 -1.5 7 -2.5 7 -3.1 6.5 -4 6.5 -4.6 6 -5.4 5.7 -6 5.2 -6 4.3 -7 4 -7.5 3.6 -7.5 2.7 -8 2.2 -8 1.5 -8.5 0.8z"/><path fill="#ffcb00" d="M165.5 196l-8.5 0 -8 -0.7 -8 -1.4 -8 -2.1 -7.5 -2.7 -7 -3.3 -7 -4.1 -6 -4.4 -5.5 -4.8 -5 -5.5 -4.5 -6 -3.8 -6.5 -2.8 -6.5 -2.2 -7 -1.4 -7 -0.5 -7 0.3 -7.5 1.1 -7 1.8 -7 2.8 -7 3.4 -6.5 4 -6 4.8 -5.9 5.5 -5.4 6 -4.9 6.5 -4.4 7 -3.8 7.5 -3.2 7.5 -2.5 8 -1.9 8 -1.2 8.5 -0.5 8.5 0.2 8 0.8 8 1.6 8 2.3 7.5 2.9 7 3.4 6.5 4 6 4.5 5.5 5 4.9 5.5 4.4 6 3.4 6 2.9 6.5 2.1 7 1.4 7 0.5 7 -0.3 7 -1.1 7 -1.9 7 -2.5 6.5 -3.4 6.5 -4 6 -4.5 5.5 -5.4 5.5 -6 4.9 -6.5 4.4 -7 3.9 -7 3.1 -7.5 2.6 -8 2.1 -8 1.3 -8.5 0.7z"/><path fill="#ffc300" d="M163.5 195.5l-8.5 -0.2 -8 -0.9 -8 -1.5 -8 -2.4 -7.5 -2.9 -7 -3.5 -6.5 -4.1 -6 -4.6 -5.5 -5.2 -4.8 -5.7 -4.1 -6 -3.5 -6.5 -2.6 -6.5 -1.9 -7 -1 -7 -0.3 -7.5 0.6 -7 1.5 -7.5 2.3 -7 2.9 -6.5 3.8 -6.5 4.4 -6 5 -5.5 5.7 -5.2 6 -4.5 7 -4.2 7.5 -3.7 7.5 -2.8 8 -2.2 8 -1.6 8 -0.8 8.5 -0.1 8 0.5 8 1.2 7.5 1.8 7.5 2.4 7 3 7 3.7 6.5 4.4 5.7 4.6 5.3 5.3 4.5 5.5 3.8 5.7 3.4 6.5 2.5 6.5 1.7 6.5 1 7 0.3 7 -0.6 7 -1.4 7 -2 6.5 -2.8 6.5 -3.4 6 -4.3 6 -4.8 5.5 -5.4 5.1 -6 4.7 -6.5 4.1 -7 3.7 -7.5 3.1 -7.5 2.4 -8 1.8 -8 1.1 -8 0.5z"/><path fill="#ffbb00" d="M171 194.5l-8 0.5 -8 -0.3 -8 -0.8 -7.5 -1.5 -7.5 -2.1 -7 -2.6 -7 -3.4 -6.5 -3.9 -6 -4.5 -5.4 -4.9 -5 -5.5 -4 -5.5 -3.4 -6 -2.9 -6.5 -2.1 -6.5 -1.3 -6.5 -0.6 -7 0.2 -7 0.9 -6.5 1.7 -7 2.4 -6.5 3.2 -6.5 3.8 -6 4.3 -5.5 5.2 -5.4 5.5 -4.8 6 -4.3 6.5 -3.9 7 -3.3 7.5 -2.8 7.5 -2.1 8 -1.5 8 -0.8 8.5 -0.2 8 0.5 8.5 1.3 8 2 7.5 2.6 7.5 3.3 7 4 6.5 4.5 5.6 4.9 5.2 5.5 4.6 6 3.8 6.5 3 6.5 2 6.5 1.5 7 0.6 7 -0.3 7 -1 7 -1.9 7 -2.7 7 -3.4 6.3 -4.2 6.2 -4.8 5.7 -5.5 5.3 -6 4.8 -6.5 4.3 -7 3.7 -7.5 3.2 -8 2.5 -8 1.8 -8.5 1.2z"/><path fill="#ffb300" d="M170.5 194l-8 0.4 -8 -0.2 -8 -1 -7.5 -1.5 -7.5 -2.2 -7 -2.7 -6.5 -3.1 -6.5 -4 -6 -4.5 -5.2 -4.7 -4.8 -5.4 -4.1 -5.6 -3.4 -6 -2.9 -6.5 -2 -6.5 -1.2 -6.5 -0.6 -7 0.3 -7 1 -7 1.7 -6.5 2.5 -6.5 3.3 -6.5 3.9 -6 4.4 -5.5 5.1 -5.2 5.7 -4.8 6.3 -4.4 6.5 -3.6 7 -3.2 7 -2.5 7.5 -2 8 -1.5 8 -0.7 8.5 -0.1 8.5 0.7 8 1.3 8 2 7.5 2.7 7.5 3.5 6.5 3.8 6.3 4.5 5.7 5 5 5.4 4.2 5.6 3.8 6.5 2.9 6.5 2.1 6.5 1.3 7 0.6 7 -0.3 7 -1.1 7 -1.8 6.5 -2.6 6.5 -3.4 6.5 -4.2 6.2 -5 5.9 -5.5 5.3 -6 4.7 -6.5 4.2 -7.5 3.9 -7.5 3.1 -8 2.4 -8 1.8 -8 1z"/><path fill="#ffab00" d="M170 193.5l-8 0.4 -8 -0.3 -8 -1 -7.5 -1.6 -7.5 -2.2 -7 -2.8 -6.5 -3.2 -6.5 -4.1 -6 -4.6 -5 -4.7 -4.7 -5.4 -3.9 -5.5 -3.3 -6 -2.8 -6.5 -1.9 -6.5 -1.2 -6.5 -0.4 -6.5 0.3 -7 1.1 -7 1.8 -6.5 2.6 -6.5 3.1 -6 3.9 -6 4.5 -5.5 5.4 -5.4 5.5 -4.5 6 -4.1 6.5 -3.7 7 -3.2 7.5 -2.6 7.5 -1.9 8 -1.4 8 -0.6 8.5 0 8 0.7 8 1.3 7.5 2 7.5 2.7 7.5 3.4 6.5 3.8 6.2 4.5 5.7 5 5 5.5 4.1 5.5 3.8 6.5 2.8 6.5 2.1 6.5 1.3 7 0.5 7 -0.4 7 -1.1 7 -1.9 6.5 -2.7 6.5 -3.5 6.5 -4.2 6 -4.7 5.5 -5.5 5.2 -6 4.7 -7 4.4 -7 3.6 -7.5 3 -8 2.4 -8 1.7 -8 1z"/><path fill="#ffa300" d="M170 193l-8 0.4 -7.5 -0.3 -8 -1 -7.5 -1.5 -7.5 -2.2 -7 -2.7 -7 -3.5 -6 -3.8 -5.8 -4.4 -5.2 -4.8 -4.6 -5.2 -3.9 -5.5 -3.4 -6 -2.8 -6.5 -1.9 -6.5 -1.2 -6.5 -0.4 -6.5 0.3 -7 1 -6.5 1.8 -6.5 2.5 -6.5 3.1 -6.1 3.9 -5.9 4.6 -5.7 5 -5 5.8 -4.8 6.2 -4.2 6.5 -3.7 7 -3.1 7 -2.4 7.5 -2 8 -1.3 8 -0.7 8.5 0 8 0.7 8 1.4 7.5 1.9 7.5 2.7 7.5 3.5 6.5 3.8 6 4.3 5.5 4.9 5 5.4 4.3 5.8 3.5 6 2.9 6.5 2.1 6.5 1.3 7 0.5 7 -0.4 7 -1.1 7 -1.9 6.5 -2.7 6.5 -3.5 6.3 -4.3 6.2 -4.7 5.4 -5.5 5.1 -6 4.7 -6.5 4.1 -7 3.6 -7.5 3 -8 2.4 -8 1.7 -8 1z"/><path fill="#ff9b00" d="M169.5 192.5l-8 0.3 -7.5 -0.3 -8 -1 -7.5 -1.6 -7.5 -2.2 -7 -2.8 -6.5 -3.3 -6 -3.8 -5.6 -4.3 -5.4 -5 -4.5 -5.2 -4 -5.7 -3.3 -6.1 -2.5 -6 -1.9 -6.5 -1.1 -6.5 -0.4 -6.5 0.3 -7 1.2 -7 1.9 -6.5 2.7 -6.5 3.2 -6 3.9 -5.7 4.5 -5.3 5.1 -5 5.9 -4.8 6 -4 6.5 -3.5 7 -3 7.5 -2.5 7.5 -1.8 7.5 -1.2 8 -0.6 8 0 8 0.8 8 1.4 8 2.2 7.5 2.7 7 3.4 6.5 3.9 6 4.4 5.5 5 4.6 5.1 4.3 6 3.5 6 2.7 6.5 2 6.5 1.2 7 0.4 7 -0.4 6.5 -1.3 7 -1.9 6.5 -2.8 6.5 -3.4 6 -4.3 6 -4.8 5.5 -5.8 5.3 -6 4.5 -6.5 4 -7 3.5 -7.5 2.9 -7.5 2.2 -8 1.7 -8 0.9z"/><path fill="#ff9300" d="M169.5 192l-8 0.3 -7.5 -0.3 -8 -1 -7.5 -1.6 -7.5 -2.3 -7 -2.8 -6.5 -3.3 -6 -3.8 -5.5 -4.3 -5.3 -4.9 -4.3 -5 -3.9 -5.6 -3.3 -5.9 -2.5 -6 -1.9 -6.5 -1.2 -6.5 -0.4 -6.5 0.4 -7 1.1 -6.5 1.8 -6.5 2.7 -6.5 3.2 -6 3.7 -5.5 4.6 -5.5 5 -5 5.8 -4.7 6 -4 6.5 -3.5 7 -3.1 7.5 -2.5 7.5 -1.8 7.5 -1.2 8 -0.6 8 0.1 8 0.7 8 1.4 7.5 2 7.5 2.8 7 3.3 6.5 3.8 6 4.4 5.5 4.9 4.9 5.5 4.1 5.6 3.4 5.9 2.8 6.5 2 6.5 1.2 7 0.4 7 -0.4 6.5 -1.3 7 -1.9 6.5 -2.8 6.5 -3.5 6 -4.3 6 -4.6 5.1 -5.5 5.1 -6 4.5 -6.5 4.1 -7 3.5 -7.5 2.9 -7.5 2.2 -8 1.7 -8 0.9z"/><path fill="#ff8b00" d="M169.5 191.5l-8 0.3 -7.5 -0.3 -8 -1 -7.5 -1.6 -7 -2.1 -7 -2.8 -6.5 -3.3 -6 -3.8 -5.5 -4.2 -5.1 -4.7 -4.8 -5.5 -3.8 -5.5 -3.3 -6 -2.5 -6 -1.7 -6 -1.2 -6.5 -0.4 -6.5 0.3 -6.5 1.1 -6.5 1.7 -6.5 2.6 -6.5 3.2 -6 3.9 -5.7 4.5 -5.5 5 -4.9 5.5 -4.5 6 -4 6.5 -3.6 7 -3 7.5 -2.6 7.5 -1.8 7.5 -1.2 8 -0.6 8 0.1 8 0.7 8 1.4 7.5 2 7.5 2.8 7 3.3 6.5 3.9 6 4.4 5.4 4.8 4.9 5.5 4 5.5 3.4 6 2.8 6.5 1.9 6.5 1.1 6.5 0.4 7 -0.4 6.5 -1.2 7 -2 6.5 -2.9 6.5 -3.4 5.9 -4 5.6 -5 5.5 -5 4.6 -6 4.6 -6.5 4 -7 3.5 -7.5 3 -7.5 2.2 -8 1.7 -8 0.9z"/><path fill="#ff8300" d="M169.5 191l-8 0.3 -7.5 -0.3 -7.5 -1 -7.5 -1.5 -7 -2.1 -7 -2.8 -6.5 -3.2 -6 -3.7 -5.5 -4.2 -5.4 -5 -4.4 -5 -3.8 -5.5 -3.4 -6 -2.5 -6 -1.8 -6 -1.1 -6.5 -0.4 -6.5 0.3 -6.5 1 -6.5 1.8 -6.5 2.4 -6 3.2 -6 3.6 -5.5 4.5 -5.5 5 -4.9 5.5 -4.6 6 -4 6.5 -3.6 7 -3.1 7 -2.4 7.5 -1.9 7.5 -1.2 8 -0.7 8 0 8 0.7 7.5 1.3 7.5 1.9 7.5 2.7 7 3.2 6.5 3.8 6 4.2 5.5 4.9 4.9 5.2 4.1 5.5 3.5 6 2.9 6.5 2 6.5 1.2 6.5 0.5 7 -0.4 6.5 -1.1 6.5 -1.9 6.5 -2.7 6.5 -3.4 6 -4.3 6 -4.8 5.5 -5 4.6 -6 4.6 -6.5 4 -7 3.5 -7.5 3 -7.5 2.2 -8 1.7 -8 0.9z"/><path fill="#ff7c00" d="M169.5 190.5l-8 0.3 -7.5 -0.3 -7.5 -1 -7.5 -1.5 -7 -2.1 -7 -2.8 -6.5 -3.3 -6 -3.7 -5.5 -4.2 -5 -4.7 -4.5 -5.2 -3.9 -5.5 -3.1 -5.5 -2.5 -6 -1.8 -6 -1.2 -6.5 -0.4 -6.5 0.3 -6.5 1.1 -6.5 1.8 -6.5 2.4 -6 3.2 -6 3.7 -5.5 4.4 -5.3 5 -4.9 5.5 -4.5 6 -4.1 6.5 -3.5 7 -3.1 7 -2.3 14.5 -3 8 -0.7 8 0 8 0.7 7.5 1.3 7.5 1.9 7.5 2.7 7 3.2 6.5 3.8 6 4.3 5.5 4.9 4.7 5.1 4.1 5.5 3.5 6 2.7 6 2 6.5 1.2 6.5 0.5 7 -0.4 6.5 -1.1 6.5 -1.9 6.5 -2.8 6.5 -3.3 6 -4.2 5.8 -4.6 5.2 -5.4 4.9 -6 4.6 -6.5 4 -7 3.5 -7.5 2.9 -7.5 2.1 -7.5 1.6 -8 0.9z"/><path fill="#ff7400" d="M169.5 190l-15 0 -7.5 -0.9 -7.5 -1.5 -7 -2.1 -7 -2.7 -6.5 -3.3 -6 -3.7 -5.5 -4.1 -5 -4.7 -4.4 -5 -4 -5.5 -3 -5.5 -2.6 -6 -1.8 -6 -1.2 -6.5 -0.4 -6.5 0.3 -6.5 1 -6.5 1.7 -6 2.4 -6 3.1 -6 3.7 -5.5 4.5 -5.5 4.7 -4.6 5.5 -4.5 6 -4.1 6.5 -3.6 7 -3 7 -2.4 14.5 -3 8 -0.7 8 0 8 0.7 7.5 1.3 7.5 1.9 7.5 2.7 6.5 3 6.5 3.7 6 4.2 5.5 4.9 4.7 5 4.1 5.5 3.6 6 2.7 6 2 6.5 1.2 6.5 0.5 7 -0.3 6.5 -1.2 6.5 -1.9 6.5 -2.8 6.5 -3.4 6 -4 5.5 -4.7 5.3 -5.5 5 -6 4.5 -6.5 4 -6.5 3.2 -7.5 2.9 -7.5 2.2 -7.5 1.5 -8 0.9z"/><path fill="#ff6c00" d="M170 189.5l-15 0.1 -7.5 -0.9 -7.5 -1.5 -13.5 -4.5 -6.5 -3.2 -6 -3.6 -5.5 -4 -5 -4.5 -4.5 -5 -4 -5.4 -3.2 -5.5 -2.7 -6 -1.8 -6 -1.2 -6 -0.6 -6.5 0.2 -6.5 1 -6.5 1.6 -6 2.2 -6 3.1 -6 3.5 -5.5 4.4 -5.4 4.5 -4.6 5.5 -4.7 6 -4.1 6 -3.4 6.5 -3 7 -2.6 7.5 -2 7.5 -1.3 8 -0.8 8 0 8 0.6 7.5 1.2 7.5 1.8 7 2.4 7 3.1 6.5 3.6 6 4.1 5.5 4.7 4.7 4.9 4.3 5.5 3.7 6 2.8 6 2.1 6.5 1.3 6.5 0.5 6.5 -0.2 6.5 -1 6.5 -1.8 6.5 -2.7 6.5 -3.3 6 -3.9 5.5 -4.8 5.5 -5.2 4.9 -6 4.5 -6 3.8 -7 3.5 -7 2.8 -7.5 2.3 -8 1.7 -8 1z"/><path fill="#ff6400" d="M170.5 189l-15 0.1 -14.5 -2.2 -13.5 -4.3 -6.5 -3.1 -6 -3.5 -5.5 -3.9 -5 -4.4 -4.5 -4.8 -4 -5.2 -3.4 -5.7 -2.6 -5.5 -2 -6 -1.3 -6 -0.7 -6 0 -6.5 0.8 -6.5 1.4 -6 2.2 -6 2.8 -6 3.4 -5.5 4.2 -5.5 4.7 -4.9 5.2 -4.6 5.8 -4.2 6 -3.5 13 -5.6 7 -2 7.5 -1.5 8 -1 8 -0.2 8 0.4 7.5 1.1 7.5 1.6 7.5 2.4 7 2.9 6.5 3.5 6 3.9 5.8 4.7 5 5 4.4 5.5 3.8 6 2.9 6 2 6 1.5 6.5 0.6 6.5 -0.1 6.5 -0.9 6.5 -1.7 6.5 -2.5 6.5 -3.3 6 -4 5.9 -4.5 5.2 -5.1 4.9 -5.9 4.6 -6.5 4.1 -7 3.6 -7 2.8 -7.5 2.3 -7.5 1.6 -8 1z"/><path fill="#ff5c00" d="M170.5 188.5l-14.5 0.2 -14.5 -2.1 -13.5 -4.3 -6.5 -3 -6 -3.5 -5.5 -3.9 -5.1 -4.4 -4.4 -4.7 -4.1 -5.3 -3.3 -5.5 -2.6 -5.5 -2.1 -6 -1.3 -6 -0.7 -6 0.1 -6.5 0.8 -6.5 1.4 -6 2.1 -6 2.9 -6 3.4 -5.5 3.9 -5 4.7 -5 5.1 -4.5 5.7 -4.1 6 -3.6 13 -5.6 7 -2 7.5 -1.5 8 -1 8 -0.2 8 0.4 7.5 1 7.5 1.7 7.5 2.4 7 2.9 6.5 3.5 6 3.9 5.5 4.5 5 5 4.2 5.2 3.6 5.5 2.9 6 2.4 6.5 1.4 6.5 0.7 6.5 -0.1 6.5 -0.9 6.5 -1.8 6.5 -2.6 6.5 -3.2 6 -3.8 5.5 -4.7 5.5 -5.1 4.8 -6 4.6 -6 3.8 -7 3.6 -7 2.8 -7.5 2.3 -8 1.7 -7.5 0.9z"/><path fill="#ff5400" d="M171 188l-14.5 0.2 -14.5 -2 -7 -1.9 -7 -2.5 -12 -6.2 -5.5 -3.9 -5 -4.3 -4.5 -4.7 -4 -5.1 -3.4 -5.6 -2.6 -5.5 -2 -5.5 -1.4 -6 -0.7 -6 -0.1 -6 0.7 -6.5 1.3 -6 2.1 -6 2.8 -6 3.3 -5.5 4 -5.3 4.5 -4.9 5 -4.5 5.5 -4 6 -3.7 6.5 -3.2 6.5 -2.5 14 -3.6 8 -1 8 -0.4 8 0.4 7.5 0.9 7.5 1.6 7.5 2.3 7 2.8 6.5 3.4 6 3.8 6 4.8 5 4.9 4.2 5.2 3.6 5.5 3 6 2.2 6 1.6 6.5 0.7 6.5 -0.1 6.5 -0.8 6.5 -1.7 6.5 -2.3 6 -3.1 6 -3.8 5.6 -4.5 5.4 -5.2 5 -5.8 4.6 -6.5 4.1 -6.5 3.4 -7 2.9 -7.5 2.3 -7.5 1.6 -8 1.1z"/><path fill="#ff4c00" d="M171.5 187.5l-14.5 0.3 -14.5 -2 -13.5 -4.1 -12 -6 -5.5 -3.8 -5 -4.2 -4.5 -4.5 -4 -5 -3.4 -5.2 -2.8 -5.5 -2 -5.5 -1.6 -6 -0.8 -6 -0.2 -6 0.6 -6.5 1.2 -6 1.9 -6 2.5 -5.5 3.1 -5.5 4 -5.5 4.4 -5 4.6 -4.3 5 -3.9 6 -3.8 12.5 -5.9 14 -4 8 -1.2 7.5 -0.5 8 0.2 8 0.8 7.5 1.4 7.5 2.1 7.5 2.8 6.5 3.2 6 3.7 6 4.5 5 4.7 4.5 5.2 3.8 5.5 3.2 6 2.4 6 1.6 6.5 0.9 6.5 0.1 6.5 -0.8 6.5 -1.5 6.5 -2.5 6.5 -3.1 6 -3.6 5.5 -4.5 5.4 -5 4.9 -5.5 4.4 -6 4 -7 3.7 -7 2.9 -7.5 2.4 -7.5 1.7 -8 1.1z"/><path fill="#ff4400" d="M163.5 187.5l-8 -0.2 -7.5 -0.9 -7.5 -1.5 -7 -2 -7 -2.7 -6.5 -3.3 -6 -3.7 -5.4 -4.2 -5.1 -4.8 -4.4 -5.2 -3.7 -5.5 -2.9 -5.5 -2.3 -6 -1.5 -6 -0.9 -6.5 -0.1 -6.5 0.7 -6.5 1.5 -6.5 2.1 -6 2.9 -6 3.5 -5.5 4.3 -5.5 4.8 -4.9 5.5 -4.6 6 -4.1 6.5 -3.6 6.5 -2.9 7 -2.3 7.5 -1.9 7.5 -1.2 7.5 -0.6 8 0.1 14.5 1.8 7 1.8 7 2.4 6.5 2.8 6 3.4 5.7 3.8 5.3 4.4 4.5 4.6 4 5 3.5 5.5 2.8 5.5 2.1 6 1.5 6 0.7 6 0 6 -0.6 6 -1.4 6 -2.1 6 -2.6 5.5 -3.4 5.5 -3.9 5 -4.6 4.9 -5 4.4 -5.5 4 -6 3.6 -13 5.7 -7 2 -7.5 1.6 -14.5 1.3z"/><path fill="#ff3c00" d="M165.5 187l-7.5 0 -7.5 -0.7 -7.5 -1.3 -7 -1.8 -7 -2.5 -6.5 -3 -6 -3.4 -5.5 -3.9 -5 -4.3 -4.5 -4.8 -4 -5.3 -3.3 -5.5 -2.5 -5.5 -1.9 -6 -1.2 -6 -0.6 -6.5 0.3 -6.5 1 -6 1.6 -6 2.4 -6 3.2 -6 3.8 -5.5 4.3 -5 4.9 -4.6 5.5 -4.4 6 -3.8 6.5 -3.4 6.5 -2.6 7 -2.2 7.5 -1.7 7.5 -1.1 7.5 -0.4 7.5 0.2 7.5 0.8 7.5 1.4 7 1.9 6.5 2.4 6.5 3.1 6 3.5 5.5 3.9 5 4.4 4.5 4.8 4 5.3 3.2 5.5 2.5 5.5 1.9 6 1.2 6 0.5 6.5 -0.2 6 -1 6 -1.7 6 -2.4 6 -3 5.5 -3.8 5.5 -4.3 5 -4.9 4.7 -5.5 4.3 -6 3.8 -6.5 3.4 -6.5 2.7 -14 3.9 -7.5 1.2 -7.5 0.5z"/><path fill="#ff3400" d="M167 186.5l-14.5 -0.4 -7.5 -1.1 -7 -1.7 -7 -2.3 -6.5 -2.8 -6 -3.2 -5.5 -3.6 -5.4 -4.4 -4.5 -4.5 -4 -5 -3.6 -5.5 -2.7 -5.5 -2.2 -6 -1.4 -6 -0.7 -6 0 -6.5 0.8 -6 1.4 -6 2.2 -6 2.7 -5.5 3.4 -5.5 4 -5.1 4.7 -4.9 5.3 -4.5 5.5 -3.8 6 -3.4 6.5 -3 7 -2.5 7 -1.9 14.5 -2 7.5 -0.1 7.5 0.4 7.5 1.1 7 1.6 7 2.2 6.5 2.7 6.5 3.4 6 3.9 5.4 4.4 4.6 4.5 4.1 5 3.6 5.5 2.8 5.5 2.2 6 1.5 6 0.7 6 0 6.5 -0.7 6 -1.5 6 -2.2 6 -2.7 5.5 -3.6 5.5 -4.2 5.3 -4.7 4.7 -5.3 4.4 -6 4.1 -6 3.3 -7 3.1 -14 4.2 -7.5 1.2 -7.5 0.7z"/><path fill="#ff2c00" d="M168 186l-14.5 -0.2 -14 -2.5 -13 -4.6 -6 -3 -6 -3.8 -5.1 -3.9 -4.8 -4.5 -4.1 -4.8 -3.6 -5.2 -3 -5.5 -2.2 -5.5 -1.7 -6 -0.9 -6 -0.3 -6 0.5 -6 1.1 -6 1.9 -6 2.4 -5.5 3.1 -5.5 3.7 -5.1 4.5 -5.1 5 -4.6 5.5 -4.2 6 -3.7 6 -3 6.5 -2.6 7 -2.1 14 -2.5 7.5 -0.4 7.5 0.2 7.5 0.7 7.5 1.5 7 1.9 7 2.6 6.5 3.2 6 3.6 5.5 4 5 4.6 4.5 5 3.9 5.5 3 5.5 2.5 6 1.6 6 0.9 6 0.2 6.5 -0.5 6 -1.3 6 -2 6 -2.6 5.5 -3.3 5.5 -4.3 5.5 -4.6 4.8 -5 4.3 -6 4.3 -6.5 3.7 -6.5 2.9 -7 2.5 -7 1.9 -7.5 1.4 -7.5 0.7z"/><path fill="#ff2400" d="M169 185.5l-14.5 -0.1 -14 -2.3 -13 -4.4 -6 -3 -6 -3.6 -5 -3.7 -4.8 -4.4 -4.1 -4.5 -3.6 -5 -3.2 -5.5 -2.4 -5.5 -1.6 -5.5 -1.2 -6 -0.4 -6 0.3 -6 1 -6 1.7 -6 2.2 -5.5 3 -5.5 3.3 -5 4.3 -5.1 4.5 -4.4 5.5 -4.4 11.5 -6.9 13 -5 14 -2.9 7.5 -0.6 7.5 0 7.5 0.6 7.5 1.2 7.5 1.8 7 2.5 6.5 2.9 6 3.4 5.7 3.9 5.3 4.5 4.5 4.8 4 5.2 3.3 5.5 2.7 6 1.8 6 1.1 6 0.4 6.5 -0.4 6 -1.1 6 -1.8 6 -2.7 6 -3.2 5.5 -4.1 5.5 -4.5 4.8 -5.3 4.7 -5.7 4.1 -6 3.5 -6.5 3.1 -7 2.6 -7 2 -7.5 1.4 -7.5 0.8z"/><path fill="#ff1c00" d="M170 185l-14.5 0.1 -14 -2.2 -13 -4.3 -11.5 -6 -5 -3.6 -5 -4.3 -4 -4.2 -3.9 -5 -3 -5 -2.6 -5.5 -1.9 -5.5 -1.3 -5.5 -0.6 -6 0 -6 0.7 -5.5 1.4 -6 1.9 -5.5 2.7 -5.5 3.4 -5.5 3.7 -4.8 9 -8.7 11 -7.3 12.5 -5.4 14 -3.5 7.5 -0.9 8 -0.4 7.5 0.4 7.5 0.9 7.5 1.6 7 2.2 6.5 2.6 6.5 3.3 6 3.9 5.5 4.3 4.9 4.8 4.1 5 3.6 5.5 2.7 5.5 2.1 6 1.4 6 0.6 6 -0.1 6.5 -0.8 6 -1.7 6 -2.4 6 -3.2 6 -3.7 5.2 -4.5 5.1 -5 4.7 -5.5 4.1 -6.5 4 -6.5 3.2 -7 2.7 -7 2.1 -7.5 1.5 -7.5 0.9z"/><path fill="#ff1400" d="M171 184.5l-14 0.2 -14 -1.9 -13 -4 -11.5 -5.8 -10 -7.5 -4.5 -4.5 -3.7 -4.5 -3.2 -5 -2.6 -5 -2.1 -5.5 -1.4 -5.5 -0.8 -5.5 -0.2 -6 0.5 -6 1.1 -5.5 1.8 -5.5 2.4 -5.5 3.1 -5.5 3.6 -5 8.5 -8.7 10.5 -7.5 12 -5.7 13.5 -3.8 7.5 -1.2 7.5 -0.6 8 0.1 7.5 0.7 7.5 1.3 7.5 2.1 7 2.6 6.5 3.1 6 3.5 5.5 4.1 5 4.6 4.5 5 3.8 5.4 2.9 5.5 2.4 6 1.6 6 0.8 6 0.1 6.5 -0.8 6.5 -1.5 6 -2.3 6 -2.8 5.5 -3.7 5.5 -4.2 5 -4.8 4.6 -5.5 4.4 -6 3.8 -6.5 3.4 -7 2.9 -7 2.2 -7.5 1.6 -8 1.1z"/><path fill="#ff0c00" d="M172 184l-14 0.4 -13.5 -1.7 -13 -3.8 -11.5 -5.5 -10 -7.1 -4.5 -4.3 -3.9 -4.5 -3.5 -5 -2.7 -5 -3.7 -10.5 -1 -5.5 -0.3 -6 0.3 -6 1 -5.5 1.5 -5.5 2.3 -5.5 6 -10 8.1 -9 10.4 -7.8 11.5 -5.8 13 -4.2 7.5 -1.4 7.5 -0.7 8 -0.2 7.5 0.5 7.5 1.1 7.5 1.8 7 2.4 6.5 2.8 6 3.3 6 4.1 5.4 4.6 4.6 4.9 3.9 5.1 3.2 5.5 2.7 6 1.7 6 1.1 6 0.2 6.5 -0.6 6.5 -1.3 6 -2.1 6 -2.8 5.8 -3.5 5.4 -4.3 5.3 -4.7 4.7 -5.5 4.5 -6 3.9 -6.5 3.5 -6.5 2.7 -7.5 2.4 -7.5 1.7 -7.5 1.1z"/><path fill="#ff0400" d="M166 184l-14.5 -0.6 -14 -2.9 -12.5 -4.8 -6 -3.3 -5.5 -3.8 -5 -4.2 -4.3 -4.4 -4 -5 -3.1 -5 -2.6 -5.5 -1.9 -5.5 -1.3 -6 -0.5 -6 0.1 -6 0.9 -6 1.6 -6 2.2 -5.5 3 -5.5 3.4 -5.1 4.1 -4.9 4.9 -4.7 5 -3.9 6 -3.9 6 -3.1 6.5 -2.8 13.5 -3.7 14.5 -1.6 14.5 0.8 14 2.9 6.5 2.3 6.5 2.9 6 3.4 5.5 3.8 4.9 4.1 4.3 4.5 3.8 4.8 3.2 5.2 2.6 5.5 1.9 5.5 1.3 6 0.5 6 -0.2 6 -0.8 5.5 -1.7 6 -2.2 5.5 -3 5.5 -3.6 5.2 -4.2 4.8 -4.8 4.5 -5.5 4.3 -5.5 3.5 -12.5 5.8 -13.5 3.7 -14.5 1.7z"/><path fill="#fb0000" d="M168 183.5l-14 -0.3 -14 -2.4 -12.5 -4.4 -6 -3 -5.5 -3.5 -5 -3.8 -4.5 -4.2 -4 -4.5 -3.5 -4.9 -2.7 -5 -2.3 -5.5 -1.6 -5.5 -1 -6 -0.3 -5.5 0.4 -6 1.2 -6 1.7 -5.5 2.4 -5.5 2.8 -5 3.6 -5 4.3 -4.9 5 -4.5 5 -3.8 11.5 -6.5 13 -4.6 13.5 -2.5 14.5 -0.4 14.5 2 13.5 4.1 6.5 3 6 3.4 5.5 3.9 5 4.4 4.5 4.9 3.7 5 3.2 5.5 2.3 5.5 1.7 5.5 1 6 0.3 6 -0.5 6 -1.2 6 -1.8 5.5 -2.5 5.5 -3.3 5.5 -3.9 5.1 -4.7 4.9 -5.3 4.5 -5.5 3.8 -6 3.4 -6.5 3 -7 2.5 -7 1.8 -14.5 2z"/><path fill="#f30000" d="M169.5 183l-14 0 -13.5 -2.1 -12.5 -4.1 -11.5 -6 -5 -3.6 -4.9 -4.2 -4.1 -4.4 -3.5 -4.6 -3 -5 -2.4 -5 -1.8 -5.5 -1.2 -5.5 -0.6 -5.5 0.1 -6 0.8 -5.5 1.3 -5.5 2.1 -5.5 2.7 -5.4 3.3 -5.1 3.7 -4.7 9 -8.3 11 -7 12.5 -5.2 13 -3.1 7.5 -0.8 7.5 -0.3 14.5 1.3 7 1.5 7 2.1 6.5 2.6 6.5 3.3 6 3.9 5 4 4.5 4.3 4.1 4.9 3.6 5.5 2.7 5.5 2 5.5 1.3 6 0.6 6 -0.1 6 -0.9 6 -1.7 6 -2.2 5.5 -3.1 5.5 -3.8 5.3 -4.5 5.1 -5 4.5 -5.5 4 -6 3.6 -6.5 3.2 -7 2.6 -7 2 -14.5 2.2z"/><path fill="#eb0000" d="M170.5 182.5l-13.5 0.2 -13.5 -1.9 -12.5 -3.8 -11.5 -5.7 -9.8 -7.3 -7.7 -8.5 -3.3 -5 -2.5 -5 -2 -5 -1.4 -5.5 -0.8 -5.5 -0.1 -5.5 0.5 -6 1.1 -5.5 1.8 -5.5 2.3 -5 2.9 -5 3.5 -4.8 8.5 -8.6 10.5 -7.3 12 -5.6 12.5 -3.4 7.5 -1.2 7.5 -0.5 7.5 0 7.5 0.7 7.5 1.4 7 1.9 6.5 2.3 6.5 3.1 6 3.5 5.4 4 5 4.5 4.1 4.5 3.9 5.5 3 5.5 2.2 5.5 1.6 6 0.7 6 0.1 6 -0.7 6 -1.5 6 -2.3 6 -3 5.5 -3.5 5.2 -4.2 4.8 -4.8 4.6 -5.5 4.2 -6 3.8 -6.5 3.2 -7 2.8 -7 2 -14.5 2.4z"/><path fill="#e30000" d="M171.5 182l-13.5 0.3 -13 -1.6 -12.5 -3.6 -11.5 -5.4 -10 -7.1 -7.7 -8.1 -6 -9.5 -2.2 -5 -1.6 -5.5 -1 -5.5 -0.3 -5.5 0.3 -5.5 0.9 -5.5 3.6 -10.5 2.7 -5 3.3 -4.9 7.8 -8.6 9.7 -7.3 11.5 -5.9 12.5 -4 7.5 -1.4 7.5 -0.8 7.5 -0.2 7.5 0.5 7.5 1.1 7 1.6 7 2.3 6.5 2.7 6.5 3.6 5.5 3.7 5 4.2 4.5 4.7 3.7 4.7 3.3 5.5 2.5 5.5 1.9 6 1.1 6 0.2 6.5 -0.5 6 -1.3 6 -2.1 6 -2.7 5.5 -3.6 5.5 -4 4.8 -4.8 4.7 -5.2 4.2 -6 3.9 -6.5 3.4 -6.5 2.6 -7 2.2 -7.5 1.7 -7.5 1z"/><path fill="#db0000" d="M166 182l-14.5 -0.6 -13.5 -2.8 -12.5 -4.9 -10.9 -6.7 -4.8 -4 -4.3 -4.4 -3.6 -4.6 -3.2 -5 -2.4 -5 -1.9 -5.5 -1.2 -5.5 -0.6 -6 0.2 -6 0.8 -5.5 1.4 -5.5 2.2 -5.5 2.9 -5.5 3.4 -5 4 -4.7 4.5 -4.3 5 -4 5.5 -3.6 6 -3.1 6.5 -2.7 13.5 -3.7 14 -1.6 14.5 0.8 13.5 2.8 12.5 4.9 6 3.3 5.5 3.8 4.9 4.1 4.1 4.2 3.8 4.8 3.1 5 2.4 5 1.9 5.5 1.2 5.5 0.5 6 -0.2 6 -0.9 5.5 -1.5 5.5 -2.3 5.5 -2.7 5 -3.5 5 -4.3 4.9 -4.5 4.2 -10.5 7.4 -12.5 5.7 -13.5 3.7 -14 1.6z"/><path fill="#d30000" d="M168.5 181.5l-13.5 -0.2 -13.5 -2.2 -12.5 -4.2 -11 -5.9 -9.3 -7.5 -4.1 -4.5 -3.3 -4.5 -3 -5 -2.2 -5 -1.7 -5.5 -1.1 -5.5 -0.4 -5.5 0.3 -5.5 0.8 -5.5 1.6 -5.5 2.2 -5.5 2.7 -5 3.5 -5 3.8 -4.5 9.2 -8 11 -6.6 12.5 -4.7 13 -2.7 14.5 -0.8 14.5 1.6 13.5 3.9 6.5 2.8 6 3.2 5.5 3.7 4.9 4.1 4.4 4.5 3.7 4.7 3.3 5.3 2.3 5 1.9 5.5 1.2 6 0.4 6 -0.2 5.5 -1.1 6 -1.7 5.5 -2.4 5.5 -3.2 5.4 -3.8 5.1 -4.3 4.5 -4.9 4.3 -5.5 3.9 -6 3.5 -6.5 3 -13.5 4.2 -14.5 2.1z"/><path fill="#cb0000" d="M170 181l-13.5 0.1 -13 -1.9 -12.5 -3.9 -11 -5.5 -9.5 -7.2 -7.5 -8.3 -5.5 -9.3 -1.9 -5 -1.4 -5.5 -0.9 -10.5 0.5 -5.5 1.1 -5.5 1.8 -5.5 2.2 -5 6.3 -9.5 8.3 -8.4 10 -6.9 11.5 -5.3 13 -3.7 14.5 -1.6 7.5 0.1 7.5 0.7 14 3.1 6.5 2.3 6.5 3.1 6 3.5 5.5 4 5 4.6 4 4.5 3.5 5 2.9 5.5 2.2 5.5 1.4 5.5 0.7 6 0 6 -0.8 6 -1.4 5.5 -2.2 5.5 -2.9 5.5 -3.5 5 -4.4 5 -5 4.6 -5.3 3.9 -5.7 3.5 -6.5 3.2 -13.5 4.5 -14.5 2.3z"/><path fill="#c30000" d="M171.5 180.5l-13 0.3 -13 -1.6 -12 -3.3 -11 -5.1 -9.9 -6.8 -7.9 -8 -5.8 -9 -3.8 -10 -1 -5 -0.5 -5.5 0.9 -10.5 1.5 -5.5 1.9 -5 5.5 -9.5 7.4 -8.5 9.2 -7.2 11 -5.9 12 -4.1 7 -1.5 7.5 -1 7.5 -0.3 7.5 0.2 7.5 1 7.5 1.5 7 2.2 6.5 2.6 6 3.1 5.9 3.9 5.1 4.1 4.5 4.5 4 5 3.3 5.4 2.6 5.5 1.7 5.5 1.1 6 0.3 6 -0.4 6 -1.2 5.5 -2 6 -2.7 5.5 -3.2 5 -4.1 5 -4.5 4.5 -5.4 4.4 -6 3.8 -6 3.2 -6.5 2.7 -7 2.2 -7.5 1.7 -7.5 1z"/><path fill="#bb0000" d="M165.5 180.5l-14 -0.7 -13.5 -2.8 -12 -4.7 -5.5 -3.1 -5.5 -3.8 -4.7 -3.9 -4.3 -4.5 -3.4 -4.5 -3.1 -5 -2.5 -5.5 -1.7 -5.5 -1 -5.5 -0.3 -5.5 0.3 -5.5 0.9 -5.5 1.6 -5.5 2.4 -5.5 2.9 -5 3.6 -5 4.1 -4.5 4.7 -4.2 10.5 -7.1 12.5 -5.4 13 -3.2 14 -1.3 14 1 13 3 12.5 5.1 10.5 6.7 4.5 3.9 4.3 4.5 3.4 4.5 3 5 2.3 5 1.8 5.5 1.1 5.5 0.3 5.5 -0.3 5.5 -0.9 5.5 -1.7 5.5 -2.1 5 -2.9 5 -3.6 5 -8.6 8.5 -10.6 7.2 -12 5.4 -13.5 3.5 -13.5 1.4z"/><path fill="#b30000" d="M168 180l-13.5 -0.2 -13 -2.3 -12 -4 -11 -6 -9 -7.3 -7.2 -8.7 -2.9 -5 -2.2 -5 -1.5 -5 -1.1 -5.5 -0.3 -5.5 0.3 -5.5 1 -5.5 1.4 -5 2.1 -5 2.9 -5.2 3.4 -4.8 3.9 -4.5 9.2 -7.8 11 -6.3 12 -4.4 13 -2.6 14.5 -0.6 14 1.7 7 1.7 6.5 2.2 6.5 2.9 5.5 3.1 5.3 3.6 4.7 4 4.4 4.5 3.6 4.7 3 5 2.4 5.3 1.7 5.5 1 5.5 0.3 6 -0.4 5.5 -1.1 5.5 -1.8 5.5 -2.6 5.5 -3 4.9 -3.6 4.6 -4.4 4.6 -5 4.2 -5.5 3.8 -12 6 -13.5 4 -14 1.9z"/><path fill="#ab0000" d="M170 179.5l-13 0.1 -13 -1.9 -12 -3.6 -11 -5.4 -9.5 -7.1 -7.4 -8.1 -5.3 -9 -3.2 -10 -0.8 -5 -0.2 -5.5 0.5 -5.5 1.1 -5 3.8 -10 2.9 -5 3.3 -4.5 7.9 -8 9.9 -6.9 11.5 -5.3 12 -3.4 7 -1.2 7.5 -0.6 14.5 0.7 14 2.9 7 2.5 6 2.7 5.5 3.2 5.5 3.9 4.6 4 4.4 4.7 3.5 4.8 3.1 5.5 2.2 5.5 1.5 5.5 0.7 5.5 0.1 6 -0.8 6 -1.4 5.5 -2.2 5.5 -3 5.5 -3.5 5 -4 4.5 -4.7 4.3 -5.5 4.1 -5.5 3.3 -6.5 3.2 -6.5 2.4 -7 2 -14 2.2z"/><path fill="#a30000" d="M171.5 179l-13 0.3 -12.5 -1.5 -11.5 -3.2 -11 -4.9 -9.5 -6.4 -7.9 -7.8 -5.7 -8.5 -3.8 -9.5 -1.6 -10 0.1 -5.5 0.6 -5 3 -10 5.3 -9.5 7 -8.2 9 -7.3 10.5 -5.8 11.5 -4.1 7 -1.6 7.5 -1.1 14.5 -0.3 7.5 0.8 7 1.4 7 1.9 6.5 2.5 6 2.9 6 3.7 5 3.8 4.7 4.4 4.2 5 3.2 5 2.7 5.5 1.9 5.5 1.3 6 0.3 6 -0.4 6 -1.1 5.5 -1.8 5.5 -2.7 5.5 -3.1 5 -4.1 5 -4.6 4.6 -5 4 -5.5 3.6 -6.5 3.4 -6.5 2.7 -7 2.2 -7 1.5 -7.5 1z"/><path fill="#9b0000" d="M166.5 179l-14 -0.6 -13 -2.5 -12 -4.5 -10.5 -6.2 -8.7 -7.7 -3.7 -4.5 -3.1 -4.8 -2.6 -5.2 -1.8 -5 -1.1 -5 -0.7 -5.5 0.1 -5 0.6 -5.5 1.4 -5.5 1.9 -5 2.5 -5 3.3 -5 7.9 -8.6 10 -7.4 11.5 -5.6 12.5 -3.7 13.5 -1.8 14 0.4 13.5 2.4 12.5 4.5 11 6.3 9 7.8 4 4.7 3 4.5 2.6 5 1.9 5 1.3 5.5 0.7 5.5 -0.1 5.5 -0.7 5.5 -1.4 5.5 -2 5 -2.7 5 -3.4 5 -8.2 8.5 -10 7.1 -12 5.6 -13 3.7 -14 1.6z"/><path fill="#930000" d="M169 178.5l-13 -0.1 -12.5 -1.9 -12 -3.8 -10.5 -5.3 -9.2 -6.9 -7.3 -8.2 -5.2 -9.3 -3 -10 -0.6 -5 0 -5.5 1.8 -10 1.7 -5 2.4 -5 6.3 -9 8.1 -7.7 10 -6.6 11.5 -5 12 -3.1 14 -1.4 14.5 0.9 13.5 3 6.5 2.4 6 2.8 5.5 3.3 5.4 3.9 4.6 4.2 4 4.5 3.3 4.8 2.7 5 2.2 5.5 1.3 5.5 0.7 5.5 -0.1 6 -0.8 5.5 -1.5 5.5 -2.3 5.5 -2.9 5 -3.6 5 -4 4.3 -4.7 4.2 -5.3 3.9 -6 3.5 -6 2.8 -6.5 2.4 -7 1.9 -14 2z"/><path fill="#8b0000" d="M171 178l-12.5 0.2 -12.5 -1.5 -12 -3.4 -10.5 -4.8 -9.4 -6.5 -7.5 -7.5 -5.6 -8.5 -3.6 -9.5 -1.4 -10 0.8 -10 3.2 -10 5.2 -9 7 -8 8.9 -7 10.4 -5.6 11.5 -4 14 -2.5 14.5 -0.2 14 2.1 7 2 6.5 2.5 6 3 5.5 3.3 5.1 3.9 4.7 4.5 3.8 4.5 3.4 5.2 2.6 5.3 1.9 5.5 1.1 5.5 0.4 6 -0.4 6 -1.2 5.5 -1.9 5.5 -2.5 5.2 -3.1 4.8 -4.1 5 -4.6 4.5 -5.2 4.1 -5.5 3.5 -6 3.1 -6.5 2.7 -7 2.1 -7 1.5 -7.5 1z"/><path fill="#800000" d="M163.5 178l-13.7 -1 -13.3 -3.2 -12 -5.2 -5.5 -3.3 -5 -3.8 -4.3 -4 -3.8 -4.5 -3.4 -5 -2.5 -5 -2 -5.5 -1.2 -5.5 -0.5 -5.5 0.2 -5.5 0.8 -5.5 1.6 -5.5 2.4 -5.5 2.9 -5 3.3 -4.5 4.2 -4.5 4.8 -4.3 5 -3.5 6 -3.5 6 -2.8 13 -4 14.2 -1.9 13.8 0.3 13 2.4 11.5 4 10.5 5.7 8.9 7.1 6.7 8 2.9 4.7 2.2 4.8 1.6 5 1 5 0.2 10.1 -2 9.5 -1.9 4.9 -2.6 4.8 -6.5 8.6 -9 8 -10.5 6.3 -11.5 4.5 -12.5 2.8 -13 1z"/></g><g transform="matrix(-1,0,0,1,639,0)"><path fill="#00008b" d="M295.5 262l-297.5 0 0 -264 300.8 0 7 41.5 8.7 66.4 3.2 18.6 -2.7 14.5 -6.3 48 -4 27 -5.4 30 -3.4 18 -0.4 0z"/><path fill="#000093" d="M287.5 262l-289.5 0 0 -264 293.6 0 5.6 24 5.1 23.5 13.9 79 -15.5 84.5 -6.5 27.5 -6.7 25.5z"/><path fill="#00009b" d="M281 262l-283 0 0 -264 288.2 0 7.5 27 6.5 26 14.2 69 0.3 6 -11.5 56.5 -5.9 25.5 -8.4 30 -6.1 18 -1.4 6 -0.4 0z"/><path fill="#0000a3" d="M276 262l-278 0 0 -264 283.6 0 9.1 28.5 7.9 28.5 14.2 63 0.4 9 -0.6 4.5 -10.4 45.5 -7.3 29 -9 28.5 -9.9 27.5z"/><path fill="#0000ab" d="M271 262l-273 0 0 -264 279.5 0 10.7 30 9 30 14 58 0.6 4 0 8 -0.9 6 -9.6 39.5 -8.9 32 -5.1 15.5 -5.5 15 -7 16.5 -3.8 9.5z"/><path fill="#0000b3" d="M266.5 262l-268.5 0 0 -264 275.8 0 6.4 16.5 5.6 14.5 5.4 15.5 5.1 17 13.4 52.5 0.6 5 0 10 -1.1 7.5 -8.5 33 -5.4 19.5 -5.1 16 -5.9 16.5 -6.1 15 -7.9 17 -3.3 8.5 -0.5 0z"/><path fill="#0000bb" d="M262.5 262l-264.5 0 0 -264 272.3 0 6.9 16.5 6.6 15.5 6 16.5 5.5 17.5 12.9 48.5 0.7 5.5 0 12 -1.3 8.5 -7.3 27.5 -6 20.5 -6 18 -6 15.5 -6.5 15 -7.9 16 -5 11 -0.4 0z"/><path fill="#0000c3" d="M259 262l-261 0 0 -264 269 0 7.7 17 7.2 16 6.5 17 6.3 19 6.6 23 5.6 21.5 0.7 5.5 -0.1 14 -1.4 9 -6.3 23 -6.5 21.5 -6.5 18.5 -6 15 -6.8 14.9 -7.4 14.1 -7.6 15z"/><path fill="#0000cb" d="M255 262l-257 0 0 -264 265.8 0 8.6 17.5 7.7 16.5 7.1 17.5 6.5 19 7.1 23.5 4.7 18.5 0.7 6 -0.1 15.5 -1.5 9.5 -5.8 21 -7.1 22 -7 19 -6.7 15.7 -7.3 14.8 -8.4 15 -7.3 13z"/><path fill="#0000d3" d="M251.5 262l-253.5 0 0 -264 262.8 0 9.2 17.8 8.3 16.7 7.4 17.5 7 19.5 7.1 23 4.3 16.5 0.8 7 -0.1 16.5 -1.4 9.5 -5.2 18.5 -7.4 22.5 -7.5 19.5 -7.1 16 -7.7 14.8 -8.5 14.3 -8.5 14.4z"/><path fill="#0000db" d="M248 262l-250 0 0 -264 259.8 0 9.7 17.6 8.8 16.9 8 18 7.5 20 6.9 22 4.1 15.5 0.7 7.5 -0.1 17.5 -1.3 10 -5.2 18 -7.5 22 -7.8 19.5 -7.5 16 -8.1 14.8 -8.6 13.7 -9.4 15z"/><path fill="#0000e3" d="M244 262l-246 0 0 -264 256.9 0 10.5 18 9.3 17 8.5 18.5 7.7 20 6.9 21.5 3.7 14.5 0.7 8.5 -0.1 18 -1.5 10.5 -5.3 18 -7.6 21.5 -8.5 20 -8 16 -9 15.5 -10.2 14.9 -7.5 11.6 -0.5 0z"/><path fill="#0000eb" d="M240.5 262l-242.5 0 0 -264 254 0 11 17.9 9.9 17.1 8.8 18.5 8 20 6.8 20.5 3.7 14.5 0.8 9.5 -0.2 18.5 -1.6 11 -5 17 -7.8 21.5 -8.6 19.5 -8.6 16.5 -9.2 15.1 -11 15.3 -8 9.6 -0.5 2z"/><path fill="#0000f3" d="M237 262l-227.2 0 -5.1 -7.5 -6.7 -5.5 0 -241.9 7.9 -9.1 243.3 0 11.3 17.5 10.3 17 9 18 8.5 20.5 6.8 20 3.8 14.5 0.8 10.5 -0.2 18.5 -1.5 11.5 -4.9 16.5 -7.8 21 -9.1 20 -8.9 16.5 -9.8 15.3 -11 14.5 -8 9.1 -1.5 3.1z"/><path fill="#0000fb" d="M233.5 262l-214.3 0 -12.6 -15.5 -8.6 -8.4 0 -220.2 9 -9.2 7.6 -10.7 231.8 0 0.6 2.8 12 15.8 10.5 16.8 9.6 18.6 8.6 20.5 6.5 19 3.4 13.5 0.9 12.5 -0.3 18 -1.5 11.5 -5 16.5 -8.1 21 -9.2 19.5 -9.4 16.6 -10 14.8 -11.5 14.4 -7.5 8.1 -2.5 4.1z"/><path fill="#0004ff" d="M230 262l-201.9 0 -10.3 -12 -9.3 -10.8 -10.5 -11.6 0 -199.2 12.7 -14.9 11.9 -15.5 220.9 0 7.2 10.5 11.6 16 10.2 17.3 9.3 19.2 8.1 20.5 4.6 14.5 2.2 10.5 0.6 15.5 -0.6 17 -2.1 12 -6 18 -7.9 19 -9.2 18.4 -9.4 15.6 -10.1 14.3 -11.5 13.5 -10.5 12.2z"/><path fill="#000cff" d="M226.5 262l-190 0 -13.9 -15 -12.3 -14.5 -12.3 -15.3 0 -178.5 8.4 -10.2 7.2 -10 8 -9.5 8.6 -11 210.5 0 7.3 10.2 6.5 8.1 10.7 15.7 9.8 17.4 8.8 19.1 7.3 19.5 3.2 11.5 1.4 9 0.4 16.5 -0.8 16.5 -2.7 12.5 -6.3 18 -8 18.5 -9.3 17.5 -9.5 15.1 -10.5 13.9 -11.5 12.9 -11 12.1z"/><path fill="#0014ff" d="M222.5 262l-177.9 0 -9.1 -9.6 -8.7 -8.4 -8 -9 -7.3 -9.5 -5.9 -9 -7.6 -9.7 0 -157.7 9.8 -13.6 8.6 -12.5 10 -12 11 -13 200.4 0 10.7 13.6 9.5 12.3 10 15.4 9 16.7 8.1 18.5 6.3 18 2.4 10 0.9 10 0.1 17 -1.1 15 -3.4 13.5 -6.7 18 -8.4 18 -9.2 16.4 -10 14.8 -10.5 13.1 -12.5 13 -8 7 -2.5 3.7z"/><path fill="#001cff" d="M219 262l-166.5 0 -11 -10.6 -10.5 -9.9 -9.5 -10.7 -8.5 -11.5 -6.9 -11.3 -8.1 -12 0 -136.1 10.6 -16.9 10.2 -15.5 12 -14.5 13.5 -15 190.7 0 14 16.9 12.5 16.6 9 14.7 8.1 15.8 7.4 17.5 5.1 15.5 1.9 10 0.8 13 -0.3 16 -1.4 13 -3.8 14 -6.9 17.5 -8.4 17.1 -9.5 16.1 -10 14.2 -11 13 -11.5 11.4 -12 11.7z"/><path fill="#0024ff" d="M215 262l-154.8 0 -13.2 -11.7 -12.3 -11.3 -11 -12.5 -9.6 -13.5 -7.8 -14 -8.3 -14.4 0 -113.3 6.2 -10.3 4.9 -10 5.7 -10 6 -9 6.7 -8.7 7.3 -8.3 7.7 -7.7 8.3 -9.3 181.2 0 9 10.6 8.5 9.4 8 10.3 7.3 10.7 8.1 14 7.3 15 6.2 15.5 4.1 13.5 1.6 10.5 0.6 15.5 -0.7 16 -1.6 11 -4.4 14.5 -7.4 17.5 -8.6 16.6 -9.5 15.1 -10.5 14 -11 12.2 -12 11.1 -12 11z"/><path fill="#002cff" d="M210.5 262l-142.7 0 -15.3 -12.5 -14.1 -12.5 -12.4 -14.2 -10.7 -15.8 -8.7 -17 -3.6 -9 -5 -9.3 0 -87.6 6 -12.1 5 -12 6 -11.5 6.8 -11 7.8 -10.5 8.4 -9.6 9.5 -9.3 9.7 -10.1 171.8 0 11 12.1 10 10.9 9.5 12.5 8.7 13.5 7.3 13.5 6.5 14.2 5.1 13.8 2.8 11 1.4 12.5 0.1 16 -1.1 15.5 -2 10.5 -5.1 15 -7.7 16.9 -8.6 15.6 -9.9 14.8 -10.5 13.1 -11.5 11.9 -13 11 -7.5 5.4 -4 4.3z"/><path fill="#0034ff" d="M206.5 262l-131.1 0 -8.9 -7.3 -9 -6.2 -8.1 -6.5 -7.9 -7.4 -7.1 -7.6 -6.5 -8 -6.3 -9 -5.4 -9 -5.4 -11 -4.6 -11.5 -3.6 -11.5 -4.6 -11.9 0 -54.4 3.7 -8.2 4 -14 4.9 -13 6.1 -12.5 7.6 -12.5 8.5 -11.5 9.2 -10.5 10.5 -9.9 10.9 -10.6 162.6 0 12.5 13 12 13 11 14.6 9.7 15.9 6.6 13 5.5 13 3.8 11.5 2.1 10 1.2 15 -0.3 16.5 -1.4 13.5 -2.8 11.5 -5.7 15 -7.8 16 -8.9 15.1 -10 14 -10.5 12.3 -11.5 11.1 -12 9.6 -13 10.4z"/><path fill="#003cff" d="M201.5 262l-118.4 0 -10.1 -7.4 -10 -6.5 -9.5 -7.3 -8.6 -7.8 -7.9 -8.5 -7.6 -9.5 -6.7 -10 -5.6 -10 -5.4 -12 -4.5 -13 -3.3 -13.5 -2 -13.5 -0.8 -13.5 0.5 -14 1.7 -13.5 3 -13.5 4.1 -13 5.4 -13 6.6 -12.5 7.5 -11.5 8.6 -11 9.5 -10.1 10.5 -9.3 11 -10.1 153.3 0 7.7 8 7 6.3 13.5 14.5 12.3 16.7 10.7 18.6 6 12.9 4.6 12 2.7 10 1.4 10 0.6 16.5 -0.8 16.5 -1.9 12 -3.6 12 -6.5 15.2 -8.1 15.3 -9.4 14.5 -10 12.9 -11 11.8 -11.5 10.2 -12.5 9 -12.5 9.1z"/><path fill="#0044ff" d="M196.5 262l-105.5 0 -11.5 -7.6 -11.4 -6.9 -10.6 -7.8 -9.5 -8.4 -9 -9.6 -8 -10.2 -7.1 -11 -6 -11.5 -5.1 -12.5 -3.8 -12.5 -2.7 -13 -1.6 -13.5 -0.2 -13 0.9 -13.5 2.2 -13.5 3.3 -13 4.4 -12.5 5.7 -12.5 6.8 -12 7.7 -11 8.8 -10.5 9.5 -9.5 10.2 -8.6 11.4 -9.9 144.2 0 8.4 8.2 8.5 7.4 7.5 7.4 7.5 8.5 7 9.2 6.5 9.7 6 10.2 5.5 10.9 5.5 13 3.5 11.5 1.8 10 0.9 13 -0.2 15.5 -1.5 14.5 -2.6 11 -4.4 12 -7 14.8 -8.5 14.6 -9.2 13.1 -10.3 12.3 -11 10.9 -12 9.7 -12.5 8.2 -12.5 8.4z"/><path fill="#004cff" d="M190.5 262l-91.1 0 -8.9 -5.7 -12 -6.1 -11 -6.9 -10.5 -8.1 -9.5 -8.9 -8.7 -9.8 -7.8 -10.6 -6.8 -11.4 -5.7 -12 -4.4 -12 -3.3 -12.5 -2.2 -13 -1 -13 0.2 -13 1.5 -13.5 2.6 -13 3.7 -12.5 4.7 -12 6.1 -12 7.1 -11.5 7.9 -10.5 9 -10 9.6 -8.9 10.5 -8.1 10.8 -9 134.9 0 9.8 8.9 9 7.4 9 8.8 8 9.1 7.8 10.3 7.1 11 6.3 11.5 5.4 11.5 4.5 12.5 2.5 10.5 1.4 13.5 0.1 15 -1 14 -2 11.5 -3.6 11.5 -5.4 12.5 -7.6 14.1 -8.7 13.4 -9.8 12.6 -10.5 11.2 -11 9.8 -12 8.7 -12.5 7.2 -12.5 7.5z"/><path fill="#0054ff" d="M183.5 262l-74.9 0 -11.6 -6.1 -11.5 -5.3 -11 -6.3 -10.5 -7.3 -9.9 -8.5 -8.8 -9 -8.1 -10 -7 -10.5 -5.9 -11 -5.1 -12 -3.9 -12 -2.8 -12.5 -1.6 -12.5 -0.4 -13 0.8 -13 1.8 -12.5 3 -12.5 4.1 -12 5 -11.5 6.3 -11.5 7.4 -11 8.1 -10 9 -9.4 9.5 -8.2 10.5 -7.7 11.3 -8.7 125.3 0 10.9 9.1 10 7.9 9.5 9.1 9 10.1 8.5 11.4 7.5 11.9 6.6 12.5 5.3 12.5 3.5 11.5 2 12 0.8 16 -0.7 15.5 -1.6 12 -2.7 10.5 -4.7 12 -6.1 12.5 -8.2 13.5 -9.2 12.8 -10 11.4 -10.5 10.1 -11.5 9.1 -12.5 7.9 -13 6.4 -12 6.3z"/><path fill="#005cff" d="M175 262l-55.5 0 -10.5 -4.8 -10 -3.5 -10 -4.5 -9 -4.8 -10.5 -6.9 -9.5 -7.5 -9 -8.5 -8.3 -9.5 -7.2 -10 -6.3 -10.5 -5.4 -11.5 -4.2 -11.5 -3.2 -12 -2.1 -12 -1 -12.5 0.2 -12.5 1.3 -12.5 2.5 -12.5 3.5 -12 4.4 -11.5 5.5 -11 6.6 -11 7.4 -10 8.3 -9.5 9 -8.6 10 -8 10.5 -7 10.8 -7.9 115.5 0 11.7 9.1 11 8.2 10.5 9.7 9.5 10.5 9.3 12.5 8 13 6.8 13.5 5 13 2.9 12 1.5 15 0 15.5 -1.5 15 -2.2 11 -3.5 10.5 -5.4 12 -7 12.5 -8.7 13 -9.7 11.9 -10.5 10.8 -11.5 9.7 -12 8.2 -12.5 6.7 -13 5.2 -12.5 5.5z"/><path fill="#0064ff" d="M161 262l-25.5 0 -10.5 -3.5 -10.5 -2.4 -11.5 -3.7 -11 -4.7 -10.5 -5.6 -10 -6.5 -9.5 -7.4 -8.5 -8 -8 -9 -7 -9.5 -6.2 -10.2 -5.2 -10.5 -4.2 -11 -3.3 -11.5 -2.3 -11.5 -1.2 -12 -0.1 -11.5 0.9 -12 1.9 -12 3 -11.5 4 -11.5 4.9 -11 5.9 -10.5 6.8 -10 7.7 -9.5 8.4 -8.8 9 -7.8 10 -7.4 10.5 -6.3 10.4 -7.2 105.3 0 2.8 3.4 12.5 7.3 11.5 8.6 11 10.1 10.5 11.9 9.5 13.2 8.2 14 6.4 14 4.1 13 2.2 13.5 0.8 15.5 -0.8 15 -2.2 14.5 -3.3 11.5 -5.1 12 -7.1 13 -8.2 12.5 -9.5 11.9 -10.5 10.9 -11.5 9.8 -12 8.3 -12.5 6.8 -13.5 5.5 -13.5 3.7 -13.5 4.1z"/><path fill="#006cff" d="M158 258l-11.5 0.3 -11.5 -0.8 -11.5 -1.8 -11.5 -3 -11 -3.8 -11 -5 -10.4 -5.9 -9.6 -6.7 -9 -7.5 -8.4 -8.3 -7.5 -9 -6.6 -9.5 -5.7 -10 -5 -11 -3.9 -11 -2.9 -11.5 -1.8 -11.5 -0.7 -12 0.3 -12 1.3 -11.5 2.3 -11.5 3.4 -11.5 4.4 -11 5.2 -10.5 6.4 -10.5 7 -9.5 7.7 -8.7 8.6 -8.3 9.4 -7.6 10 -6.7 10.5 -5.9 10.8 -6.8 94.5 0 10.7 7.2 12 7.5 11.5 9 10.5 10.1 9.9 11.7 9 13 7.6 13.7 5.7 13.3 3.6 12.5 1.9 14 0.5 15 -1 14.5 -2.4 14 -3.5 11.5 -5.6 12.5 -7.2 12.7 -8.5 12.3 -10 11.9 -10.5 10.3 -11.5 9.3 -12 7.7 -12.5 6.3 -13 4.9 -13.5 3.3 -14 1.8z"/><path fill="#0074ff" d="M153.5 256l-14 -0.4 -14 -1.9 -14 -3.6 -13.5 -5.1 -12.5 -6.3 -12 -7.8 -11 -9 -10.2 -10.4 -8.6 -11 -7.4 -12 -5.9 -12.5 -4.7 -13.5 -3.1 -14 -1.6 -14 0 -14.5 1.6 -14 3.1 -14 4.5 -13.5 6 -13 7.5 -12.5 8.8 -11.7 10 -10.7 11 -9.4 12 -8.4 13 -7 14 -7.8 82.8 0 10.2 6.3 10 5.4 10 6.6 9 7.2 9 8.5 8 9 7.5 10 6.7 10.5 5.4 10 4.2 9.5 3 9 2 9 1.5 11.5 0.4 11.5 -0.4 12 -1.4 11.5 -2.1 10 -3.1 9.5 -4.6 10.5 -5.7 10.5 -6.9 10.5 -7.5 9.8 -8 8.9 -9 8.6 -8.5 6.8 -9.5 6.5 -10 5.7 -10 4.5 -10 3.5 -10.5 2.7 -10.5 1.7 -11 0.8z"/><path fill="#007cff" d="M160.5 253.5l-11.5 0.4 -12 -0.8 -12 -1.9 -11.5 -2.9 -11 -3.9 -11 -5.1 -10.5 -6.1 -9.4 -6.7 -9.1 -7.8 -8 -8.3 -7.2 -8.9 -6.6 -10 -5.6 -10.5 -4.4 -10.5 -3.6 -11.5 -2.4 -11.5 -1.3 -11.5 -0.3 -12 0.9 -12 1.9 -11.5 3 -11.5 4 -11 5.1 -11 6.1 -10.5 7.1 -10 7.7 -9 8.6 -8.4 9.5 -7.7 10 -6.8 10.5 -5.8 11 -4.9 11.4 -5.9 69.8 0 14.8 7.7 14 7.6 11 7.8 10.5 9.2 9.5 10.1 9 11.6 7.8 12.5 6.3 12.5 4.3 11.5 2.7 12 1.4 13.5 0.2 14 -1.3 14 -2.5 13 -3.6 11 -5.3 11.5 -7 12 -8 11.3 -9.5 11.1 -10 9.7 -11 8.7 -11.5 7.4 -12 6 -12.5 4.7 -13 3.3 -13.5 1.8z"/><path fill="#0083ff" d="M160 251.5l-11.5 0.3 -12 -0.9 -12 -2 -11.5 -3.1 -11 -4 -11 -5.3 -10.5 -6.3 -9.5 -7 -9 -8.1 -7.9 -8.6 -7.2 -9.5 -6.2 -10 -5.2 -10.5 -4.2 -11 -3.1 -11.5 -2 -11.5 -0.9 -11.5 0.2 -12 1.4 -12 2.4 -11.5 3.6 -11.5 4.5 -11 5.8 -11 6.6 -10 7.5 -9.5 8.2 -8.6 9 -7.9 10 -7.2 10.5 -6.3 11 -5.3 11 -4.1 11.5 -5.1 54.2 0 10.8 5.1 10.5 4.2 10 5.1 10 6.3 10.5 8.2 10 9.6 9 10.5 8.1 11.5 6.9 12 5.3 12 3.4 11 2.1 12 1 13 -0.3 13.5 -1.6 13.5 -2.7 12 -4 11 -5.6 11.5 -7.1 11.5 -8 10.7 -9.5 10.6 -10 9.2 -11 8.3 -11 6.7 -12 5.7 -12 4.2 -12.5 3 -13 1.6z"/><path fill="#008bff" d="M161 249.5l-12 0.3 -12 -0.9 -12 -2 -12 -3.3 -11.5 -4.3 -10.5 -5.2 -10.5 -6.5 -9.5 -7.2 -9 -8.3 -8 -9 -6.9 -9.6 -6.2 -10.5 -5 -11 -3.8 -11 -2.7 -11.5 -1.6 -12 -0.5 -12 0.8 -12 1.9 -12 3.2 -12 4.3 -11.5 5.3 -11 6.4 -10.5 7 -9.5 8.3 -9.2 9 -8.3 9.5 -7.2 10.5 -6.6 11 -5.5 11.5 -4.5 12 -3.5 12 -4.2 32.7 0 15.3 5.2 11 3.7 11 5 10.5 6.1 10 7.2 10 8.9 9 9.7 8.3 10.7 7.2 11.5 5.6 11 4.1 11 2.6 10.5 1.7 12.5 0.5 12.5 -0.7 12.5 -1.9 12.5 -3 11.5 -4.1 10.5 -5.8 11.2 -7 10.9 -8.1 10.4 -8.9 9.6 -10 9 -10.5 7.7 -11 6.5 -11.5 5.3 -11.5 4 -12 2.8 -12.5 1.6z"/><path fill="#0093ff" d="M162.5 247.5l-12 0.4 -12.5 -0.8 -12.5 -2.1 -12 -3.3 -11.5 -4.4 -11 -5.5 -10.5 -6.7 -9.8 -7.6 -8.8 -8.5 -7.9 -9.3 -7.1 -10.2 -5.7 -10.5 -4.8 -11.5 -3.5 -11.5 -2.4 -12 -1.1 -12 0.2 -12.5 1.3 -12 2.6 -12 3.7 -11.5 5 -11.5 6.1 -11 6.9 -10 8.1 -9.5 8.7 -8.5 10 -8.1 10.5 -6.8 11 -5.8 12 -4.9 12 -3.5 12 -2.4 12.5 -1.1 11.5 0 11.5 1.3 11.5 2.3 11 3.5 11 4.8 10 5.6 10 6.9 9 7.6 9 9.1 8 9.7 7.4 10.8 6 11 4.3 10 3.1 10 2.1 11.5 1 12 0 12 -1.2 12 -2.2 11.5 -3.1 10.5 -4.6 10.5 -5.8 10.5 -7 10.3 -8 9.9 -8.5 8.7 -9.5 8.2 -10 7.2 -10.5 6.1 -11 5 -11 3.8 -11.5 2.7 -12 1.6z"/><path fill="#009bff" d="M157.5 246l-12.5 -0.2 -12 -1.3 -12 -2.6 -11.5 -3.7 -11.5 -5 -10.5 -5.8 -10 -6.9 -9.3 -8 -8.2 -8.5 -7.4 -9.5 -6.3 -10 -5.5 -11 -4.1 -11 -3 -11.5 -1.9 -12 -0.6 -12 0.6 -12 1.9 -12 2.9 -11.5 4.2 -11.5 5.3 -11 6.4 -10.5 7.5 -9.9 8.4 -9.1 9.1 -8.2 10 -7.3 10.5 -6.3 11.5 -5.4 11.5 -4.2 12 -3 12 -1.9 12.5 -0.6 11.5 0.6 11.5 1.7 11 2.8 11 4 10.5 5.1 10 6.1 9.5 7.2 9 8.2 8.5 9.3 7.5 9.9 6.5 10.5 5.2 10.5 3.7 10 2.5 10 1.7 12 0.6 12 -0.6 12 -1.6 11.5 -2.6 11 -3.6 10 -5.1 10.5 -6.4 10.5 -7.4 10 -8.4 9.4 -9 8.5 -9.5 7.4 -10 6.4 -10.5 5.5 -11 4.4 -11 3.2 -11.5 2.2 -12 1z"/><path fill="#00a3ff" d="M162 244l-12 0.3 -12 -1 -12 -2.1 -12 -3.4 -11.5 -4.5 -10.5 -5.4 -10 -6.4 -9.4 -7.5 -8.6 -8.4 -7.6 -9.1 -6.5 -9.5 -5.7 -10.5 -4.5 -11 -3.3 -11 -2.2 -11.5 -1.1 -12 0.2 -12 1.5 -12 2.5 -11.5 3.9 -11.5 4.9 -11 6 -10.5 7.1 -10 7.8 -9 9 -8.5 9.5 -7.4 10.5 -6.7 11 -5.6 11.5 -4.5 11.5 -3.2 12 -2.2 12 -1 11.5 0.2 11.5 1.3 11 2.4 11 3.6 10.5 4.6 10 5.7 9.5 6.6 9 7.6 8.5 8.7 8 9.9 6.7 10 5.7 10.5 4.1 10 2.8 10 2 11.5 0.9 11.5 -0.1 12 -1.3 11.5 -2.4 11.5 -3.2 10 -4.4 10 -5.7 10 -7 10 -7.6 9.2 -8.5 8.5 -9.5 8 -9.5 6.6 -10.5 5.9 -10.5 4.6 -11.5 3.8 -11.5 2.5 -11.5 1.4z"/><path fill="#00abff" d="M158.5 242.5l-12 -0.1 -12 -1.4 -12 -2.5 -11.5 -3.7 -11 -4.7 -10.5 -5.8 -9.5 -6.6 -9 -7.6 -8.3 -8.6 -7 -9 -6.4 -10 -5.2 -10.5 -3.9 -10.5 -3 -11.5 -1.8 -11.5 -0.6 -11.5 0.6 -12 1.8 -11.5 3 -11.5 4.1 -11 5.3 -11 6.2 -10 7.2 -9.4 8 -8.6 8.9 -8 9.6 -7 10.5 -6.3 11 -5.2 11.5 -4.1 11.5 -2.9 12 -1.8 12 -0.7 11.5 0.6 11.5 1.7 11 2.7 10.5 3.8 10 4.8 10 6 9.5 7.1 8.5 7.6 8.5 9.2 7.2 9.5 6.3 10 5.2 10.5 3.5 9.5 2.6 10.5 1.6 11.5 0.6 11.5 -0.6 11.5 -1.5 11 -2.7 11 -3.5 10 -4.8 10 -6 10 -7.4 9.9 -8 8.9 -8.5 8 -9.5 7.4 -10 6.4 -10.5 5.4 -10.5 4.2 -11 3.2 -11.5 2.1 -11.5 1z"/><path fill="#00b3ff" d="M164.5 240.5l-11.5 0.4 -12 -0.7 -12 -1.9 -11.5 -3.1 -11 -4.1 -11 -5.3 -10 -6.2 -9 -7 -8.5 -7.9 -7.6 -8.7 -6.7 -9.5 -5.6 -10 -4.5 -10.5 -3.5 -11 -2.3 -11 -1.2 -11.5 0.1 -11.5 1.1 -11.5 2.4 -11.5 3.5 -11 4.5 -10.5 5.7 -10.5 6.9 -10 7.7 -9 8.5 -8.3 9 -7.2 10 -6.6 10.5 -5.5 11 -4.5 11.5 -3.5 11.5 -2.3 12 -1.3 11.5 0 11 1 11 2.1 11 3.3 10 4.1 10 5.3 9.5 6.3 9 7.2 8.5 8.3 7.8 9.1 7 10 5.6 10 4.2 9.5 3.1 10 2.1 11 1.2 11.5 0 11.5 -1.1 11.5 -2.1 11 -3.1 10.5 -4 9.5 -5.4 10 -6.4 9.5 -7.4 9 -8.5 8.7 -9 7.7 -9.5 6.7 -10 5.8 -10.5 4.7 -11 3.8 -11 2.6 -11.5 1.5z"/><path fill="#00bbff" d="M163.5 239l-11.5 0.3 -12 -0.9 -11.5 -1.9 -11.5 -3.2 -10.5 -4 -10.5 -5.2 -10 -6.3 -9 -6.9 -8.3 -7.9 -7.3 -8.5 -6.6 -9.5 -5.6 -10 -4.4 -10.5 -3.4 -11 -2.2 -11 -1 -11.5 0.2 -11.5 1.3 -11.5 2.5 -11 3.6 -11 4.7 -10.5 5.7 -10 6.7 -9.5 7.6 -8.8 8.5 -8.1 9 -7 10 -6.4 10.5 -5.4 11 -4.4 11.5 -3.3 11.5 -2.2 12 -1.1 11.5 0.2 11 1.1 11 2.3 10.5 3.3 10.5 4.5 9.5 5.2 9.5 6.5 8.5 7.1 8.5 8.4 7.5 9.1 6.5 9.6 5.4 9.9 3.9 9.5 2.9 10 2.1 11 0.9 11 -0.1 11.5 -1.2 11 -2.2 11 -3.3 10.5 -4.2 9.5 -5.3 9.5 -6.4 9.2 -7.5 9 -8.5 8.5 -9 7.4 -9.5 6.5 -10 5.6 -10.5 4.5 -10.5 3.4 -11 2.5 -11.5 1.4z"/><path fill="#00c3ff" d="M163 237.5l-11.5 0.2 -12 -0.9 -11.5 -2.1 -11 -3.1 -11 -4.3 -10 -5.1 -9.5 -6 -9 -7.1 -8 -7.6 -7.5 -8.9 -6.3 -9.1 -5.4 -10 -4.4 -10.5 -3.1 -10.5 -2.1 -11 -0.9 -11 0.1 -11 1.4 -11.5 2.5 -11 3.5 -10.5 4.7 -10.5 5.7 -10 6.8 -9.5 7.5 -8.6 8.4 -7.9 9.1 -7 10 -6.3 10.5 -5.3 11 -4.3 11.5 -3.3 11.5 -2 11.5 -1 11 0.2 11 1.2 11 2.3 10.5 3.4 10 4.2 9.5 5.2 9.5 6.5 8.5 7.1 8 7.9 7.5 9.1 6.5 9.5 5.2 9.6 3.9 9.5 2.9 10 2 11 0.9 11 -0.1 11 -1.2 11 -2.3 11 -3.4 10.5 -4.1 9.5 -5.5 9.5 -6.3 9 -7.5 8.8 -8.5 8.4 -9 7.3 -9.5 6.3 -10 5.4 -10.5 4.5 -10.5 3.2 -11 2.4 -11 1.2z"/><path fill="#00cbff" d="M163.5 236l-11.5 0.2 -11.5 -0.8 -11.5 -2.1 -11 -3 -10.5 -4 -10 -5 -9.5 -6 -9 -6.9 -8.3 -7.9 -7.2 -8.5 -6.3 -9 -5.4 -10 -4.3 -10 -3.2 -10.5 -2.1 -11 -0.9 -11 0.1 -11 1.4 -11 2.4 -11 3.5 -10.5 4.5 -10 5.7 -10 6.6 -9.3 7.6 -8.7 8.4 -7.9 9 -7 9.5 -6 10.5 -5.3 10.5 -4.1 11.5 -3.3 11.5 -2.1 11.5 -1 11 0.2 11 1.1 10.5 2.2 10.5 3.3 10 4.2 9.5 5.1 9.5 6.4 8.5 7 8 7.9 7.5 9 6.3 9.3 5.2 9.5 3.9 9.5 2.9 10 1.9 10.5 0.9 11 -0.1 11 -1.2 11 -2.4 11 -3.2 10 -4.2 9.5 -5.1 9 -6.3 9 -7.2 8.5 -7.9 7.8 -9 7.4 -9.5 6.4 -10 5.5 -10.5 4.5 -10.5 3.3 -11 2.3 -11 1.3z"/><path fill="#00d3ff" d="M164.5 234.5l-11.5 0.3 -11 -0.8 -11.5 -1.9 -11 -2.9 -10.5 -3.9 -10 -4.9 -9.5 -5.9 -9 -6.9 -8 -7.5 -7.1 -8.1 -6.4 -9 -5.3 -9.5 -4.4 -10 -3.3 -10.5 -2.2 -10.5 -1 -11 0 -11 1.3 -11 2.4 -11 3.4 -10.5 4.4 -10 5.7 -10 6.3 -9 7.4 -8.5 8.3 -7.9 9 -7 10 -6.3 10 -5.1 10.5 -4.1 11 -3.2 11 -2 11.5 -1.1 11 0.1 11 1.1 10.5 2.1 10.5 3.1 10 4.2 10 5.3 9 6.1 8.5 6.9 8 7.9 7.1 8.4 6.2 9 5.2 9.5 3.8 9 3 10 2 10.5 1 11 -0.1 11 -1.1 10.5 -2.3 11 -3.1 10 -4.1 9.5 -5.1 9 -6 8.7 -7 8.3 -8 8 -9 7.4 -9.5 6.4 -9.5 5.2 -10 4.3 -10.5 3.4 -11 2.5 -11 1.3z"/><path fill="#00dbff" d="M166 233l-11 0.4 -11.5 -0.6 -11 -1.7 -11 -2.8 -10.5 -3.8 -10 -4.7 -9.5 -5.7 -9 -6.7 -8.1 -7.4 -7.4 -8.3 -6.3 -8.7 -5.4 -9.5 -4.5 -10 -3.2 -10 -2.2 -10.5 -1.2 -10.5 0 -11 1 -10.5 2.2 -10.5 3.2 -10.5 4.3 -10 5.5 -10 6.2 -9 7.2 -8.5 8.2 -8 8.5 -6.8 9.5 -6.2 10 -5.2 10 -4.1 11 -3.4 11 -2.3 11.5 -1.2 11 -0.1 10.5 0.8 10.5 1.9 10.5 3 10 3.9 9.5 4.8 9.5 6 8.5 6.7 8 7.5 7.5 8.6 6.5 9.1 5.1 9 4.1 9.5 3 9.5 2.2 10.5 1.1 10.5 0 11 -1 10.5 -2 10.5 -3 10 -3.9 9.5 -4.9 9 -6.1 9 -6.6 8.1 -8 8.1 -8.5 7.1 -9.5 6.6 -9.5 5.3 -10 4.4 -10.5 3.5 -10.5 2.4 -11 1.5z"/><path fill="#00e3ff" d="M160 232l-11 -0.2 -11 -1.2 -11 -2.2 -10.5 -3.3 -10.5 -4.4 -9.5 -5.1 -9 -6.1 -8.5 -7 -7.8 -8 -6.7 -8.5 -5.8 -9 -4.7 -9.5 -3.8 -10 -2.6 -10 -1.6 -10.5 -0.6 -11 0.7 -11 1.7 -10.5 2.9 -10.5 3.8 -10 4.8 -9.5 6.1 -9.5 6.6 -8.5 7.7 -8 8.3 -7.1 9 -6.4 10 -5.7 10 -4.5 10.5 -3.6 11 -2.7 11.5 -1.6 11 -0.5 11 0.6 10.5 1.6 10.5 2.6 10 3.6 9.5 4.4 9.5 5.6 8.5 6.3 8 7 7.5 8 6.4 8.4 5.7 9 4.4 9 3.4 9.5 2.5 10 1.5 10.5 0.5 10.5 -0.6 10.5 -1.6 10.5 -2.5 10 -3.7 10 -4.4 9 -5.7 9 -6.5 8.5 -7.4 8 -8 7.2 -9 6.6 -9 5.5 -10 4.9 -10 3.8 -10.5 2.8 -10.5 1.8 -11 0.9z"/><path fill="#00ebff" d="M164 230.5l-11.5 0.2 -11 -0.9 -11 -2 -10.5 -2.9 -10.5 -4.1 -9.5 -4.8 -9 -5.7 -8.5 -6.6 -7.6 -7.2 -6.9 -8 -6.2 -9 -5 -9 -4 -9.5 -3.1 -10 -2 -10.5 -0.9 -10.5 0.2 -10.5 1.3 -10.5 2.4 -10.5 3.4 -10 4.3 -9.5 5.5 -9.5 6.5 -9 7.1 -8 8.1 -7.5 8.9 -6.7 9 -5.6 10 -5 10.5 -4 11 -3.1 11 -1.9 11 -0.9 10.5 0.2 10.5 1.1 10.5 2.1 10 3.1 9.5 3.9 9.5 5.1 9 5.9 8.5 6.9 7.5 7.4 7 8.4 5.9 8.6 4.8 9 3.7 9 2.9 10 1.9 10 0.9 10.5 -0.2 10.5 -1.2 10.5 -2.3 10.5 -3.2 9.5 -3.9 9 -5.2 9 -6.1 8.5 -6.9 8 -7.6 7.3 -8.5 6.8 -9.5 6.3 -9.5 5 -10 4.1 -10.5 3.2 -10.5 2.1 -10.5 1.2z"/><path fill="#00f3ff" d="M167 229l-11 0.4 -11 -0.6 -10.5 -1.5 -10.5 -2.6 -10 -3.5 -10 -4.5 -9.5 -5.6 -8.5 -6.2 -8 -7.1 -7.1 -7.8 -6.3 -8.5 -5.3 -9 -4.3 -9.5 -3.3 -9.5 -2.2 -10 -1.3 -10.5 -0.1 -10.5 1 -10.5 2.1 -10.5 3.1 -10 4 -9.5 5.2 -9.5 6 -8.7 7 -8.3 7.6 -7.5 8.4 -6.7 9 -6 10 -5.2 10 -4.2 10.5 -3.2 10.5 -2.2 11 -1.2 11 -0.2 10.5 0.8 10.5 1.8 10 2.8 9.5 3.6 9.5 4.7 9 5.5 8.5 6.5 8 7.4 6.9 7.8 6.1 8.3 5.1 8.7 4 9 3.2 9.5 2.2 10 1.2 10.5 0.1 10.5 -0.8 10 -1.9 10 -2.9 10 -3.9 9.5 -4.5 8.5 -5.8 8.7 -6.8 8.3 -7.7 7.7 -8 6.7 -9 6.2 -9.5 5.3 -10 4.4 -10 3.4 -10.5 2.4 -10.5 1.4z"/><path fill="#00fbff" d="M163.5 228l-11 0.1 -11 -1 -10.5 -1.9 -10.5 -3 -10 -3.9 -9.5 -4.8 -9 -5.7 -8.1 -6.3 -7.8 -7.5 -6.6 -7.8 -5.9 -8.7 -4.9 -9 -3.9 -9.5 -2.9 -10 -1.8 -10 -0.8 -10 0.3 -10.5 1.3 -10 2.4 -10 3.5 -10 4.4 -9.5 5.4 -9 6.3 -8.5 7.2 -8 7.9 -7.1 9 -6.7 9 -5.4 10 -4.8 10.5 -3.9 10.5 -2.8 10.5 -1.7 11 -0.8 10.5 0.3 10.5 1.2 10 2.1 10 3.2 9.5 4 9.5 5.2 8.5 5.7 8 6.6 7.5 7.5 6.5 7.9 5.6 8.5 4.6 8.5 3.6 9 2.8 10 1.8 10 0.7 10 -0.2 10.5 -1.3 10 -2.3 10 -3.2 9.5 -4.2 9 -4.9 8.5 -6 8.2 -7 7.9 -7.5 7.1 -8.5 6.6 -9 5.7 -9.5 4.9 -10 4 -10 3 -10.5 2 -10.5 1.1z"/><path fill="#04fffb" d="M167.5 226.5l-11 0.5 -10.5 -0.6 -10.5 -1.5 -10.5 -2.6 -10 -3.4 -10 -4.6 -9 -5.3 -8.3 -6 -7.7 -6.8 -7 -7.7 -6.4 -8.5 -5 -8.5 -4.2 -9 -3.2 -9.5 -2.3 -10 -1.2 -10 -0.2 -10 0.9 -10 1.9 -10 3 -10 4 -9.5 4.9 -9 6.1 -9 6.7 -8 7.5 -7.4 8.2 -6.6 8.8 -5.8 9.5 -5.1 10 -4.2 10 -3.1 10.5 -2.2 11 -1.3 10.5 -0.3 10.5 0.8 10.5 1.7 10 2.7 9.5 3.5 9.5 4.6 9 5.6 8 6 7.5 6.8 7.1 7.8 6.2 8.5 5 8.5 3.9 8.5 3.1 9.5 2.3 10 1.2 10 0.1 10 -0.8 10 -1.9 10 -2.8 9.5 -3.6 9 -4.8 9 -5.5 8.2 -6.5 8 -7.5 7.5 -8 6.7 -8.5 5.9 -9.5 5.3 -9.5 4.2 -10 3.3 -10.5 2.5 -10.5 1.4z"/><path fill="#0cfff3" d="M165.5 225.5l-10.5 0.3 -10.5 -0.7 -10.5 -1.7 -10.5 -2.8 -10 -3.7 -9.5 -4.5 -9 -5.5 -8 -6.1 -7.5 -6.9 -7 -7.9 -5.7 -8 -5.1 -9 -4 -9 -3 -9.5 -2 -10 -1 -10 0.1 -10 1.2 -10 2.2 -10 3.1 -9.5 4.3 -9.5 5.2 -9 6.1 -8.5 6.7 -7.5 7.4 -7 8.5 -6.5 9 -5.7 9.5 -4.7 10 -3.9 10.5 -3 10.5 -2 10.5 -0.9 10.5 0 10.5 1 10 1.9 10 3 9.5 3.8 9 4.6 8.5 5.4 8.2 6.5 7.3 7 6.9 8 5.6 8 4.7 8.5 3.8 9 2.9 9.5 1.9 9.5 0.9 10 -0.1 10 -1 9.5 -2.1 10 -3.1 9.5 -3.9 9 -4.8 8.5 -5.7 8 -6.5 7.6 -7.5 7.2 -8 6.4 -9 6 -9 4.7 -10 4.2 -10 3.1 -10 2.1 -10.5 1.2z"/><path fill="#14ffeb" d="M163 224.5l-10.5 0 -10.5 -1 -10.5 -1.9 -10 -2.9 -10 -3.9 -9 -4.7 -8.5 -5.4 -8 -6.3 -7.5 -7.2 -6.5 -7.7 -5.7 -8.5 -4.6 -8.5 -3.8 -9.5 -2.8 -9.5 -1.6 -9.5 -0.7 -10 0.3 -10 1.5 -10 2.3 -9.5 3.5 -9.5 4.3 -9 5.5 -9 6.3 -8.3 7 -7.5 8 -7.1 8.5 -6.1 9 -5.2 9.5 -4.5 10 -3.5 10.5 -2.7 10.5 -1.6 10.5 -0.7 10.5 0.4 10 1.2 10 2.2 10 3.3 9 3.9 9 4.9 8.5 5.8 7.8 6.5 6.9 7 6.3 7.8 5.4 8.2 4.4 8.5 3.5 9 2.6 9.5 1.5 9.5 0.7 10 -0.4 10 -1.4 9.5 -2.3 9.5 -3.2 9 -4 8.5 -5.1 8.5 -5.9 8 -6.8 7.5 -7.5 6.8 -8.5 6.4 -9 5.6 -9 4.4 -9.5 3.6 -10 2.9 -10 1.8 -10.5 1z"/><path fill="#1cffe3" d="M159 223.5l-10.5 -0.4 -10.5 -1.4 -10.5 -2.4 -9.5 -3.1 -9.5 -4.2 -9 -5 -8.5 -6 -7.5 -6.4 -6.8 -7.1 -6.2 -8 -5.2 -8.5 -4.3 -9 -3.4 -9.5 -2.2 -9.5 -1.3 -9.5 -0.2 -10 0.9 -10 1.8 -9.5 2.8 -9.5 4 -9.5 4.9 -9 5.7 -8.4 6.5 -7.7 7.5 -7.3 8 -6.5 9 -5.8 9.5 -5 9.5 -3.8 10 -3.1 10.5 -2.1 10.5 -1.2 10.5 -0.1 10.5 0.8 10 1.8 9.5 2.6 9.5 3.6 9 4.4 8.5 5.2 8 6 7.5 6.9 6.5 7.3 5.8 7.9 4.7 8 3.9 8.5 3 9 2.1 9.5 1.2 9.5 0.2 10 -0.8 9.5 -1.8 9.5 -2.8 9.5 -3.7 9 -4.6 8.5 -5.4 8 -6.2 7.5 -6.9 7 -7.7 6.4 -8.5 5.8 -9 5.1 -9 4 -9.5 3.2 -10 2.4 -10 1.5 -10.5 0.6z"/><path fill="#24ffdb" d="M167.5 222l-10.5 0.4 -10.5 -0.6 -10 -1.5 -10 -2.4 -9.5 -3.3 -9.5 -4.3 -8.5 -5 -8.1 -5.8 -7.4 -6.5 -7 -7.5 -5.6 -7.5 -5.2 -8.5 -4 -8.5 -3.3 -9.5 -2.1 -9.5 -1.2 -9.5 -0.1 -9.5 0.9 -10 1.9 -9.5 2.9 -9.5 3.8 -9 4.7 -8.5 5.8 -8.4 6.5 -7.7 7.1 -6.9 8.1 -6.5 8.8 -5.7 9 -4.8 9.5 -3.9 10 -3 10 -2.1 10.5 -1.2 10.5 -0.2 10 0.7 10 1.6 9.5 2.5 9.5 3.5 9 4.3 8.5 5.1 8 5.9 7.5 6.8 6.5 7.1 5.9 7.9 4.8 8 4.1 9 3 9 2.1 9.5 1.2 9.5 0.1 10 -0.9 9.5 -1.9 9.5 -2.7 9 -3.7 9 -4.7 8.5 -5.5 8 -6.3 7.5 -7 6.9 -8 6.5 -8.5 5.7 -9 4.8 -9 3.9 -10 3.2 -10 2.2 -10 1.3z"/><path fill="#2cffd3" d="M167 221l-10.5 0.3 -10 -0.6 -10 -1.5 -10 -2.5 -9.5 -3.3 -9 -4.1 -9 -5.3 -8 -5.8 -7.5 -6.7 -6.4 -7 -6 -8 -4.7 -8 -4.1 -9 -3 -9 -2.1 -9.5 -1.1 -9.5 0 -10 1 -9.5 2 -9.5 2.9 -9 4 -9 4.8 -8.5 5.6 -8 6.6 -7.7 7.2 -6.8 7.8 -6.1 8.5 -5.5 9 -4.6 9.5 -3.9 10 -3 10 -2 10.5 -1.1 10.5 -0.1 10 0.8 10 1.7 9.5 2.6 9.5 3.6 9 4.4 8 4.9 8 6 7 6.4 6.7 7.4 5.5 7.5 4.8 8.3 3.9 8.7 3 9 1.9 9 1.1 9.5 0.1 9.5 -0.9 9.5 -1.8 9.5 -2.8 9 -3.6 8.5 -4.6 8.5 -5.5 8 -6.3 7.4 -7 6.9 -8 6.4 -8.5 5.6 -9 4.8 -9.5 4 -9.5 3 -10 2.2 -10 1.2z"/><path fill="#34ffcb" d="M166.5 220l-10.5 0.3 -10 -0.7 -10 -1.6 -10 -2.5 -9.5 -3.5 -9 -4.2 -8.5 -5.1 -7.8 -5.7 -7.2 -6.5 -6.4 -7 -5.9 -8 -4.6 -8 -3.9 -8.5 -3 -9 -2.1 -9.5 -1 -9.5 0 -9.5 1 -9.5 2.1 -9.5 2.9 -9 4 -9 4.9 -8.5 5.7 -8 6.6 -7.5 7.2 -6.7 8 -6.2 8.5 -5.3 9 -4.5 9.5 -3.8 10 -2.8 10 -1.9 10 -1 10 -0.1 10 0.9 10 1.7 9.5 2.7 9 3.4 9 4.4 8 4.9 8 6.1 7 6.4 6.5 7.3 5.8 8 4.5 8 3.8 8.5 2.8 9 1.9 9 1 9.5 0 9.5 -1 9.5 -1.9 9 -2.8 9 -3.7 8.5 -4.8 8.5 -5.3 7.5 -6.3 7.3 -7 6.8 -8 6.3 -8.5 5.5 -8.5 4.5 -9.5 3.9 -9.5 2.9 -10 2.1 -10 1.2z"/><path fill="#3cffc3" d="M166 219l-10 0.2 -10 -0.6 -10 -1.6 -10 -2.6 -9.5 -3.5 -9 -4.3 -8 -4.8 -8 -5.9 -7.1 -6.4 -6.4 -7.2 -5.7 -7.8 -4.6 -8 -3.8 -8.5 -3 -9 -1.9 -9 -0.9 -9.5 0 -9.5 1.1 -9.5 2.1 -9.5 3 -9 3.9 -8.5 5 -8.5 5.8 -8 6.5 -7.3 7.5 -6.9 8 -6 8.5 -5.2 9 -4.4 9.5 -3.6 9.5 -2.6 10 -1.9 10 -0.8 10 0 10 0.9 9.5 1.7 9.5 2.7 9 3.5 9 4.5 8.5 5.4 7.5 5.8 7 6.6 6.2 7.1 5.3 7.5 4.5 8 3.7 8.5 2.7 8.5 1.9 9 0.9 9.5 0 9.5 -1 9 -1.9 9 -2.9 9 -3.9 8.7 -4.8 8.3 -5.3 7.5 -6.4 7.3 -7 6.6 -8 6.2 -8 5.1 -9 4.6 -9 3.7 -9.5 2.9 -10 2 -10 1.1z"/><path fill="#44ffbb" d="M166.5 218l-10 0.3 -10 -0.7 -10 -1.6 -9.5 -2.4 -9.5 -3.4 -8.5 -4 -8.5 -4.9 -8 -5.9 -7.1 -6.4 -6.4 -7 -5.5 -7.5 -4.7 -8 -3.9 -8.5 -3 -9 -1.9 -9 -1 -9.5 0.1 -9.5 1.1 -9.5 2 -9 3 -9 4.1 -9 4.7 -8 5.5 -7.6 6.5 -7.3 7.1 -6.6 7.9 -6 8.5 -5.2 9 -4.5 9 -3.5 9.5 -2.7 10 -1.9 10 -0.9 10 -0.1 10 0.9 9.5 1.7 9.5 2.6 9 3.5 9 4.4 8 5 7.5 5.7 7 6.4 6.3 7.1 5.4 7.5 4.6 8 3.5 8 2.9 9 1.9 9 1 9.5 0 9 -1 9 -1.9 9 -2.9 9 -3.7 8.5 -4.6 8 -5.3 7.5 -6.2 7.2 -7 6.6 -7.5 5.9 -8.5 5.5 -8.5 4.4 -9 3.7 -9.5 3 -10 2.1 -10 1.1z"/><path fill="#4cffb3" d="M167 217l-10 0.3 -10 -0.6 -10 -1.6 -9.5 -2.4 -9.5 -3.4 -8.5 -3.9 -8.5 -5 -7.5 -5.5 -7.2 -6.4 -6.4 -7 -5.6 -7.5 -4.7 -8 -3.9 -8.5 -2.8 -8.5 -1.9 -9 -1 -9 0 -9 1 -9.5 1.9 -9 2.9 -9 3.8 -8.5 4.5 -8 5.7 -8 6.2 -7 7 -6.6 8 -6.2 8 -5 9 -4.6 9 -3.5 9.5 -2.8 10 -2 10 -1 10 -0.1 10 0.8 9.5 1.6 9.5 2.6 9 3.4 8.5 4.1 8.5 5.2 7.4 5.6 7.1 6.5 6 6.7 5.3 7.3 4.7 8 3.8 8.5 2.8 8.5 1.9 9 1 9 0 9 -0.9 9 -1.9 9 -2.9 9 -3.7 8.5 -4.6 8 -5.3 7.5 -6.1 7 -7.1 6.8 -7.5 5.8 -8 5.1 -8.5 4.5 -9 3.7 -9.5 2.9 -9.5 2 -10 1.2z"/><path fill="#54ffab" d="M167.5 216l-10 0.3 -10 -0.5 -9.5 -1.5 -9.5 -2.3 -9 -3.1 -9 -4.1 -8.5 -4.9 -7.5 -5.4 -7 -6.1 -6.5 -7 -5.5 -7.4 -4.8 -8 -4 -8.5 -2.8 -8.5 -1.9 -8.5 -1.1 -9 -0.1 -9 0.9 -9 1.8 -9 2.9 -9 3.7 -8.5 4.8 -8.5 5.3 -7.5 6.3 -7.2 7 -6.6 7.5 -5.8 8 -5.1 9 -4.6 9 -3.6 9.5 -2.9 9.5 -1.9 10 -1 10 -0.2 9.5 0.7 9.5 1.6 9.5 2.4 9 3.3 8.5 4 8.5 5.1 7.5 5.5 7 6.3 6.3 7 5.5 7.5 4.4 7.5 3.7 8 2.9 8.5 2 9 1 9 0.1 9 -0.9 9 -1.8 9 -2.7 8.5 -3.6 8.5 -4.5 8 -5.3 7.5 -6 7 -7.1 6.8 -7.5 5.8 -8 5.2 -8.5 4.4 -9 3.7 -9 2.8 -9.5 2.1 -10 1.2z"/><path fill="#5cffa3" d="M168.5 215l-10 0.4 -10 -0.5 -9.5 -1.4 -9.5 -2.2 -9 -3 -9 -4.1 -8 -4.5 -7.5 -5.2 -7 -6 -6.2 -6.5 -5.8 -7.4 -4.8 -7.6 -3.9 -8 -3 -8.5 -2.2 -9 -1.2 -9 -0.2 -9 0.8 -9 1.7 -9 2.6 -8.5 3.6 -8.5 4.3 -8 5.3 -7.7 6.1 -7.3 6.9 -6.7 7.5 -5.9 8 -5.3 8.5 -4.5 9 -3.7 9 -2.8 9.5 -2.1 10 -1.2 10 -0.3 9.5 0.5 9.5 1.5 9.5 2.3 9 3.1 8.5 3.9 8.5 4.9 7.5 5.3 7 6.1 6.5 6.9 5.3 7 4.7 7.6 3.8 7.9 3 8.5 2.2 9 1.2 9 0.2 9 -0.7 8.5 -1.7 9 -2.6 8.5 -3.5 8.5 -4.4 8 -5.1 7.5 -5.9 7 -6.5 6.4 -7.5 6.1 -8 5.3 -8.5 4.6 -9 3.8 -9.5 3 -9.5 2.1 -9.5 1.2z"/><path fill="#64ff9b" d="M161 214.5l-10 -0.3 -9.5 -1.2 -9.5 -2 -9 -2.8 -9 -3.8 -8.5 -4.5 -8 -5.4 -7 -5.8 -6.5 -6.7 -5.6 -7 -5.1 -8 -4 -8 -3.1 -8.5 -2.1 -8.5 -1.3 -9 -0.2 -9 0.7 -9 1.7 -9 2.7 -9 3.6 -8.5 4.5 -8 5.2 -7.6 6 -7 7 -6.7 7.5 -6 8 -5.1 8.5 -4.4 9.5 -3.8 9.5 -2.9 9.5 -1.9 9.5 -1 10 -0.2 9.5 0.7 9.5 1.6 9.5 2.4 8.5 3.1 8.5 4 8 4.7 7.5 5.5 6.5 5.7 6 6.4 5.5 7.2 4.5 7.3 3.8 8 3.1 8.5 2 8.5 1.1 8.5 0.3 9 -0.7 9 -1.6 8.5 -2.6 8.5 -3.3 8 -4.2 8 -5.1 7.5 -5.8 7 -6.5 6.4 -7 5.8 -7.5 5.1 -8 4.4 -9 4 -9 3.1 -9.5 2.2 -9.5 1.4 -9.5 0.6z"/><path fill="#6cff93" d="M164.5 213.5l-10 0 -9.5 -0.8 -9.5 -1.8 -9 -2.5 -9 -3.4 -8.5 -4.2 -8 -4.9 -7 -5.4 -6.5 -6 -6.1 -7 -5.3 -7.5 -4.5 -8 -3.3 -8 -2.6 -8.5 -1.6 -8.5 -0.7 -9 0.3 -9 1.2 -8.5 2.2 -9 3.1 -8.5 3.9 -8 5 -8 5.8 -7.5 6.2 -6.5 6.9 -6 8 -5.7 8.5 -4.9 8.5 -3.9 9 -3.2 9.5 -2.4 9.5 -1.5 10 -0.6 9.5 0.2 9.5 1.1 9 1.9 9 2.7 8.5 3.4 8.5 4.4 8 5.2 7 5.6 6.5 6.4 5.7 6.8 5.1 7.5 4 7.5 3.3 8 2.5 8.5 1.5 8.5 0.6 8.5 -0.3 9 -1.2 8.5 -2.1 8.5 -2.9 8 -3.8 8 -4.6 7.5 -5.6 7.5 -6.2 6.6 -7 6.2 -7.5 5.5 -8 4.7 -8.5 4.1 -9 3.4 -9 2.4 -9.5 1.7 -9.5 0.9z"/><path fill="#74ff8b" d="M167 212.5l-9.5 0.2 -9.5 -0.6 -9.5 -1.4 -9.5 -2.4 -8.5 -3 -8.5 -3.9 -8 -4.6 -7.5 -5.4 -6.8 -5.9 -6.2 -6.7 -5.4 -7.3 -4.5 -7.5 -3.7 -8 -2.7 -8 -1.9 -8.5 -1 -9 0 -8.5 1 -9 1.8 -8.5 2.8 -8.5 3.6 -8 4.6 -8 5.4 -7.5 6 -6.7 6.8 -6.3 7.2 -5.5 8 -5 8.5 -4.3 9 -3.5 9 -2.6 9.5 -1.8 9.5 -1 9.5 -0.1 9.5 0.7 9.5 1.6 9 2.4 9 3.3 8.5 4 7.5 4.5 7.5 5.5 6.9 6.3 5.9 6.5 5.2 7 4.4 7.5 3.6 8 2.8 8.5 1.8 8.5 0.9 8.5 0.1 8.5 -0.9 8.5 -1.8 8.5 -2.8 8.5 -3.6 8 -4.3 7.5 -5.2 7.3 -6 6.8 -6.5 6.1 -7.5 5.8 -8 5.1 -8.5 4.3 -9 3.5 -9 2.7 -9 1.8 -9.5 1.1z"/><path fill="#7cff83" d="M169 211.5l-9.5 0.4 -9.5 -0.4 -9.5 -1.3 -9 -2.1 -9 -2.9 -8.5 -3.7 -8 -4.4 -7.5 -5.2 -7 -5.9 -6 -6.2 -5.4 -6.8 -4.7 -7.5 -4 -8 -2.9 -8 -2.1 -8.5 -1.1 -8.5 -0.3 -8.5 0.7 -8.5 1.6 -8.5 2.5 -8.5 3.3 -8 4.4 -8 5.1 -7.5 5.9 -7 6.5 -6.3 7 -5.6 8 -5.3 8 -4.2 8.5 -3.6 9 -2.9 9.5 -2.1 9.5 -1.2 9.5 -0.3 9 0.4 9.5 1.3 9 2.1 9 3 8.5 3.7 8 4.5 7.5 5.2 6.9 5.8 6.1 6.3 5.5 6.9 4.6 7.3 4 8 2.9 8 2.1 8.5 1.2 8.5 0.3 8.5 -0.6 8.5 -1.6 8.5 -2.5 8.5 -3.3 8 -4.3 8 -5.2 7.5 -5.6 6.6 -6.5 6.3 -7 5.7 -8 5.2 -8 4.3 -9 3.8 -9 2.8 -9 2 -9.5 1.3z"/><path fill="#83ff7c" d="M163.5 211l-9.5 -0.1 -9.5 -0.9 -9 -1.7 -9 -2.6 -8.5 -3.3 -8.5 -4.3 -8 -5 -7 -5.5 -6.3 -6.1 -5.7 -6.7 -5 -7.3 -4.1 -7.5 -3.2 -8 -2.5 -8.5 -1.4 -8.5 -0.5 -8.5 0.5 -9 1.3 -8.5 2.4 -8.5 3.1 -8 4.1 -8 4.8 -7.3 5.8 -7.2 6.2 -6.3 7 -5.8 7.5 -5.2 8 -4.5 9 -3.9 9 -3 9.5 -2.2 9.5 -1.3 9.5 -0.5 9.5 0.4 9 1.2 9 2 9 2.9 8.5 3.6 8 4.3 7.5 5.1 6.5 5.3 6.4 6.4 5.3 6.5 4.6 7 3.9 7.5 3.2 8 2.2 8 1.5 8.5 0.4 8.5 -0.4 8.5 -1.3 8.5 -2.2 8 -3 8 -3.8 7.5 -4.8 7.5 -5.5 7 -6 6.2 -6.5 5.6 -7.5 5.3 -8 4.7 -8.5 3.9 -9 3.2 -9 2.3 -9 1.6 -9.5 0.7z"/><path fill="#8bff74" d="M167 210l-9.5 0.2 -9 -0.6 -9.5 -1.4 -9 -2.3 -9 -3.1 -8 -3.7 -7.5 -4.3 -7.5 -5.4 -6.5 -5.7 -6 -6.4 -5.1 -6.8 -4.6 -7.5 -3.7 -8 -2.7 -8 -1.7 -8 -1 -8.5 0 -8.5 0.9 -8.5 1.8 -8.5 2.7 -8 3.5 -8 4.4 -7.5 5.4 -7.5 5.8 -6.5 6.8 -6.2 7.5 -5.7 8 -4.9 8 -3.9 8.5 -3.3 9 -2.5 9 -1.7 9.5 -1 9.5 -0.1 9 0.7 9 1.5 9 2.3 8.5 3.1 8.5 3.9 7.5 4.5 7.5 5.4 6.5 5.8 6 6.6 5 6.7 4.4 7.3 3.6 8 2.7 8 1.7 8 1 8.5 0 8.5 -0.8 8 -1.8 8.5 -2.7 8 -3.6 8 -4.3 7.5 -5.1 7 -5.8 6.5 -6.8 6.3 -7 5.3 -7.5 4.7 -8.5 4.3 -8.5 3.4 -9 2.6 -9 1.9 -9.5 1z"/><path fill="#93ff6c" d="M169.5 209l-9.5 0.4 -9 -0.3 -9 -1.2 -9 -2 -8.5 -2.7 -8.5 -3.5 -8 -4.4 -7.2 -4.8 -6.8 -5.5 -6 -6.1 -5.5 -6.7 -4.7 -7.2 -3.8 -7.5 -2.9 -7.5 -2.1 -8 -1.3 -8.5 -0.4 -8.5 0.6 -8.5 1.5 -8.5 2.4 -8 3.2 -8 4 -7.5 4.7 -7 5.8 -7 6 -6 7 -5.8 7.5 -5 8 -4.4 8.5 -3.7 8.5 -2.8 9 -2.1 9.5 -1.3 9.5 -0.5 9 0.4 9.5 1.2 9 2 8.5 2.7 8.5 3.6 8 4.3 7.5 5 7 5.8 6 6.1 5.2 6.5 4.6 7 3.8 7.5 3.1 8 2.1 8 1.3 8.5 0.4 8.5 -0.6 8 -1.5 8.5 -2.3 8 -3.2 8 -4 7.5 -4.9 7.2 -5.7 6.8 -6.3 6.2 -7 5.7 -7.5 5 -8 4.3 -8.5 3.6 -9 2.9 -9 2 -9.5 1.3z"/><path fill="#9bff64" d="M165.5 208.5l-9.5 0.1 -9 -0.8 -9 -1.5 -9 -2.4 -8.5 -3.1 -8.5 -4.1 -7.5 -4.5 -6.9 -5.2 -6.6 -6 -5.5 -6.2 -4.9 -6.8 -4.3 -7.5 -3.3 -7.5 -2.5 -8 -1.6 -8 -0.8 -8.5 0.2 -8.5 1.1 -8 2 -8.5 2.9 -8 3.6 -7.5 4.6 -7.5 5.3 -7 6.2 -6.6 6.5 -5.7 7.5 -5.4 8 -4.6 8.5 -3.9 8.5 -3 9 -2.4 9 -1.4 9.5 -0.7 9.5 0.1 9 1 9 1.7 8.5 2.5 8 3.1 8 4 7.5 4.6 7 5.4 6.3 5.8 5.6 6.5 5 7 3.9 7 3.3 7.5 2.5 8 1.6 8 0.7 8.5 -0.2 8.5 -1.1 8 -1.9 8 -2.9 8 -3.6 7.5 -4.6 7.5 -5.1 6.6 -6 6.4 -6.5 5.8 -7 5 -7.5 4.5 -8.5 4.1 -8.5 3.2 -9 2.4 -9 1.7 -9 0.8z"/><path fill="#a3ff5c" d="M169 207.5l-9.5 0.4 -9 -0.5 -9 -1.2 -9 -2.1 -8.5 -2.7 -8 -3.5 -7.5 -4.1 -7.5 -5.1 -6.5 -5.4 -6 -6.1 -5.3 -6.7 -4.5 -7 -3.7 -7.5 -2.8 -7.5 -2 -8 -1.1 -8 -0.3 -8 0.7 -8.5 1.4 -8 2.4 -8 3.4 -8 4.1 -7.5 4.8 -7 5.4 -6.5 6.2 -6 6.8 -5.5 7.5 -4.9 8 -4.3 8.5 -3.5 8.5 -2.7 9 -2 9 -1.2 9.5 -0.4 9 0.4 9 1.2 9 2.1 8.5 2.7 8.5 3.7 7.5 4.1 7.5 5.1 6.5 5.4 6 6.1 5.3 6.7 4.5 7 3.8 7.5 2.8 7.5 2 8 1.2 8.5 0.3 8.5 -0.7 8 -1.5 8 -2.4 8 -3.2 7.5 -4.1 7.5 -4.8 7 -5.7 6.6 -6.5 6.2 -7 5.5 -7.5 4.9 -8 4.1 -8.5 3.5 -8.5 2.6 -9 2 -9 1.1z"/><path fill="#abff54" d="M165.5 207l-9.5 0 -9 -0.7 -9 -1.6 -8.5 -2.3 -8.5 -3.1 -7.5 -3.5 -7.5 -4.5 -7.2 -5.3 -6.3 -5.7 -5.7 -6.3 -5.1 -7 -4 -7 -3.3 -7.5 -2.6 -8 -1.5 -8 -0.7 -8 0.2 -8.5 1 -8 2 -8 2.8 -8 3.7 -7.5 4.6 -7.5 5.1 -6.6 6 -6.4 6.5 -5.6 7.5 -5.4 8 -4.6 8 -3.7 8.5 -3 9 -2.3 9 -1.4 9 -0.7 9 0.1 9 0.9 9 1.7 8.5 2.4 8.5 3.3 8 4 7.5 4.7 6.5 5 6 5.6 5.7 6.5 4.8 6.8 4 7.1 3.3 7.6 2.3 7.5 1.6 8 0.7 8 -0.2 8 -1 8 -2 8 -2.8 8 -3.7 7.5 -4.3 7 -5 6.5 -5.9 6.3 -6.5 5.7 -7 5.1 -8 4.7 -8 3.8 -8.5 3.1 -8.5 2.3 -9 1.7 -9 0.8z"/><path fill="#b3ff4c" d="M169 206l-9.5 0.4 -9 -0.5 -9 -1.2 -8.5 -2 -8.5 -2.8 -8 -3.5 -7.5 -4.1 -7 -4.7 -6.5 -5.4 -5.6 -5.7 -5.3 -6.5 -4.5 -7 -3.7 -7.5 -2.8 -7.5 -2 -8 -1.1 -8 -0.3 -8 0.7 -8 1.5 -8 2.4 -8 3.2 -7.5 4.1 -7.5 4.9 -7 5.5 -6.4 6 -5.8 7 -5.5 7 -4.6 8 -4.2 8 -3.3 9 -2.8 8.5 -1.9 9 -1.1 9 -0.4 9 0.4 9 1.2 9 2.1 8.5 2.7 8 3.5 7.5 4.1 7 4.7 6.5 5.3 6 6 5.3 6.5 4.5 7 3.8 7.5 2.8 7.5 2.1 8 1.1 8 0.3 8 -0.6 8 -1.5 8 -2.4 8 -3.2 7.5 -3.9 7 -4.8 7 -5.6 6.5 -6.2 6 -6.7 5.3 -7.5 4.8 -8 4.2 -8.5 3.5 -8.5 2.6 -9 2 -9 1.1z"/><path fill="#bbff44" d="M166 205.5l-9 0.1 -9 -0.7 -9 -1.5 -8.5 -2.2 -8 -2.9 -8 -3.7 -7.5 -4.4 -7 -5.1 -6.3 -5.6 -5.7 -6.3 -4.9 -6.7 -4.1 -7 -3.3 -7.5 -2.4 -7.5 -1.6 -8 -0.8 -8 0.2 -8.5 1.1 -8 2 -8 2.7 -7.5 3.7 -7.5 4.3 -7 5.1 -6.6 6 -6.3 6.5 -5.7 7 -5 7.5 -4.4 8 -3.7 8.5 -3 8.5 -2.3 9 -1.5 9 -0.7 9 0 9 0.9 8.5 1.5 8.5 2.4 8 3 8 3.8 7 4.2 7 5.2 6.3 5.7 5.4 6 4.8 6.5 4.1 7 3.4 7.5 2.4 7.5 1.7 8 0.7 8 -0.1 8 -1 8 -1.9 8 -2.7 7.5 -3.6 7.5 -4.3 7 -5 6.5 -5.7 6.1 -6.5 5.7 -7 5.1 -7.5 4.4 -8 3.8 -8.5 3.2 -8.5 2.3 -8.5 1.5 -9 0.9z"/><path fill="#c3ff3c" d="M170 204.5l-9 0.4 -8.5 -0.3 -9 -1.1 -8.5 -1.8 -8.5 -2.6 -8 -3.3 -7.5 -4 -7 -4.5 -6.5 -5.2 -5.7 -5.6 -5.3 -6.4 -4.5 -6.6 -3.7 -7 -3 -7.5 -2 -7.5 -1.3 -8 -0.4 -8 0.5 -8 1.3 -8 2.2 -7.5 2.9 -7.5 3.7 -7 4.6 -7 5.3 -6.5 5.9 -5.9 6.5 -5.3 7 -4.8 7.5 -4.2 8 -3.5 8.5 -2.9 8.5 -2 9 -1.4 9 -0.6 9 0.3 9 1 9 1.9 8.5 2.5 8 3.3 7.5 3.9 7.5 4.8 6.5 5.2 6 5.8 5.3 6.4 4.4 6.5 4 7.5 3 7.5 2 7.5 1.3 8 0.4 8 -0.5 8 -1.4 8 -2.2 7.5 -3.1 7.5 -4 7.5 -4.7 6.8 -5.3 6.2 -6.1 6 -6.6 5.2 -7.5 5 -7.5 3.9 -8 3.4 -8.5 2.8 -9 2 -9 1.2z"/><path fill="#cbff34" d="M167.5 204l-9 0.2 -8.5 -0.5 -9 -1.4 -8.5 -2 -8 -2.7 -8 -3.6 -7.5 -4.2 -6.8 -4.8 -6.4 -5.5 -5.7 -6 -5 -6.5 -4 -6.5 -3.4 -7 -2.6 -7.5 -1.8 -7.5 -0.9 -8 -0.1 -7.5 0.8 -8 1.6 -8 2.5 -7.5 3.3 -7.5 4 -7 5 -6.9 5.5 -6.1 6 -5.6 7 -5.3 7 -4.4 8 -4 8 -3.1 8.5 -2.5 9 -1.8 9 -1 9 -0.1 8.5 0.5 9 1.4 8.5 2.1 8.5 3 7.5 3.4 7.5 4.2 7 5 6.5 5.6 5.5 5.8 4.8 6.3 4.3 7 3.3 7 2.7 7.5 1.7 7.5 1 8 0 8 -0.8 7.5 -1.7 8 -2.5 7.5 -3.4 7.5 -4.1 7 -4.8 6.4 -5.5 6.1 -6 5.5 -7 5.3 -7.5 4.6 -8 3.9 -8 3.1 -8.5 2.4 -9 1.8 -8.5 0.9z"/><path fill="#d3ff2c" d="M163.5 203.5l-9 -0.1 -9 -1 -8.5 -1.7 -8.5 -2.4 -8 -3.2 -7.5 -3.7 -7.5 -4.8 -6.5 -5.1 -6 -5.7 -5.3 -6.3 -4.4 -6.5 -3.7 -7 -3 -7.5 -2.1 -7.5 -1.3 -8 -0.3 -8 0.5 -8 1.5 -8 2.2 -7.5 3.1 -7.5 3.8 -7 4.9 -7 5.1 -6 6.2 -6 6.8 -5.4 7 -4.5 8 -4.2 8 -3.2 8.5 -2.6 8.5 -1.9 9 -1.1 9 -0.3 9 0.5 8.5 1.2 8.5 2 8 2.6 7.5 3.2 7.5 4 7 4.7 6.2 5 5.8 5.8 5 6.1 4.4 6.6 3.6 7 2.8 7 2 7.5 1.2 7.5 0.4 8 -0.4 7.5 -1.3 7.5 -2.1 7.5 -3 7.5 -3.8 7 -4.3 6.5 -5 6.1 -6 6 -6.5 5.3 -7 4.7 -7.5 4.1 -8 3.5 -8 2.8 -8.5 2 -8.5 1.4 -9 0.6z"/><path fill="#dbff24" d="M169.5 202.5l-9 0.4 -8.5 -0.4 -8.5 -1.1 -8.5 -1.9 -8.5 -2.7 -7.5 -3.1 -7.5 -4 -6.5 -4.3 -6.5 -5.2 -5.5 -5.4 -5.2 -6.3 -4.3 -6.5 -3.7 -7 -2.7 -7 -2.1 -7.5 -1.1 -7.5 -0.4 -7.5 0.5 -8 1.4 -8 2.2 -7.5 2.9 -7 3.7 -7 4.7 -7 5.1 -6.1 6 -5.9 6.5 -5.2 7 -4.6 7.5 -4.1 8 -3.3 8 -2.6 8.5 -2 8.5 -1.2 8.5 -0.5 9 0.3 9 1 8.5 1.8 8.5 2.6 8 3.3 7.5 3.9 7 4.6 6.5 5.2 5.9 5.8 5 6 4.4 6.5 3.7 7 2.7 7 2.1 7.5 1.3 8 0.3 8 -0.5 7.5 -1.4 8 -2.3 7.5 -2.9 7 -3.9 7 -4.4 6.5 -5.6 6.5 -5.9 5.6 -6.5 5.2 -7 4.5 -8 4.2 -8 3.3 -8.5 2.7 -8.5 1.8 -9 1.2z"/><path fill="#e3ff1c" d="M167 202l-9 0.2 -8.5 -0.6 -8.5 -1.4 -8.5 -2.1 -8 -2.8 -7.5 -3.3 -7.5 -4.3 -6.5 -4.6 -6 -5.2 -5.6 -5.9 -4.9 -6.4 -4 -6.6 -3.3 -7 -2.5 -7.5 -1.7 -7.5 -0.8 -7.5 0.1 -8 0.8 -7.5 1.7 -7.5 2.6 -7.5 3.3 -7 4.1 -7 4.9 -6.5 5.5 -6 6.2 -5.5 6.6 -4.8 7.5 -4.5 7.5 -3.6 8 -3 8.5 -2.4 8.5 -1.6 8.5 -0.8 9 -0.1 8.5 0.7 8.5 1.3 8.5 2.2 8 2.8 7.5 3.5 7 4 7 4.9 6 5.2 5.5 5.8 4.9 6.4 4 6.5 3.3 7 2.6 7.5 1.7 7.5 0.9 7.5 0 8 -0.9 7.5 -1.7 7.5 -2.6 7.5 -3.2 7 -4.3 7 -4.7 6.2 -5.5 6 -6 5.3 -7 5.1 -7.5 4.5 -7.5 3.6 -8 3 -8.5 2.4 -8.5 1.6 -8.5 0.8z"/><path fill="#ebff14" d="M163.5 201.5l-9 -0.2 -8.5 -0.9 -8.5 -1.6 -8.5 -2.5 -8 -3.2 -7.5 -3.8 -7 -4.4 -6.2 -4.9 -5.8 -5.5 -5.1 -6 -4.4 -6.5 -3.8 -7 -2.8 -7 -2.1 -7.5 -1.2 -7.5 -0.4 -8 0.6 -8 1.4 -7.5 2.2 -7.5 2.9 -7 3.8 -7 4.5 -6.5 5.4 -6.3 6 -5.8 6.5 -5.1 7 -4.5 8 -4.1 8 -3.3 8.5 -2.5 8.5 -1.8 8.5 -1 9 -0.3 8.5 0.5 8.5 1.2 8 1.8 8 2.6 7.5 3.2 7.5 4 7 4.7 6 4.9 5.5 5.4 5 6.1 4.2 6.3 3.6 7 2.8 7 2 7.5 1.1 7.5 0.3 7.5 -0.5 7.5 -1.4 7.5 -2.2 7.5 -3 7 -3.5 6.5 -4.5 6.5 -5.1 6 -5.8 5.7 -6.5 5.2 -6.5 4.3 -7.5 4 -7.5 3.2 -8 2.7 -8.5 2.1 -8.5 1.2 -8.5 0.6z"/><path fill="#f3ff0c" d="M170 200.5l-8.5 0.4 -8.5 -0.3 -8.5 -1.1 -8.5 -1.8 -8 -2.4 -7.5 -3.1 -7.5 -3.9 -6.5 -4.2 -6.4 -5.1 -5.6 -5.4 -5 -6 -4.1 -6.1 -3.5 -6.5 -2.8 -7 -2 -7 -1.3 -7.5 -0.5 -7.5 0.4 -7.5 1.2 -7.5 2.1 -7.5 2.8 -7 3.7 -7 4.3 -6.5 4.9 -6 5.8 -5.9 6 -4.9 6.5 -4.5 7.5 -4.1 7.5 -3.4 8.5 -2.8 8 -2 8.5 -1.3 9 -0.6 8.5 0.2 8.5 0.9 8.5 1.6 8.5 2.5 7.5 2.9 7.5 3.7 7 4.4 6.5 5 5.7 5.3 5.2 6 4.6 6.5 3.8 7 2.9 7 2.2 7.5 1.2 7.5 0.5 7.5 -0.5 7.5 -1.2 7.5 -2.2 7.5 -2.8 7 -3.9 7.2 -4.5 6.5 -5.4 6.3 -6.1 5.8 -6.5 5.1 -7 4.5 -7.5 3.9 -8 3.2 -8 2.5 -8.5 1.9 -8.5 1.1z"/><path fill="#fbff04" d="M168 200l-8.5 0.3 -8.5 -0.5 -8.5 -1.3 -8 -1.9 -8 -2.6 -7.5 -3.2 -7.5 -4.2 -6.5 -4.4 -6 -5 -5.5 -5.7 -4.8 -6 -4.1 -6.5 -3.4 -7 -2.5 -7 -1.7 -7 -0.9 -7.5 -0.1 -7.5 0.7 -7.5 1.6 -7.5 2.3 -7 3.1 -7 4 -7 4.8 -6.5 5 -5.6 6 -5.5 6.5 -5 7 -4.3 7.5 -3.7 8 -3.1 8 -2.4 8 -1.6 8.5 -0.9 9 -0.3 8.5 0.5 8.5 1.3 8 1.9 8 2.6 7.5 3.2 7.5 4.2 6.5 4.4 6 5 5.8 5.8 4.7 6 4.2 6.5 3.5 7 2.5 7 1.7 7 1 7.5 0.2 7.5 -0.7 7.5 -1.6 7.5 -2.3 7 -3.1 7 -3.9 6.6 -4.7 6.4 -5.4 6 -5.9 5.4 -6.5 4.9 -7 4.3 -7.5 3.7 -8 3.1 -8 2.4 -9 1.8 -8.5 0.9z"/><path fill="#fffb00" d="M166 199.5l-9 0.1 -8.5 -0.8 -8.5 -1.4 -8 -2.2 -7.5 -2.7 -7.5 -3.4 -7 -4.2 -6.5 -4.7 -5.9 -5.2 -5.1 -5.6 -4.7 -6.4 -3.8 -6.5 -3.1 -7 -2.3 -7 -1.4 -7 -0.7 -7.5 0.2 -7.5 1 -7.5 1.9 -7.5 2.6 -7 3.5 -7 4.1 -6.5 4.7 -6 5.8 -6 6.2 -5.3 6.5 -4.5 7 -4 8 -3.6 8 -2.8 8 -2 8.5 -1.4 8.5 -0.6 8.5 0.1 8.5 0.8 8.5 1.5 8 2.2 7.5 2.8 7.5 3.6 7 4.2 6.5 4.8 5.7 5.2 5.3 5.8 4.5 6.2 3.8 6.5 3.1 7 2.2 7 1.4 7 0.6 7.5 -0.2 7.5 -1 7.5 -1.8 7 -2.6 7 -3.2 6.5 -4.3 6.7 -5 6.3 -5.4 5.5 -6.1 5.2 -6.5 4.6 -7 4 -7.5 3.5 -8 2.8 -8 2.2 -8.5 1.5 -8.5 0.7z"/><path fill="#fff300" d="M163 199l-8.5 -0.2 -8.5 -0.9 -8.5 -1.8 -8 -2.3 -7.5 -3 -7.5 -3.8 -6.5 -4.1 -6.5 -5.1 -5.5 -5.3 -5 -6 -4.4 -6.5 -3.4 -6.5 -2.8 -7 -2 -7.5 -1.1 -7.5 -0.2 -7.5 0.6 -7.5 1.5 -7.5 2.4 -7.5 3.1 -7 3.8 -6.6 4.7 -6.4 5.3 -5.9 6 -5.5 6.5 -4.9 7 -4.2 7.5 -3.7 8 -3.1 8 -2.2 8.5 -1.6 8.5 -0.9 8.5 -0.1 8.5 0.6 8 1.2 8 1.9 7.5 2.6 7.5 3.2 7 3.9 6.5 4.4 6 4.9 5.5 5.6 4.7 5.8 4.2 6.5 3.2 6.5 2.6 7 1.8 7 1 7 0.2 7.5 -0.6 7 -1.5 7.5 -2.2 7 -2.8 6.5 -3.7 6.5 -4.2 6 -5.2 6 -5.5 5.2 -6.5 5.1 -6.5 4.2 -7 3.6 -7.5 3.2 -8 2.6 -8 1.9 -8.5 1.2 -8.5 0.5z"/><path fill="#ffeb00" d="M170 198l-8.5 0.4 -8 -0.3 -8.5 -1 -8 -1.7 -7.5 -2.3 -7.5 -3 -7 -3.5 -6.5 -4.1 -6 -4.7 -5.5 -5.1 -4.9 -5.7 -4.2 -6 -3.6 -6.5 -2.9 -7 -2.1 -7 -1.2 -7 -0.5 -7 0.4 -7.5 1.2 -7.5 1.9 -7 2.8 -7 3.4 -6.5 4.3 -6.5 4.9 -6 5.5 -5.5 6 -4.9 6.5 -4.4 7 -3.9 7.5 -3.3 8 -2.7 8 -2 8 -1.2 8.5 -0.6 8.5 0.1 8.5 0.9 8.5 1.6 8 2.2 8 3.1 7 3.5 7 4.3 6.4 4.8 5.6 5.2 5.1 5.8 4.4 6.3 3.7 6.7 2.7 6.5 2.1 7 1.3 7.5 0.5 7.5 -0.4 7 -1.2 7.5 -2 7 -2.9 7 -3.8 7 -4.5 6.4 -5 5.9 -5.5 5.2 -6.5 5.1 -7 4.5 -7.5 3.9 -8 3.3 -8 2.4 -8 1.7 -8.5 1.1z"/><path fill="#ffe300" d="M169 197.5l-8.5 0.3 -8.5 -0.4 -8 -1.1 -8 -1.8 -7.5 -2.4 -7.5 -3.1 -7 -3.7 -6.5 -4.3 -6 -4.8 -5.3 -5.2 -4.7 -5.7 -4.2 -6.3 -3.3 -6.5 -2.6 -6.5 -1.8 -7 -1.1 -7 -0.3 -7 0.5 -7.5 1.4 -7.5 2.1 -7 3 -7 3.6 -6.5 4.2 -6 5 -5.8 5.5 -5.3 6.3 -4.9 6.7 -4.3 7 -3.7 7.5 -3.1 8 -2.5 8 -1.8 8 -1.1 8.5 -0.5 8.5 0.3 8.5 1.1 8 1.6 8 2.4 7.5 3.1 7.5 3.8 6.5 4.2 6 4.7 5.5 5.3 5 5.9 4.2 6.1 3.5 6.5 2.8 7 1.9 7 1.2 7.5 0.2 7.5 -0.5 7 -1.3 7 -2.2 7 -3 7 -3.7 6.5 -4.6 6.4 -5 5.7 -5.5 5.1 -6.5 5 -7 4.4 -7.5 3.8 -7.5 2.9 -8.5 2.6 -8.5 1.7 -8 0.9z"/><path fill="#ffdb00" d="M168 197l-8.5 0.2 -8 -0.5 -8 -1.1 -8 -1.9 -7.5 -2.4 -7.5 -3.2 -7 -3.8 -6.5 -4.4 -6 -4.9 -5 -5.1 -4.7 -5.9 -3.9 -6 -3.3 -6.5 -2.6 -7 -1.7 -7 -0.9 -7 -0.1 -7 0.7 -7.5 1.4 -7 2.3 -7 2.9 -6.5 3.7 -6.5 4.3 -6 5.4 -6 5.5 -5.1 6.5 -4.9 7 -4.3 7 -3.5 7.5 -2.9 8 -2.3 8 -1.7 8 -0.9 8.5 -0.3 8 0.4 8.5 1.2 8 1.8 8 2.6 7.5 3.2 7 3.7 6.5 4.4 6 4.9 5.5 5.5 4.6 5.7 4.2 6.5 3.3 6.5 2.6 7 1.7 7 0.9 7 0.1 7.5 -0.8 7 -1.5 7 -2.3 7 -3 6.5 -3.9 6.5 -4.5 6 -5.4 5.9 -5.7 5.1 -6.3 4.6 -7 4.2 -7.5 3.6 -7.5 2.9 -8 2.2 -8 1.6 -8.5 0.9z"/><path fill="#ffd300" d="M167 196.5l-8.5 0.1 -8 -0.6 -8 -1.2 -8 -2 -7.5 -2.5 -7.5 -3.3 -6.5 -3.7 -6.5 -4.5 -5.7 -4.8 -5.3 -5.5 -4.5 -5.8 -3.8 -6.2 -3.1 -6.5 -2.4 -7 -1.6 -7 -0.8 -7 0.1 -7 0.8 -7 1.5 -7 2.4 -7 3.1 -6.5 3.9 -6.5 4.6 -6 5.3 -5.7 5.5 -4.9 6.5 -4.7 6.5 -3.9 7.5 -3.6 7.5 -2.8 8 -2.2 8 -1.5 8.5 -0.8 8.5 -0.2 8 0.6 8.5 1.4 8 2 7.5 2.5 7.5 3.4 6.5 3.7 6.5 4.5 6 5.1 5 5.2 4.5 5.7 3.9 6.2 3.1 6.5 2.5 7 1.6 7 0.8 7 0 7 -0.8 7 -1.5 7 -2.5 7 -3.1 6.5 -4 6.5 -4.6 6 -5.4 5.7 -6 5.2 -6 4.3 -7 4 -7.5 3.6 -7.5 2.7 -8 2.2 -8 1.5 -8.5 0.8z"/><path fill="#ffcb00" d="M165.5 196l-8.5 0 -8 -0.7 -8 -1.4 -8 -2.1 -7.5 -2.7 -7 -3.3 -7 -4.1 -6 -4.4 -5.5 -4.8 -5 -5.5 -4.5 -6 -3.8 -6.5 -2.8 -6.5 -2.2 -7 -1.4 -7 -0.5 -7 0.3 -7.5 1.1 -7 1.8 -7 2.8 -7 3.4 -6.5 4 -6 4.8 -5.9 5.5 -5.4 6 -4.9 6.5 -4.4 7 -3.8 7.5 -3.2 7.5 -2.5 8 -1.9 8 -1.2 8.5 -0.5 8.5 0.2 8 0.8 8 1.6 8 2.3 7.5 2.9 7 3.4 6.5 4 6 4.5 5.5 5 4.9 5.5 4.4 6 3.4 6 2.9 6.5 2.1 7 1.4 7 0.5 7 -0.3 7 -1.1 7 -1.9 7 -2.5 6.5 -3.4 6.5 -4 6 -4.5 5.5 -5.4 5.5 -6 4.9 -6.5 4.4 -7 3.9 -7 3.1 -7.5 2.6 -8 2.1 -8 1.3 -8.5 0.7z"/><path fill="#ffc300" d="M163.5 195.5l-8.5 -0.2 -8 -0.9 -8 -1.5 -8 -2.4 -7.5 -2.9 -7 -3.5 -6.5 -4.1 -6 -4.6 -5.5 -5.2 -4.8 -5.7 -4.1 -6 -3.5 -6.5 -2.6 -6.5 -1.9 -7 -1 -7 -0.3 -7.5 0.6 -7 1.5 -7.5 2.3 -7 2.9 -6.5 3.8 -6.5 4.4 -6 5 -5.5 5.7 -5.2 6 -4.5 7 -4.2 7.5 -3.7 7.5 -2.8 8 -2.2 8 -1.6 8 -0.8 8.5 -0.1 8 0.5 8 1.2 7.5 1.8 7.5 2.4 7 3 7 3.7 6.5 4.4 5.7 4.6 5.3 5.3 4.5 5.5 3.8 5.7 3.4 6.5 2.5 6.5 1.7 6.5 1 7 0.3 7 -0.6 7 -1.4 7 -2 6.5 -2.8 6.5 -3.4 6 -4.3 6 -4.8 5.5 -5.4 5.1 -6 4.7 -6.5 4.1 -7 3.7 -7.5 3.1 -7.5 2.4 -8 1.8 -8 1.1 -8 0.5z"/><path fill="#ffbb00" d="M171 194.5l-8 0.5 -8 -0.3 -8 -0.8 -7.5 -1.5 -7.5 -2.1 -7 -2.6 -7 -3.4 -6.5 -3.9 -6 -4.5 -5.4 -4.9 -5 -5.5 -4 -5.5 -3.4 -6 -2.9 -6.5 -2.1 -6.5 -1.3 -6.5 -0.6 -7 0.2 -7 0.9 -6.5 1.7 -7 2.4 -6.5 3.2 -6.5 3.8 -6 4.3 -5.5 5.2 -5.4 5.5 -4.8 6 -4.3 6.5 -3.9 7 -3.3 7.5 -2.8 7.5 -2.1 8 -1.5 8 -0.8 8.5 -0.2 8 0.5 8.5 1.3 8 2 7.5 2.6 7.5 3.3 7 4 6.5 4.5 5.6 4.9 5.2 5.5 4.6 6 3.8 6.5 3 6.5 2 6.5 1.5 7 0.6 7 -0.3 7 -1 7 -1.9 7 -2.7 7 -3.4 6.3 -4.2 6.2 -4.8 5.7 -5.5 5.3 -6 4.8 -6.5 4.3 -7 3.7 -7.5 3.2 -8 2.5 -8 1.8 -8.5 1.2z"/><path fill="#ffb300" d="M170.5 194l-8 0.4 -8 -0.2 -8 -1 -7.5 -1.5 -7.5 -2.2 -7 -2.7 -6.5 -3.1 -6.5 -4 -6 -4.5 -5.2 -4.7 -4.8 -5.4 -4.1 -5.6 -3.4 -6 -2.9 -6.5 -2 -6.5 -1.2 -6.5 -0.6 -7 0.3 -7 1 -7 1.7 -6.5 2.5 -6.5 3.3 -6.5 3.9 -6 4.4 -5.5 5.1 -5.2 5.7 -4.8 6.3 -4.4 6.5 -3.6 7 -3.2 7 -2.5 7.5 -2 8 -1.5 8 -0.7 8.5 -0.1 8.5 0.7 8 1.3 8 2 7.5 2.7 7.5 3.5 6.5 3.8 6.3 4.5 5.7 5 5 5.4 4.2 5.6 3.8 6.5 2.9 6.5 2.1 6.5 1.3 7 0.6 7 -0.3 7 -1.1 7 -1.8 6.5 -2.6 6.5 -3.4 6.5 -4.2 6.2 -5 5.9 -5.5 5.3 -6 4.7 -6.5 4.2 -7.5 3.9 -7.5 3.1 -8 2.4 -8 1.8 -8 1z"/><path fill="#ffab00" d="M170 193.5l-8 0.4 -8 -0.3 -8 -1 -7.5 -1.6 -7.5 -2.2 -7 -2.8 -6.5 -3.2 -6.5 -4.1 -6 -4.6 -5 -4.7 -4.7 -5.4 -3.9 -5.5 -3.3 -6 -2.8 -6.5 -1.9 -6.5 -1.2 -6.5 -0.4 -6.5 0.3 -7 1.1 -7 1.8 -6.5 2.6 -6.5 3.1 -6 3.9 -6 4.5 -5.5 5.4 -5.4 5.5 -4.5 6 -4.1 6.5 -3.7 7 -3.2 7.5 -2.6 7.5 -1.9 8 -1.4 8 -0.6 8.5 0 8 0.7 8 1.3 7.5 2 7.5 2.7 7.5 3.4 6.5 3.8 6.2 4.5 5.7 5 5 5.5 4.1 5.5 3.8 6.5 2.8 6.5 2.1 6.5 1.3 7 0.5 7 -0.4 7 -1.1 7 -1.9 6.5 -2.7 6.5 -3.5 6.5 -4.2 6 -4.7 5.5 -5.5 5.2 -6 4.7 -7 4.4 -7 3.6 -7.5 3 -8 2.4 -8 1.7 -8 1z"/><path fill="#ffa300" d="M170 193l-8 0.4 -7.5 -0.3 -8 -1 -7.5 -1.5 -7.5 -2.2 -7 -2.7 -7 -3.5 -6 -3.8 -5.8 -4.4 -5.2 -4.8 -4.6 -5.2 -3.9 -5.5 -3.4 -6 -2.8 -6.5 -1.9 -6.5 -1.2 -6.5 -0.4 -6.5 0.3 -7 1 -6.5 1.8 -6.5 2.5 -6.5 3.1 -6.1 3.9 -5.9 4.6 -5.7 5 -5 5.8 -4.8 6.2 -4.2 6.5 -3.7 7 -3.1 7 -2.4 7.5 -2 8 -1.3 8 -0.7 8.5 0 8 0.7 8 1.4 7.5 1.9 7.5 2.7 7.5 3.5 6.5 3.8 6 4.3 5.5 4.9 5 5.4 4.3 5.8 3.5 6 2.9 6.5 2.1 6.5 1.3 7 0.5 7 -0.4 7 -1.1 7 -1.9 6.5 -2.7 6.5 -3.5 6.3 -4.3 6.2 -4.7 5.4 -5.5 5.1 -6 4.7 -6.5 4.1 -7 3.6 -7.5 3 -8 2.4 -8 1.7 -8 1z"/><path fill="#ff9b00" d="M169.5 192.5l-8 0.3 -7.5 -0.3 -8 -1 -7.5 -1.6 -7.5 -2.2 -7 -2.8 -6.5 -3.3 -6 -3.8 -5.6 -4.3 -5.4 -5 -4.5 -5.2 -4 -5.7 -3.3 -6.1 -2.5 -6 -1.9 -6.5 -1.1 -6.5 -0.4 -6.5 0.3 -7 1.2 -7 1.9 -6.5 2.7 -6.5 3.2 -6 3.9 -5.7 4.5 -5.3 5.1 -5 5.9 -4.8 6 -4 6.5 -3.5 7 -3 7.5 -2.5 7.5 -1.8 7.5 -1.2 8 -0.6 8 0 8 0.8 8 1.4 8 2.2 7.5 2.7 7 3.4 6.5 3.9 6 4.4 5.5 5 4.6 5.1 4.3 6 3.5 6 2.7 6.5 2 6.5 1.2 7 0.4 7 -0.4 6.5 -1.3 7 -1.9 6.5 -2.8 6.5 -3.4 6 -4.3 6 -4.8 5.5 -5.8 5.3 -6 4.5 -6.5 4 -7 3.5 -7.5 2.9 -7.5 2.2 -8 1.7 -8 0.9z"/><path fill="#ff9300" d="M169.5 192l-8 0.3 -7.5 -0.3 -8 -1 -7.5 -1.6 -7.5 -2.3 -7 -2.8 -6.5 -3.3 -6 -3.8 -5.5 -4.3 -5.3 -4.9 -4.3 -5 -3.9 -5.6 -3.3 -5.9 -2.5 -6 -1.9 -6.5 -1.2 -6.5 -0.4 -6.5 0.4 -7 1.1 -6.5 1.8 -6.5 2.7 -6.5 3.2 -6 3.7 -5.5 4.6 -5.5 5 -5 5.8 -4.7 6 -4 6.5 -3.5 7 -3.1 7.5 -2.5 7.5 -1.8 7.5 -1.2 8 -0.6 8 0.1 8 0.7 8 1.4 7.5 2 7.5 2.8 7 3.3 6.5 3.8 6 4.4 5.5 4.9 4.9 5.5 4.1 5.6 3.4 5.9 2.8 6.5 2 6.5 1.2 7 0.4 7 -0.4 6.5 -1.3 7 -1.9 6.5 -2.8 6.5 -3.5 6 -4.3 6 -4.6 5.1 -5.5 5.1 -6 4.5 -6.5 4.1 -7 3.5 -7.5 2.9 -7.5 2.2 -8 1.7 -8 0.9z"/><path fill="#ff8b00" d="M169.5 191.5l-8 0.3 -7.5 -0.3 -8 -1 -7.5 -1.6 -7 -2.1 -7 -2.8 -6.5 -3.3 -6 -3.8 -5.5 -4.2 -5.1 -4.7 -4.8 -5.5 -3.8 -5.5 -3.3 -6 -2.5 -6 -1.7 -6 -1.2 -6.5 -0.4 -6.5 0.3 -6.5 1.1 -6.5 1.7 -6.5 2.6 -6.5 3.2 -6 3.9 -5.7 4.5 -5.5 5 -4.9 5.5 -4.5 6 -4 6.5 -3.6 7 -3 7.5 -2.6 7.5 -1.8 7.5 -1.2 8 -0.6 8 0.1 8 0.7 8 1.4 7.5 2 7.5 2.8 7 3.3 6.5 3.9 6 4.4 5.4 4.8 4.9 5.5 4 5.5 3.4 6 2.8 6.5 1.9 6.5 1.1 6.5 0.4 7 -0.4 6.5 -1.2 7 -2 6.5 -2.9 6.5 -3.4 5.9 -4 5.6 -5 5.5 -5 4.6 -6 4.6 -6.5 4 -7 3.5 -7.5 3 -7.5 2.2 -8 1.7 -8 0.9z"/><path fill="#ff8300" d="M169.5 191l-8 0.3 -7.5 -0.3 -7.5 -1 -7.5 -1.5 -7 -2.1 -7 -2.8 -6.5 -3.2 -6 -3.7 -5.5 -4.2 -5.4 -5 -4.4 -5 -3.8 -5.5 -3.4 -6 -2.5 -6 -1.8 -6 -1.1 -6.5 -0.4 -6.5 0.3 -6.5 1 -6.5 1.8 -6.5 2.4 -6 3.2 -6 3.6 -5.5 4.5 -5.5 5 -4.9 5.5 -4.6 6 -4 6.5 -3.6 7 -3.1 7 -2.4 7.5 -1.9 7.5 -1.2 8 -0.7 8 0 8 0.7 7.5 1.3 7.5 1.9 7.5 2.7 7 3.2 6.5 3.8 6 4.2 5.5 4.9 4.9 5.2 4.1 5.5 3.5 6 2.9 6.5 2 6.5 1.2 6.5 0.5 7 -0.4 6.5 -1.1 6.5 -1.9 6.5 -2.7 6.5 -3.4 6 -4.3 6 -4.8 5.5 -5 4.6 -6 4.6 -6.5 4 -7 3.5 -7.5 3 -7.5 2.2 -8 1.7 -8 0.9z"/><path fill="#ff7c00" d="M169.5 190.5l-8 0.3 -7.5 -0.3 -7.5 -1 -7.5 -1.5 -7 -2.1 -7 -2.8 -6.5 -3.3 -6 -3.7 -5.5 -4.2 -5 -4.7 -4.5 -5.2 -3.9 -5.5 -3.1 -5.5 -2.5 -6 -1.8 -6 -1.2 -6.5 -0.4 -6.5 0.3 -6.5 1.1 -6.5 1.8 -6.5 2.4 -6 3.2 -6 3.7 -5.5 4.4 -5.3 5 -4.9 5.5 -4.5 6 -4.1 6.5 -3.5 7 -3.1 7 -2.3 14.5 -3 8 -0.7 8 0 8 0.7 7.5 1.3 7.5 1.9 7.5 2.7 7 3.2 6.5 3.8 6 4.3 5.5 4.9 4.7 5.1 4.1 5.5 3.5 6 2.7 6 2 6.5 1.2 6.5 0.5 7 -0.4 6.5 -1.1 6.5 -1.9 6.5 -2.8 6.5 -3.3 6 -4.2 5.8 -4.6 5.2 -5.4 4.9 -6 4.6 -6.5 4 -7 3.5 -7.5 2.9 -7.5 2.1 -7.5 1.6 -8 0.9z"/><path fill="#ff7400" d="M169.5 190l-15 0 -7.5 -0.9 -7.5 -1.5 -7 -2.1 -7 -2.7 -6.5 -3.3 -6 -3.7 -5.5 -4.1 -5 -4.7 -4.4 -5 -4 -5.5 -3 -5.5 -2.6 -6 -1.8 -6 -1.2 -6.5 -0.4 -6.5 0.3 -6.5 1 -6.5 1.7 -6 2.4 -6 3.1 -6 3.7 -5.5 4.5 -5.5 4.7 -4.6 5.5 -4.5 6 -4.1 6.5 -3.6 7 -3 7 -2.4 14.5 -3 8 -0.7 8 0 8 0.7 7.5 1.3 7.5 1.9 7.5 2.7 6.5 3 6.5 3.7 6 4.2 5.5 4.9 4.7 5 4.1 5.5 3.6 6 2.7 6 2 6.5 1.2 6.5 0.5 7 -0.3 6.5 -1.2 6.5 -1.9 6.5 -2.8 6.5 -3.4 6 -4 5.5 -4.7 5.3 -5.5 5 -6 4.5 -6.5 4 -6.5 3.2 -7.5 2.9 -7.5 2.2 -7.5 1.5 -8 0.9z"/><path fill="#ff6c00" d="M170 189.5l-15 0.1 -7.5 -0.9 -7.5 -1.5 -13.5 -4.5 -6.5 -3.2 -6 -3.6 -5.5 -4 -5 -4.5 -4.5 -5 -4 -5.4 -3.2 -5.5 -2.7 -6 -1.8 -6 -1.2 -6 -0.6 -6.5 0.2 -6.5 1 -6.5 1.6 -6 2.2 -6 3.1 -6 3.5 -5.5 4.4 -5.4 4.5 -4.6 5.5 -4.7 6 -4.1 6 -3.4 6.5 -3 7 -2.6 7.5 -2 7.5 -1.3 8 -0.8 8 0 8 0.6 7.5 1.2 7.5 1.8 7 2.4 7 3.1 6.5 3.6 6 4.1 5.5 4.7 4.7 4.9 4.3 5.5 3.7 6 2.8 6 2.1 6.5 1.3 6.5 0.5 6.5 -0.2 6.5 -1 6.5 -1.8 6.5 -2.7 6.5 -3.3 6 -3.9 5.5 -4.8 5.5 -5.2 4.9 -6 4.5 -6 3.8 -7 3.5 -7 2.8 -7.5 2.3 -8 1.7 -8 1z"/><path fill="#ff6400" d="M170.5 189l-15 0.1 -14.5 -2.2 -13.5 -4.3 -6.5 -3.1 -6 -3.5 -5.5 -3.9 -5 -4.4 -4.5 -4.8 -4 -5.2 -3.4 -5.7 -2.6 -5.5 -2 -6 -1.3 -6 -0.7 -6 0 -6.5 0.8 -6.5 1.4 -6 2.2 -6 2.8 -6 3.4 -5.5 4.2 -5.5 4.7 -4.9 5.2 -4.6 5.8 -4.2 6 -3.5 13 -5.6 7 -2 7.5 -1.5 8 -1 8 -0.2 8 0.4 7.5 1.1 7.5 1.6 7.5 2.4 7 2.9 6.5 3.5 6 3.9 5.8 4.7 5 5 4.4 5.5 3.8 6 2.9 6 2 6 1.5 6.5 0.6 6.5 -0.1 6.5 -0.9 6.5 -1.7 6.5 -2.5 6.5 -3.3 6 -4 5.9 -4.5 5.2 -5.1 4.9 -5.9 4.6 -6.5 4.1 -7 3.6 -7 2.8 -7.5 2.3 -7.5 1.6 -8 1z"/><path fill="#ff5c00" d="M170.5 188.5l-14.5 0.2 -14.5 -2.1 -13.5 -4.3 -6.5 -3 -6 -3.5 -5.5 -3.9 -5.1 -4.4 -4.4 -4.7 -4.1 -5.3 -3.3 -5.5 -2.6 -5.5 -2.1 -6 -1.3 -6 -0.7 -6 0.1 -6.5 0.8 -6.5 1.4 -6 2.1 -6 2.9 -6 3.4 -5.5 3.9 -5 4.7 -5 5.1 -4.5 5.7 -4.1 6 -3.6 13 -5.6 7 -2 7.5 -1.5 8 -1 8 -0.2 8 0.4 7.5 1 7.5 1.7 7.5 2.4 7 2.9 6.5 3.5 6 3.9 5.5 4.5 5 5 4.2 5.2 3.6 5.5 2.9 6 2.4 6.5 1.4 6.5 0.7 6.5 -0.1 6.5 -0.9 6.5 -1.8 6.5 -2.6 6.5 -3.2 6 -3.8 5.5 -4.7 5.5 -5.1 4.8 -6 4.6 -6 3.8 -7 3.6 -7 2.8 -7.5 2.3 -8 1.7 -7.5 0.9z"/><path fill="#ff5400" d="M171 188l-14.5 0.2 -14.5 -2 -7 -1.9 -7 -2.5 -12 -6.2 -5.5 -3.9 -5 -4.3 -4.5 -4.7 -4 -5.1 -3.4 -5.6 -2.6 -5.5 -2 -5.5 -1.4 -6 -0.7 -6 -0.1 -6 0.7 -6.5 1.3 -6 2.1 -6 2.8 -6 3.3 -5.5 4 -5.3 4.5 -4.9 5 -4.5 5.5 -4 6 -3.7 6.5 -3.2 6.5 -2.5 14 -3.6 8 -1 8 -0.4 8 0.4 7.5 0.9 7.5 1.6 7.5 2.3 7 2.8 6.5 3.4 6 3.8 6 4.8 5 4.9 4.2 5.2 3.6 5.5 3 6 2.2 6 1.6 6.5 0.7 6.5 -0.1 6.5 -0.8 6.5 -1.7 6.5 -2.3 6 -3.1 6 -3.8 5.6 -4.5 5.4 -5.2 5 -5.8 4.6 -6.5 4.1 -6.5 3.4 -7 2.9 -7.5 2.3 -7.5 1.6 -8 1.1z"/><path fill="#ff4c00" d="M171.5 187.5l-14.5 0.3 -14.5 -2 -13.5 -4.1 -12 -6 -5.5 -3.8 -5 -4.2 -4.5 -4.5 -4 -5 -3.4 -5.2 -2.8 -5.5 -2 -5.5 -1.6 -6 -0.8 -6 -0.2 -6 0.6 -6.5 1.2 -6 1.9 -6 2.5 -5.5 3.1 -5.5 4 -5.5 4.4 -5 4.6 -4.3 5 -3.9 6 -3.8 12.5 -5.9 14 -4 8 -1.2 7.5 -0.5 8 0.2 8 0.8 7.5 1.4 7.5 2.1 7.5 2.8 6.5 3.2 6 3.7 6 4.5 5 4.7 4.5 5.2 3.8 5.5 3.2 6 2.4 6 1.6 6.5 0.9 6.5 0.1 6.5 -0.8 6.5 -1.5 6.5 -2.5 6.5 -3.1 6 -3.6 5.5 -4.5 5.4 -5 4.9 -5.5 4.4 -6 4 -7 3.7 -7 2.9 -7.5 2.4 -7.5 1.7 -8 1.1z"/><path fill="#ff4400" d="M163.5 187.5l-8 -0.2 -7.5 -0.9 -7.5 -1.5 -7 -2 -7 -2.7 -6.5 -3.3 -6 -3.7 -5.4 -4.2 -5.1 -4.8 -4.4 -5.2 -3.7 -5.5 -2.9 -5.5 -2.3 -6 -1.5 -6 -0.9 -6.5 -0.1 -6.5 0.7 -6.5 1.5 -6.5 2.1 -6 2.9 -6 3.5 -5.5 4.3 -5.5 4.8 -4.9 5.5 -4.6 6 -4.1 6.5 -3.6 6.5 -2.9 7 -2.3 7.5 -1.9 7.5 -1.2 7.5 -0.6 8 0.1 14.5 1.8 7 1.8 7 2.4 6.5 2.8 6 3.4 5.7 3.8 5.3 4.4 4.5 4.6 4 5 3.5 5.5 2.8 5.5 2.1 6 1.5 6 0.7 6 0 6 -0.6 6 -1.4 6 -2.1 6 -2.6 5.5 -3.4 5.5 -3.9 5 -4.6 4.9 -5 4.4 -5.5 4 -6 3.6 -13 5.7 -7 2 -7.5 1.6 -14.5 1.3z"/><path fill="#ff3c00" d="M165.5 187l-7.5 0 -7.5 -0.7 -7.5 -1.3 -7 -1.8 -7 -2.5 -6.5 -3 -6 -3.4 -5.5 -3.9 -5 -4.3 -4.5 -4.8 -4 -5.3 -3.3 -5.5 -2.5 -5.5 -1.9 -6 -1.2 -6 -0.6 -6.5 0.3 -6.5 1 -6 1.6 -6 2.4 -6 3.2 -6 3.8 -5.5 4.3 -5 4.9 -4.6 5.5 -4.4 6 -3.8 6.5 -3.4 6.5 -2.6 7 -2.2 7.5 -1.7 7.5 -1.1 7.5 -0.4 7.5 0.2 7.5 0.8 7.5 1.4 7 1.9 6.5 2.4 6.5 3.1 6 3.5 5.5 3.9 5 4.4 4.5 4.8 4 5.3 3.2 5.5 2.5 5.5 1.9 6 1.2 6 0.5 6.5 -0.2 6 -1 6 -1.7 6 -2.4 6 -3 5.5 -3.8 5.5 -4.3 5 -4.9 4.7 -5.5 4.3 -6 3.8 -6.5 3.4 -6.5 2.7 -14 3.9 -7.5 1.2 -7.5 0.5z"/><path fill="#ff3400" d="M167 186.5l-14.5 -0.4 -7.5 -1.1 -7 -1.7 -7 -2.3 -6.5 -2.8 -6 -3.2 -5.5 -3.6 -5.4 -4.4 -4.5 -4.5 -4 -5 -3.6 -5.5 -2.7 -5.5 -2.2 -6 -1.4 -6 -0.7 -6 0 -6.5 0.8 -6 1.4 -6 2.2 -6 2.7 -5.5 3.4 -5.5 4 -5.1 4.7 -4.9 5.3 -4.5 5.5 -3.8 6 -3.4 6.5 -3 7 -2.5 7 -1.9 14.5 -2 7.5 -0.1 7.5 0.4 7.5 1.1 7 1.6 7 2.2 6.5 2.7 6.5 3.4 6 3.9 5.4 4.4 4.6 4.5 4.1 5 3.6 5.5 2.8 5.5 2.2 6 1.5 6 0.7 6 0 6.5 -0.7 6 -1.5 6 -2.2 6 -2.7 5.5 -3.6 5.5 -4.2 5.3 -4.7 4.7 -5.3 4.4 -6 4.1 -6 3.3 -7 3.1 -14 4.2 -7.5 1.2 -7.5 0.7z"/><path fill="#ff2c00" d="M168 186l-14.5 -0.2 -14 -2.5 -13 -4.6 -6 -3 -6 -3.8 -5.1 -3.9 -4.8 -4.5 -4.1 -4.8 -3.6 -5.2 -3 -5.5 -2.2 -5.5 -1.7 -6 -0.9 -6 -0.3 -6 0.5 -6 1.1 -6 1.9 -6 2.4 -5.5 3.1 -5.5 3.7 -5.1 4.5 -5.1 5 -4.6 5.5 -4.2 6 -3.7 6 -3 6.5 -2.6 7 -2.1 14 -2.5 7.5 -0.4 7.5 0.2 7.5 0.7 7.5 1.5 7 1.9 7 2.6 6.5 3.2 6 3.6 5.5 4 5 4.6 4.5 5 3.9 5.5 3 5.5 2.5 6 1.6 6 0.9 6 0.2 6.5 -0.5 6 -1.3 6 -2 6 -2.6 5.5 -3.3 5.5 -4.3 5.5 -4.6 4.8 -5 4.3 -6 4.3 -6.5 3.7 -6.5 2.9 -7 2.5 -7 1.9 -7.5 1.4 -7.5 0.7z"/><path fill="#ff2400" d="M169 185.5l-14.5 -0.1 -14 -2.3 -13 -4.4 -6 -3 -6 -3.6 -5 -3.7 -4.8 -4.4 -4.1 -4.5 -3.6 -5 -3.2 -5.5 -2.4 -5.5 -1.6 -5.5 -1.2 -6 -0.4 -6 0.3 -6 1 -6 1.7 -6 2.2 -5.5 3 -5.5 3.3 -5 4.3 -5.1 4.5 -4.4 5.5 -4.4 11.5 -6.9 13 -5 14 -2.9 7.5 -0.6 7.5 0 7.5 0.6 7.5 1.2 7.5 1.8 7 2.5 6.5 2.9 6 3.4 5.7 3.9 5.3 4.5 4.5 4.8 4 5.2 3.3 5.5 2.7 6 1.8 6 1.1 6 0.4 6.5 -0.4 6 -1.1 6 -1.8 6 -2.7 6 -3.2 5.5 -4.1 5.5 -4.5 4.8 -5.3 4.7 -5.7 4.1 -6 3.5 -6.5 3.1 -7 2.6 -7 2 -7.5 1.4 -7.5 0.8z"/><path fill="#ff1c00" d="M170 185l-14.5 0.1 -14 -2.2 -13 -4.3 -11.5 -6 -5 -3.6 -5 -4.3 -4 -4.2 -3.9 -5 -3 -5 -2.6 -5.5 -1.9 -5.5 -1.3 -5.5 -0.6 -6 0 -6 0.7 -5.5 1.4 -6 1.9 -5.5 2.7 -5.5 3.4 -5.5 3.7 -4.8 9 -8.7 11 -7.3 12.5 -5.4 14 -3.5 7.5 -0.9 8 -0.4 7.5 0.4 7.5 0.9 7.5 1.6 7 2.2 6.5 2.6 6.5 3.3 6 3.9 5.5 4.3 4.9 4.8 4.1 5 3.6 5.5 2.7 5.5 2.1 6 1.4 6 0.6 6 -0.1 6.5 -0.8 6 -1.7 6 -2.4 6 -3.2 6 -3.7 5.2 -4.5 5.1 -5 4.7 -5.5 4.1 -6.5 4 -6.5 3.2 -7 2.7 -7 2.1 -7.5 1.5 -7.5 0.9z"/><path fill="#ff1400" d="M171 184.5l-14 0.2 -14 -1.9 -13 -4 -11.5 -5.8 -10 -7.5 -4.5 -4.5 -3.7 -4.5 -3.2 -5 -2.6 -5 -2.1 -5.5 -1.4 -5.5 -0.8 -5.5 -0.2 -6 0.5 -6 1.1 -5.5 1.8 -5.5 2.4 -5.5 3.1 -5.5 3.6 -5 8.5 -8.7 10.5 -7.5 12 -5.7 13.5 -3.8 7.5 -1.2 7.5 -0.6 8 0.1 7.5 0.7 7.5 1.3 7.5 2.1 7 2.6 6.5 3.1 6 3.5 5.5 4.1 5 4.6 4.5 5 3.8 5.4 2.9 5.5 2.4 6 1.6 6 0.8 6 0.1 6.5 -0.8 6.5 -1.5 6 -2.3 6 -2.8 5.5 -3.7 5.5 -4.2 5 -4.8 4.6 -5.5 4.4 -6 3.8 -6.5 3.4 -7 2.9 -7 2.2 -7.5 1.6 -8 1.1z"/><path fill="#ff0c00" d="M172 184l-14 0.4 -13.5 -1.7 -13 -3.8 -11.5 -5.5 -10 -7.1 -4.5 -4.3 -3.9 -4.5 -3.5 -5 -2.7 -5 -3.7 -10.5 -1 -5.5 -0.3 -6 0.3 -6 1 -5.5 1.5 -5.5 2.3 -5.5 6 -10 8.1 -9 10.4 -7.8 11.5 -5.8 13 -4.2 7.5 -1.4 7.5 -0.7 8 -0.2 7.5 0.5 7.5 1.1 7.5 1.8 7 2.4 6.5 2.8 6 3.3 6 4.1 5.4 4.6 4.6 4.9 3.9 5.1 3.2 5.5 2.7 6 1.7 6 1.1 6 0.2 6.5 -0.6 6.5 -1.3 6 -2.1 6 -2.8 5.8 -3.5 5.4 -4.3 5.3 -4.7 4.7 -5.5 4.5 -6 3.9 -6.5 3.5 -6.5 2.7 -7.5 2.4 -7.5 1.7 -7.5 1.1z"/><path fill="#ff0400" d="M166 184l-14.5 -0.6 -14 -2.9 -12.5 -4.8 -6 -3.3 -5.5 -3.8 -5 -4.2 -4.3 -4.4 -4 -5 -3.1 -5 -2.6 -5.5 -1.9 -5.5 -1.3 -6 -0.5 -6 0.1 -6 0.9 -6 1.6 -6 2.2 -5.5 3 -5.5 3.4 -5.1 4.1 -4.9 4.9 -4.7 5 -3.9 6 -3.9 6 -3.1 6.5 -2.8 13.5 -3.7 14.5 -1.6 14.5 0.8 14 2.9 6.5 2.3 6.5 2.9 6 3.4 5.5 3.8 4.9 4.1 4.3 4.5 3.8 4.8 3.2 5.2 2.6 5.5 1.9 5.5 1.3 6 0.5 6 -0.2 6 -0.8 5.5 -1.7 6 -2.2 5.5 -3 5.5 -3.6 5.2 -4.2 4.8 -4.8 4.5 -5.5 4.3 -5.5 3.5 -12.5 5.8 -13.5 3.7 -14.5 1.7z"/><path fill="#fb0000" d="M168 183.5l-14 -0.3 -14 -2.4 -12.5 -4.4 -6 -3 -5.5 -3.5 -5 -3.8 -4.5 -4.2 -4 -4.5 -3.5 -4.9 -2.7 -5 -2.3 -5.5 -1.6 -5.5 -1 -6 -0.3 -5.5 0.4 -6 1.2 -6 1.7 -5.5 2.4 -5.5 2.8 -5 3.6 -5 4.3 -4.9 5 -4.5 5 -3.8 11.5 -6.5 13 -4.6 13.5 -2.5 14.5 -0.4 14.5 2 13.5 4.1 6.5 3 6 3.4 5.5 3.9 5 4.4 4.5 4.9 3.7 5 3.2 5.5 2.3 5.5 1.7 5.5 1 6 0.3 6 -0.5 6 -1.2 6 -1.8 5.5 -2.5 5.5 -3.3 5.5 -3.9 5.1 -4.7 4.9 -5.3 4.5 -5.5 3.8 -6 3.4 -6.5 3 -7 2.5 -7 1.8 -14.5 2z"/><path fill="#f30000" d="M169.5 183l-14 0 -13.5 -2.1 -12.5 -4.1 -11.5 -6 -5 -3.6 -4.9 -4.2 -4.1 -4.4 -3.5 -4.6 -3 -5 -2.4 -5 -1.8 -5.5 -1.2 -5.5 -0.6 -5.5 0.1 -6 0.8 -5.5 1.3 -5.5 2.1 -5.5 2.7 -5.4 3.3 -5.1 3.7 -4.7 9 -8.3 11 -7 12.5 -5.2 13 -3.1 7.5 -0.8 7.5 -0.3 14.5 1.3 7 1.5 7 2.1 6.5 2.6 6.5 3.3 6 3.9 5 4 4.5 4.3 4.1 4.9 3.6 5.5 2.7 5.5 2 5.5 1.3 6 0.6 6 -0.1 6 -0.9 6 -1.7 6 -2.2 5.5 -3.1 5.5 -3.8 5.3 -4.5 5.1 -5 4.5 -5.5 4 -6 3.6 -6.5 3.2 -7 2.6 -7 2 -14.5 2.2z"/><path fill="#eb0000" d="M170.5 182.5l-13.5 0.2 -13.5 -1.9 -12.5 -3.8 -11.5 -5.7 -9.8 -7.3 -7.7 -8.5 -3.3 -5 -2.5 -5 -2 -5 -1.4 -5.5 -0.8 -5.5 -0.1 -5.5 0.5 -6 1.1 -5.5 1.8 -5.5 2.3 -5 2.9 -5 3.5 -4.8 8.5 -8.6 10.5 -7.3 12 -5.6 12.5 -3.4 7.5 -1.2 7.5 -0.5 7.5 0 7.5 0.7 7.5 1.4 7 1.9 6.5 2.3 6.5 3.1 6 3.5 5.4 4 5 4.5 4.1 4.5 3.9 5.5 3 5.5 2.2 5.5 1.6 6 0.7 6 0.1 6 -0.7 6 -1.5 6 -2.3 6 -3 5.5 -3.5 5.2 -4.2 4.8 -4.8 4.6 -5.5 4.2 -6 3.8 -6.5 3.2 -7 2.8 -7 2 -14.5 2.4z"/><path fill="#e30000" d="M171.5 182l-13.5 0.3 -13 -1.6 -12.5 -3.6 -11.5 -5.4 -10 -7.1 -7.7 -8.1 -6 -9.5 -2.2 -5 -1.6 -5.5 -1 -5.5 -0.3 -5.5 0.3 -5.5 0.9 -5.5 3.6 -10.5 2.7 -5 3.3 -4.9 7.8 -8.6 9.7 -7.3 11.5 -5.9 12.5 -4 7.5 -1.4 7.5 -0.8 7.5 -0.2 7.5 0.5 7.5 1.1 7 1.6 7 2.3 6.5 2.7 6.5 3.6 5.5 3.7 5 4.2 4.5 4.7 3.7 4.7 3.3 5.5 2.5 5.5 1.9 6 1.1 6 0.2 6.5 -0.5 6 -1.3 6 -2.1 6 -2.7 5.5 -3.6 5.5 -4 4.8 -4.8 4.7 -5.2 4.2 -6 3.9 -6.5 3.4 -6.5 2.6 -7 2.2 -7.5 1.7 -7.5 1z"/><path fill="#db0000" d="M166 182l-14.5 -0.6 -13.5 -2.8 -12.5 -4.9 -10.9 -6.7 -4.8 -4 -4.3 -4.4 -3.6 -4.6 -3.2 -5 -2.4 -5 -1.9 -5.5 -1.2 -5.5 -0.6 -6 0.2 -6 0.8 -5.5 1.4 -5.5 2.2 -5.5 2.9 -5.5 3.4 -5 4 -4.7 4.5 -4.3 5 -4 5.5 -3.6 6 -3.1 6.5 -2.7 13.5 -3.7 14 -1.6 14.5 0.8 13.5 2.8 12.5 4.9 6 3.3 5.5 3.8 4.9 4.1 4.1 4.2 3.8 4.8 3.1 5 2.4 5 1.9 5.5 1.2 5.5 0.5 6 -0.2 6 -0.9 5.5 -1.5 5.5 -2.3 5.5 -2.7 5 -3.5 5 -4.3 4.9 -4.5 4.2 -10.5 7.4 -12.5 5.7 -13.5 3.7 -14 1.6z"/><path fill="#d30000" d="M168.5 181.5l-13.5 -0.2 -13.5 -2.2 -12.5 -4.2 -11 -5.9 -9.3 -7.5 -4.1 -4.5 -3.3 -4.5 -3 -5 -2.2 -5 -1.7 -5.5 -1.1 -5.5 -0.4 -5.5 0.3 -5.5 0.8 -5.5 1.6 -5.5 2.2 -5.5 2.7 -5 3.5 -5 3.8 -4.5 9.2 -8 11 -6.6 12.5 -4.7 13 -2.7 14.5 -0.8 14.5 1.6 13.5 3.9 6.5 2.8 6 3.2 5.5 3.7 4.9 4.1 4.4 4.5 3.7 4.7 3.3 5.3 2.3 5 1.9 5.5 1.2 6 0.4 6 -0.2 5.5 -1.1 6 -1.7 5.5 -2.4 5.5 -3.2 5.4 -3.8 5.1 -4.3 4.5 -4.9 4.3 -5.5 3.9 -6 3.5 -6.5 3 -13.5 4.2 -14.5 2.1z"/><path fill="#cb0000" d="M170 181l-13.5 0.1 -13 -1.9 -12.5 -3.9 -11 -5.5 -9.5 -7.2 -7.5 -8.3 -5.5 -9.3 -1.9 -5 -1.4 -5.5 -0.9 -10.5 0.5 -5.5 1.1 -5.5 1.8 -5.5 2.2 -5 6.3 -9.5 8.3 -8.4 10 -6.9 11.5 -5.3 13 -3.7 14.5 -1.6 7.5 0.1 7.5 0.7 14 3.1 6.5 2.3 6.5 3.1 6 3.5 5.5 4 5 4.6 4 4.5 3.5 5 2.9 5.5 2.2 5.5 1.4 5.5 0.7 6 0 6 -0.8 6 -1.4 5.5 -2.2 5.5 -2.9 5.5 -3.5 5 -4.4 5 -5 4.6 -5.3 3.9 -5.7 3.5 -6.5 3.2 -13.5 4.5 -14.5 2.3z"/><path fill="#c30000" d="M171.5 180.5l-13 0.3 -13 -1.6 -12 -3.3 -11 -5.1 -9.9 -6.8 -7.9 -8 -5.8 -9 -3.8 -10 -1 -5 -0.5 -5.5 0.9 -10.5 1.5 -5.5 1.9 -5 5.5 -9.5 7.4 -8.5 9.2 -7.2 11 -5.9 12 -4.1 7 -1.5 7.5 -1 7.5 -0.3 7.5 0.2 7.5 1 7.5 1.5 7 2.2 6.5 2.6 6 3.1 5.9 3.9 5.1 4.1 4.5 4.5 4 5 3.3 5.4 2.6 5.5 1.7 5.5 1.1 6 0.3 6 -0.4 6 -1.2 5.5 -2 6 -2.7 5.5 -3.2 5 -4.1 5 -4.5 4.5 -5.4 4.4 -6 3.8 -6 3.2 -6.5 2.7 -7 2.2 -7.5 1.7 -7.5 1z"/><path fill="#bb0000" d="M165.5 180.5l-14 -0.7 -13.5 -2.8 -12 -4.7 -5.5 -3.1 -5.5 -3.8 -4.7 -3.9 -4.3 -4.5 -3.4 -4.5 -3.1 -5 -2.5 -5.5 -1.7 -5.5 -1 -5.5 -0.3 -5.5 0.3 -5.5 0.9 -5.5 1.6 -5.5 2.4 -5.5 2.9 -5 3.6 -5 4.1 -4.5 4.7 -4.2 10.5 -7.1 12.5 -5.4 13 -3.2 14 -1.3 14 1 13 3 12.5 5.1 10.5 6.7 4.5 3.9 4.3 4.5 3.4 4.5 3 5 2.3 5 1.8 5.5 1.1 5.5 0.3 5.5 -0.3 5.5 -0.9 5.5 -1.7 5.5 -2.1 5 -2.9 5 -3.6 5 -8.6 8.5 -10.6 7.2 -12 5.4 -13.5 3.5 -13.5 1.4z"/><path fill="#b30000" d="M168 180l-13.5 -0.2 -13 -2.3 -12 -4 -11 -6 -9 -7.3 -7.2 -8.7 -2.9 -5 -2.2 -5 -1.5 -5 -1.1 -5.5 -0.3 -5.5 0.3 -5.5 1 -5.5 1.4 -5 2.1 -5 2.9 -5.2 3.4 -4.8 3.9 -4.5 9.2 -7.8 11 -6.3 12 -4.4 13 -2.6 14.5 -0.6 14 1.7 7 1.7 6.5 2.2 6.5 2.9 5.5 3.1 5.3 3.6 4.7 4 4.4 4.5 3.6 4.7 3 5 2.4 5.3 1.7 5.5 1 5.5 0.3 6 -0.4 5.5 -1.1 5.5 -1.8 5.5 -2.6 5.5 -3 4.9 -3.6 4.6 -4.4 4.6 -5 4.2 -5.5 3.8 -12 6 -13.5 4 -14 1.9z"/><path fill="#ab0000" d="M170 179.5l-13 0.1 -13 -1.9 -12 -3.6 -11 -5.4 -9.5 -7.1 -7.4 -8.1 -5.3 -9 -3.2 -10 -0.8 -5 -0.2 -5.5 0.5 -5.5 1.1 -5 3.8 -10 2.9 -5 3.3 -4.5 7.9 -8 9.9 -6.9 11.5 -5.3 12 -3.4 7 -1.2 7.5 -0.6 14.5 0.7 14 2.9 7 2.5 6 2.7 5.5 3.2 5.5 3.9 4.6 4 4.4 4.7 3.5 4.8 3.1 5.5 2.2 5.5 1.5 5.5 0.7 5.5 0.1 6 -0.8 6 -1.4 5.5 -2.2 5.5 -3 5.5 -3.5 5 -4 4.5 -4.7 4.3 -5.5 4.1 -5.5 3.3 -6.5 3.2 -6.5 2.4 -7 2 -14 2.2z"/><path fill="#a30000" d="M171.5 179l-13 0.3 -12.5 -1.5 -11.5 -3.2 -11 -4.9 -9.5 -6.4 -7.9 -7.8 -5.7 -8.5 -3.8 -9.5 -1.6 -10 0.1 -5.5 0.6 -5 3 -10 5.3 -9.5 7 -8.2 9 -7.3 10.5 -5.8 11.5 -4.1 7 -1.6 7.5 -1.1 14.5 -0.3 7.5 0.8 7 1.4 7 1.9 6.5 2.5 6 2.9 6 3.7 5 3.8 4.7 4.4 4.2 5 3.2 5 2.7 5.5 1.9 5.5 1.3 6 0.3 6 -0.4 6 -1.1 5.5 -1.8 5.5 -2.7 5.5 -3.1 5 -4.1 5 -4.6 4.6 -5 4 -5.5 3.6 -6.5 3.4 -6.5 2.7 -7 2.2 -7 1.5 -7.5 1z"/><path fill="#9b0000" d="M166.5 179l-14 -0.6 -13 -2.5 -12 -4.5 -10.5 -6.2 -8.7 -7.7 -3.7 -4.5 -3.1 -4.8 -2.6 -5.2 -1.8 -5 -1.1 -5 -0.7 -5.5 0.1 -5 0.6 -5.5 1.4 -5.5 1.9 -5 2.5 -5 3.3 -5 7.9 -8.6 10 -7.4 11.5 -5.6 12.5 -3.7 13.5 -1.8 14 0.4 13.5 2.4 12.5 4.5 11 6.3 9 7.8 4 4.7 3 4.5 2.6 5 1.9 5 1.3 5.5 0.7 5.5 -0.1 5.5 -0.7 5.5 -1.4 5.5 -2 5 -2.7 5 -3.4 5 -8.2 8.5 -10 7.1 -12 5.6 -13 3.7 -14 1.6z"/><path fill="#930000" d="M169 178.5l-13 -0.1 -12.5 -1.9 -12 -3.8 -10.5 -5.3 -9.2 -6.9 -7.3 -8.2 -5.2 -9.3 -3 -10 -0.6 -5 0 -5.5 1.8 -10 1.7 -5 2.4 -5 6.3 -9 8.1 -7.7 10 -6.6 11.5 -5 12 -3.1 14 -1.4 14.5 0.9 13.5 3 6.5 2.4 6 2.8 5.5 3.3 5.4 3.9 4.6 4.2 4 4.5 3.3 4.8 2.7 5 2.2 5.5 1.3 5.5 0.7 5.5 -0.1 6 -0.8 5.5 -1.5 5.5 -2.3 5.5 -2.9 5 -3.6 5 -4 4.3 -4.7 4.2 -5.3 3.9 -6 3.5 -6 2.8 -6.5 2.4 -7 1.9 -14 2z"/><path fill="#8b0000" d="M171 178l-12.5 0.2 -12.5 -1.5 -12 -3.4 -10.5 -4.8 -9.4 -6.5 -7.5 -7.5 -5.6 -8.5 -3.6 -9.5 -1.4 -10 0.8 -10 3.2 -10 5.2 -9 7 -8 8.9 -7 10.4 -5.6 11.5 -4 14 -2.5 14.5 -0.2 14 2.1 7 2 6.5 2.5 6 3 5.5 3.3 5.1 3.9 4.7 4.5 3.8 4.5 3.4 5.2 2.6 5.3 1.9 5.5 1.1 5.5 0.4 6 -0.4 6 -1.2 5.5 -1.9 5.5 -2.5 5.2 -3.1 4.8 -4.1 5 -4.6 4.5 -5.2 4.1 -5.5 3.5 -6 3.1 -6.5 2.7 -7 2.1 -7 1.5 -7.5 1z"/><path fill="#800000" d="M163.5 178l-13.7 -1 -13.3 -3.2 -12 -5.2 -5.5 -3.3 -5 -3.8 -4.3 -4 -3.8 -4.5 -3.4 -5 -2.5 -5 -2 -5.5 -1.2 -5.5 -0.5 -5.5 0.2 -5.5 0.8 -5.5 1.6 -5.5 2.4 -5.5 2.9 -5 3.3 -4.5 4.2 -4.5 4.8 -4.3 5 -3.5 6 -3.5 6 -2.8 13 -4 14.2 -1.9 13.8 0.3 13 2.4 11.5 4 10.5 5.7 8.9 7.1 6.7 8 2.9 4.7 2.2 4.8 1.6 5 1 5 0.2 10.1 -2 9.5 -1.9 4.9 -2.6 4.8 -6.5 8.6 -9 8 -10.5 6.3 -11.5 4.5 -12.5 2.8 -13 1z"/></g></svg></div>
<div id="cb"></div>
<div class="t" style="left:703.6px;top:33px;font-size:12px;">×10<span style="font-size:7px;position:relative;top:-4px">-3</span></div>
<div class="t" style="left:662.5px;top:292.6px;font-size:12.6px;">mm</div>
<div class="t" style="right:701.50px;top:50.35px;font-size:12.5px;">12</div>
<div class="t" style="right:701.50px;top:75.80px;font-size:12.5px;">10</div>
<div class="t" style="right:701.50px;top:101.25px;font-size:12.5px;">8</div>
<div class="t" style="right:701.50px;top:126.70px;font-size:12.5px;">6</div>
<div class="t" style="right:701.50px;top:152.15px;font-size:12.5px;">4</div>
<div class="t" style="right:701.50px;top:177.60px;font-size:12.5px;">2</div>
<div class="t" style="right:701.50px;top:203.05px;font-size:12.5px;">0</div>
<div class="t" style="right:701.50px;top:228.50px;font-size:12.5px;">-2</div>
<div class="t" style="right:701.50px;top:253.95px;font-size:12.5px;">-4</div>
<div class="t" style="right:701.50px;top:279.40px;font-size:12.5px;">-6</div>
<div class="t c" style="left:67.50px;top:298.75px;font-size:12.5px;">-20</div>
<div class="xt" style="left:116.5px"></div>
<div class="t c" style="left:141.60px;top:298.75px;font-size:12.5px;">-15</div>
<div class="xt" style="left:189.0px"></div>
<div class="t c" style="left:214.20px;top:298.75px;font-size:12.5px;">-10</div>
<div class="xt" style="left:260.0px"></div>
<div class="t c" style="left:277.60px;top:298.75px;font-size:12.5px;">-5</div>
<div class="xt" style="left:326.8px"></div>
<div class="t c" style="left:345.80px;top:298.75px;font-size:12.5px;">5</div>
<div class="xt" style="left:396.1px"></div>
<div class="t c" style="left:414.70px;top:298.75px;font-size:12.5px;">10</div>
<div class="xt" style="left:462.8px"></div>
<div class="t c" style="left:486.60px;top:298.75px;font-size:12.5px;">15</div>
<div class="xt" style="left:533.9px"></div>
<div class="t c" style="left:558.70px;top:298.75px;font-size:12.5px;">20</div>
<div class="xt" style="left:606.8px"></div>
<div class="t" style="left:702.50px;top:61.60px;font-size:12.5px;">18</div>
<div class="cbt" style="left:693.4px;top:67.8px"></div><div class="cbt" style="left:698.8px;top:67.8px"></div>
<div class="t" style="left:702.50px;top:86.43px;font-size:12.5px;">16</div>
<div class="cbt" style="left:693.4px;top:92.7px"></div><div class="cbt" style="left:698.8px;top:92.7px"></div>
<div class="t" style="left:702.50px;top:111.26px;font-size:12.5px;">14</div>
<div class="cbt" style="left:693.4px;top:117.5px"></div><div class="cbt" style="left:698.8px;top:117.5px"></div>
<div class="t" style="left:702.50px;top:136.09px;font-size:12.5px;">12</div>
<div class="cbt" style="left:693.4px;top:142.3px"></div><div class="cbt" style="left:698.8px;top:142.3px"></div>
<div class="t" style="left:702.50px;top:160.92px;font-size:12.5px;">10</div>
<div class="cbt" style="left:693.4px;top:167.2px"></div><div class="cbt" style="left:698.8px;top:167.2px"></div>
<div class="t" style="left:702.50px;top:185.75px;font-size:12.5px;">8</div>
<div class="cbt" style="left:693.4px;top:192.0px"></div><div class="cbt" style="left:698.8px;top:192.0px"></div>
<div class="t" style="left:702.50px;top:210.58px;font-size:12.5px;">6</div>
<div class="cbt" style="left:693.4px;top:216.8px"></div><div class="cbt" style="left:698.8px;top:216.8px"></div>
<div class="t" style="left:702.50px;top:235.41px;font-size:12.5px;">4</div>
<div class="cbt" style="left:693.4px;top:241.7px"></div><div class="cbt" style="left:698.8px;top:241.7px"></div>
<div class="t" style="left:702.50px;top:260.24px;font-size:12.5px;">2</div>
<div class="cbt" style="left:693.4px;top:266.5px"></div><div class="cbt" style="left:698.8px;top:266.5px"></div>
<div class="dot" style="left:153.70px;top:152.00px"></div>
<div class="dot" style="left:465.50px;top:152.00px"></div>
<div class="dot" style="left:165.34px;top:152.00px"></div>
<div class="dot" style="left:477.14px;top:152.00px"></div>
<div class="dot" style="left:176.98px;top:152.00px"></div>
<div class="dot" style="left:488.78px;top:152.00px"></div>
<div class="dot" style="left:188.62px;top:152.00px"></div>
<div class="dot" style="left:500.42px;top:152.00px"></div>
<div class="dot" style="left:200.26px;top:152.00px"></div>
<div class="dot" style="left:512.06px;top:152.00px"></div>
<div class="dot" style="left:211.90px;top:152.00px"></div>
<div class="dot" style="left:523.70px;top:152.00px"></div>
<div class="dot" style="left:223.54px;top:152.00px"></div>
<div class="dot" style="left:535.34px;top:152.00px"></div>
<div class="dot" style="left:235.18px;top:152.00px"></div>
<div class="dot" style="left:546.98px;top:152.00px"></div>
<div class="dot" style="left:246.82px;top:152.00px"></div>
<div class="dot" style="left:558.62px;top:152.00px"></div>
<div class="dot" style="left:296.10px;top:241.50px"></div>
<div class="dot" style="left:380.10px;top:241.50px"></div>
<div class="dot" style="left:308.10px;top:241.50px"></div>
<div class="dot" style="left:392.10px;top:241.50px"></div>
<div class="dot" style="left:320.10px;top:241.50px"></div>
<div class="dot" style="left:404.10px;top:241.50px"></div>
<div class="dot" style="left:332.10px;top:241.50px"></div>
<div class="dot" style="left:416.10px;top:241.50px"></div>
<svg style="position:absolute;left:0;top:0" width="737" height="319" viewBox="0 0 737 319">
<line x1="42" y1="171.6" x2="682" y2="171.6" stroke="#000" stroke-opacity="0.5" stroke-width="1.3"/>
<rect x="152.5" y="151.5" width="106.5" height="13.6" rx="2" fill="none" stroke="#000" stroke-opacity="0.13" stroke-width="1"/>
<rect x="465" y="151.5" width="106.5" height="13.6" rx="2" fill="none" stroke="#000" stroke-opacity="0.13" stroke-width="1"/>
<rect x="294.5" y="240.5" width="52.5" height="14" rx="6" fill="none" stroke="#000" stroke-opacity="0.15" stroke-width="1"/>
<rect x="377.5" y="240.5" width="52.5" height="14" rx="6" fill="none" stroke="#000" stroke-opacity="0.15" stroke-width="1"/>
<line x1="570" y1="153.95" x2="610" y2="153.95" stroke="#fff" stroke-width="2.2"/>
<path d="M623.4 153.9 Q615 150.2 606.5 144.4 Q611.2 153.9 606.7 163.3 Q615 157.6 623.4 153.9 Z" fill="#fff"/>
<line x1="427" y1="246.85" x2="464" y2="246.85" stroke="#fff" stroke-width="2.2"/>
<path d="M476.9 246.8 Q468.5 243 460 237.6 Q465 246.8 460 256.2 Q468.5 250.6 476.9 246.8 Z" fill="#fff"/>
</svg>
<div class="t red" style="left:632.5px;top:147.7px;">TX</div>
<div class="t red" style="left:484px;top:238.7px;">Rx</div>
<div class="t red" style="left:610.6px;top:231.2px;font-size:18.6px">Skin</div>

</body></html>
